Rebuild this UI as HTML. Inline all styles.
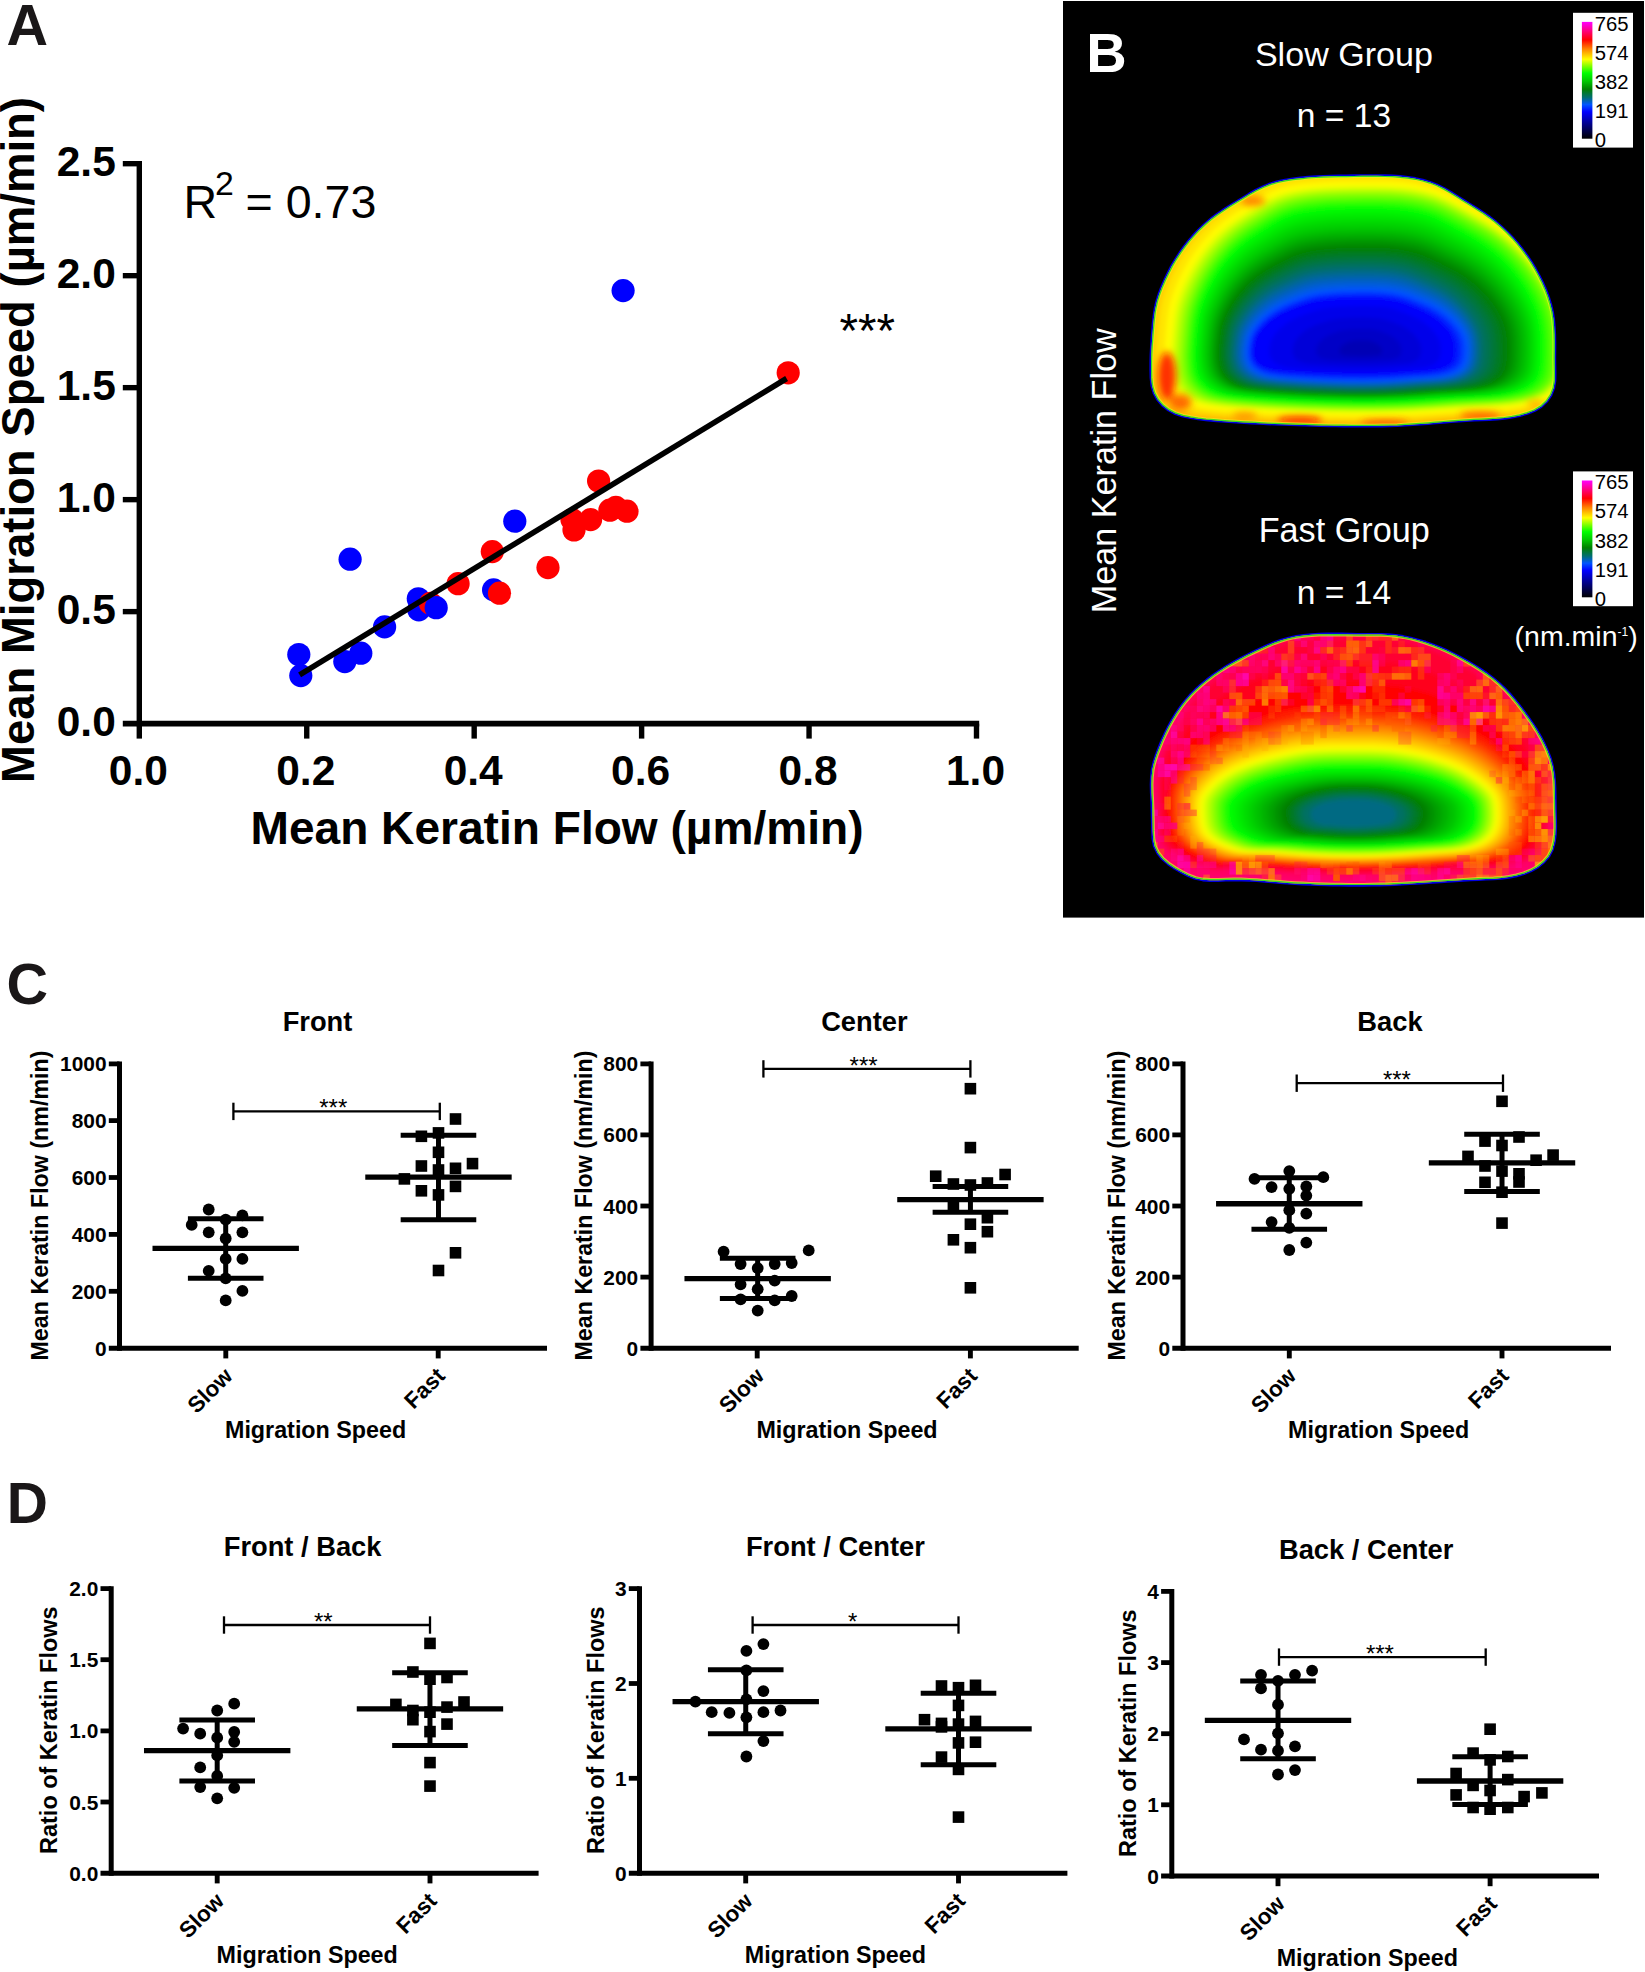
<!DOCTYPE html>
<html lang="en"><head><meta charset="utf-8"><title>Figure</title>
<style>html,body{margin:0;padding:0;background:#fff}svg{display:block}text{white-space:pre}</style>
</head><body>
<svg width="1645" height="1972" viewBox="0 0 1645 1972" font-family='"Liberation Sans", sans-serif'>
<rect width="1645" height="1972" fill="#fff"/>
<text x="6.60" y="45.20" font-size="57.5" font-weight="bold" text-anchor="start" fill="#1a1718">A</text>
<line x1="139.30" y1="161.00" x2="139.30" y2="726.30" stroke="#000" stroke-width="5.4" stroke-linecap="butt"/>
<line x1="122.80" y1="723.60" x2="979.20" y2="723.60" stroke="#000" stroke-width="5.6" stroke-linecap="butt"/>
<text x="115.80" y="736.00" font-size="42.5" font-weight="bold" text-anchor="end" fill="#000">0.0</text>
<line x1="122.80" y1="611.62" x2="139.30" y2="611.62" stroke="#000" stroke-width="5.4" stroke-linecap="butt"/>
<text x="115.80" y="624.02" font-size="42.5" font-weight="bold" text-anchor="end" fill="#000">0.5</text>
<line x1="122.80" y1="499.64" x2="139.30" y2="499.64" stroke="#000" stroke-width="5.4" stroke-linecap="butt"/>
<text x="115.80" y="512.04" font-size="42.5" font-weight="bold" text-anchor="end" fill="#000">1.0</text>
<line x1="122.80" y1="387.66" x2="139.30" y2="387.66" stroke="#000" stroke-width="5.4" stroke-linecap="butt"/>
<text x="115.80" y="400.06" font-size="42.5" font-weight="bold" text-anchor="end" fill="#000">1.5</text>
<line x1="122.80" y1="275.68" x2="139.30" y2="275.68" stroke="#000" stroke-width="5.4" stroke-linecap="butt"/>
<text x="115.80" y="288.08" font-size="42.5" font-weight="bold" text-anchor="end" fill="#000">2.0</text>
<line x1="122.80" y1="163.70" x2="139.30" y2="163.70" stroke="#000" stroke-width="5.4" stroke-linecap="butt"/>
<text x="115.80" y="176.10" font-size="42.5" font-weight="bold" text-anchor="end" fill="#000">2.5</text>
<line x1="139.30" y1="723.60" x2="139.30" y2="738.60" stroke="#000" stroke-width="5.4" stroke-linecap="butt"/>
<text x="138.30" y="785.00" font-size="42.5" font-weight="bold" text-anchor="middle" fill="#000">0.0</text>
<line x1="306.74" y1="723.60" x2="306.74" y2="738.60" stroke="#000" stroke-width="5.4" stroke-linecap="butt"/>
<text x="305.74" y="785.00" font-size="42.5" font-weight="bold" text-anchor="middle" fill="#000">0.2</text>
<line x1="474.18" y1="723.60" x2="474.18" y2="738.60" stroke="#000" stroke-width="5.4" stroke-linecap="butt"/>
<text x="473.18" y="785.00" font-size="42.5" font-weight="bold" text-anchor="middle" fill="#000">0.4</text>
<line x1="641.62" y1="723.60" x2="641.62" y2="738.60" stroke="#000" stroke-width="5.4" stroke-linecap="butt"/>
<text x="640.62" y="785.00" font-size="42.5" font-weight="bold" text-anchor="middle" fill="#000">0.6</text>
<line x1="809.06" y1="723.60" x2="809.06" y2="738.60" stroke="#000" stroke-width="5.4" stroke-linecap="butt"/>
<text x="808.06" y="785.00" font-size="42.5" font-weight="bold" text-anchor="middle" fill="#000">0.8</text>
<line x1="976.50" y1="723.60" x2="976.50" y2="738.60" stroke="#000" stroke-width="5.4" stroke-linecap="butt"/>
<text x="975.50" y="785.00" font-size="42.5" font-weight="bold" text-anchor="middle" fill="#000">1.0</text>
<text x="557.00" y="844.20" font-size="46.1" font-weight="bold" text-anchor="middle" fill="#000">Mean Keratin Flow (µm/min)</text>
<text x="33.60" y="440.00" font-size="45.5" font-weight="bold" text-anchor="middle" fill="#000" transform="rotate(-90 33.60 440.00)">Mean Migration Speed (µm/min)</text>
<text x="183.4" y="217.8" font-size="46.6" fill="#000">R<tspan dx="-2" dy="-23" font-size="33.8">2</tspan><tspan dx="-1.3" dy="23"> = 0.73</tspan></text>
<text x="839.60" y="346.60" font-size="47.5" text-anchor="start" fill="#000">***</text>
<circle cx="298.8" cy="654.5" r="11.6" fill="#0000ff"/>
<circle cx="300.8" cy="675.6" r="11.6" fill="#0000ff"/>
<circle cx="344.8" cy="661.6" r="11.6" fill="#0000ff"/>
<circle cx="360.8" cy="653.2" r="11.6" fill="#0000ff"/>
<circle cx="384.6" cy="626.9" r="11.6" fill="#0000ff"/>
<circle cx="350.1" cy="559.2" r="11.6" fill="#0000ff"/>
<circle cx="418.3" cy="598.8" r="11.6" fill="#0000ff"/>
<circle cx="418.8" cy="609.8" r="11.6" fill="#0000ff"/>
<circle cx="493.6" cy="589.9" r="11.6" fill="#0000ff"/>
<circle cx="514.8" cy="521.2" r="11.6" fill="#0000ff"/>
<circle cx="623.1" cy="290.6" r="11.6" fill="#0000ff"/>
<circle cx="430.5" cy="603.4" r="11.6" fill="#ff0000"/>
<circle cx="458.1" cy="583.7" r="11.6" fill="#ff0000"/>
<circle cx="499.5" cy="593.2" r="11.6" fill="#ff0000"/>
<circle cx="492.3" cy="551.6" r="11.6" fill="#ff0000"/>
<circle cx="548" cy="567.6" r="11.6" fill="#ff0000"/>
<circle cx="574" cy="530" r="11.6" fill="#ff0000"/>
<circle cx="572" cy="519.5" r="11.6" fill="#ff0000"/>
<circle cx="590.6" cy="519.6" r="11.6" fill="#ff0000"/>
<circle cx="609.9" cy="510.2" r="11.6" fill="#ff0000"/>
<circle cx="615.9" cy="507.4" r="11.6" fill="#ff0000"/>
<circle cx="627" cy="511.2" r="11.6" fill="#ff0000"/>
<circle cx="598.6" cy="481" r="11.6" fill="#ff0000"/>
<circle cx="788.2" cy="372.8" r="11.6" fill="#ff0000"/>
<circle cx="436.2" cy="607.7" r="11.6" fill="#0000ff"/>
<line x1="299.60" y1="674.90" x2="786.60" y2="378.50" stroke="#000" stroke-width="5.6" stroke-linecap="butt"/>
<defs><linearGradient id="cbar" x1="0" y1="0" x2="0" y2="1">
<stop offset="0.000" stop-color="#ff00ff"/>
<stop offset="0.092" stop-color="#ff0064"/>
<stop offset="0.153" stop-color="#ff0000"/>
<stop offset="0.230" stop-color="#ff8000"/>
<stop offset="0.320" stop-color="#ffff00"/>
<stop offset="0.438" stop-color="#00ff00"/>
<stop offset="0.507" stop-color="#00c800"/>
<stop offset="0.576" stop-color="#008000"/>
<stop offset="0.646" stop-color="#006e6e"/>
<stop offset="0.708" stop-color="#0055ff"/>
<stop offset="0.770" stop-color="#0000ff"/>
<stop offset="0.854" stop-color="#0000a0"/>
<stop offset="1.000" stop-color="#000000"/>
</linearGradient></defs>
<rect x="1063" y="1" width="581" height="916.6" fill="#000"/>
<text x="1086.20" y="71.80" font-size="56" font-weight="bold" text-anchor="start" fill="#fff">B</text>
<text x="1343.90" y="66.10" font-size="34.1" text-anchor="middle" fill="#fff">Slow Group</text>
<text x="1344.00" y="127.40" font-size="33.6" text-anchor="middle" fill="#fff">n = 13</text>
<text x="1344.20" y="542.20" font-size="34.2" text-anchor="middle" fill="#fff">Fast Group</text>
<text x="1344.00" y="603.70" font-size="33.6" text-anchor="middle" fill="#fff">n = 14</text>
<text x="1116.00" y="470.80" font-size="34.2" text-anchor="middle" fill="#fff" transform="rotate(-90 1116.00 470.80)">Mean Keratin Flow</text>
<text x="1514.6" y="645.8" font-size="28.5" fill="#fff">(nm.min<tspan dy="-10.2" font-size="12">-1</tspan><tspan dy="10.2">)</tspan></text>
<rect x="1573" y="12.8" width="60" height="134.8" fill="#fff"/>
<rect x="1581.9" y="21.9" width="10.5" height="116.8" fill="url(#cbar)"/>
<text x="1594.80" y="30.80" font-size="20.3" text-anchor="start" fill="#000">765</text>
<text x="1594.80" y="59.80" font-size="20.3" text-anchor="start" fill="#000">574</text>
<text x="1594.80" y="88.90" font-size="20.3" text-anchor="start" fill="#000">382</text>
<text x="1594.80" y="118.10" font-size="20.3" text-anchor="start" fill="#000">191</text>
<text x="1594.80" y="146.90" font-size="20.3" text-anchor="start" fill="#000">0</text>
<rect x="1573" y="471.4" width="60" height="134.8" fill="#fff"/>
<rect x="1581.9" y="480.5" width="10.5" height="116.8" fill="url(#cbar)"/>
<text x="1594.80" y="489.40" font-size="20.3" text-anchor="start" fill="#000">765</text>
<text x="1594.80" y="518.40" font-size="20.3" text-anchor="start" fill="#000">574</text>
<text x="1594.80" y="547.50" font-size="20.3" text-anchor="start" fill="#000">382</text>
<text x="1594.80" y="576.70" font-size="20.3" text-anchor="start" fill="#000">191</text>
<text x="1594.80" y="605.50" font-size="20.3" text-anchor="start" fill="#000">0</text>
<clipPath id="clipS"><path d="M1153.3,324.1 1154.1,316.5 1155.2,308.9 1156.9,301.4 1159.2,294.1 1161.9,286.9 1165.0,279.8 1168.3,272.9 1171.8,266.1 1175.7,259.5 1179.9,253.0 1184.4,246.8 1189.1,240.7 1194.2,234.9 1199.5,229.3 1205.1,224.1 1210.9,219.1 1217.0,214.5 1223.3,210.2 1229.8,206.1 1236.4,202.0 1243.0,198.0 1249.5,194.0 1256.2,190.2 1263.1,186.9 1270.2,184.1 1277.6,181.9 1285.2,180.3 1292.8,179.1 1300.5,178.2 1308.1,177.4 1315.7,176.9 1323.3,176.5 1330.9,176.3 1338.5,176.1 1346.1,176.0 1353.8,175.9 1361.5,175.8 1369.3,175.8 1377.1,175.8 1384.9,175.9 1392.6,176.1 1400.3,176.7 1407.9,177.5 1415.4,178.7 1422.8,180.4 1430.1,182.5 1437.1,185.2 1444.0,188.6 1450.7,192.4 1457.2,196.5 1463.8,200.7 1470.4,204.8 1477.0,208.9 1483.4,213.0 1489.7,217.4 1495.7,222.1 1501.5,227.1 1507.1,232.3 1512.4,237.8 1517.4,243.5 1522.2,249.5 1526.8,255.7 1531.1,262.1 1535.1,268.7 1538.8,275.4 1542.3,282.4 1545.4,289.4 1548.1,296.6 1550.4,303.9 1552.2,311.3 1553.4,318.8 1554.1,326.4 1554.5,334.0 1554.7,341.7 1554.7,349.4 1554.6,357.2 1554.7,365.0 1554.9,372.8 1554.8,380.6 1553.6,388.0 1550.9,395.0 1546.7,401.2 1541.2,406.4 1534.7,410.3 1527.3,413.2 1519.7,415.4 1512.1,416.9 1504.4,418.1 1496.8,418.8 1489.2,419.3 1481.6,419.7 1474.0,420.0 1466.3,420.4 1458.7,420.9 1451.0,421.4 1443.4,422.1 1435.7,422.7 1428.0,423.4 1420.4,424.0 1412.7,424.5 1405.0,425.0 1397.3,425.4 1389.7,425.6 1382.0,425.8 1374.4,425.9 1366.7,426.0 1359.0,426.0 1351.4,425.9 1343.7,425.8 1336.0,425.7 1328.4,425.6 1320.7,425.4 1313.0,425.2 1305.3,425.0 1297.6,424.7 1290.0,424.5 1282.3,424.2 1274.6,423.9 1266.9,423.6 1259.3,423.2 1251.6,422.8 1244.0,422.4 1236.3,421.9 1228.7,421.4 1221.1,420.9 1213.5,420.3 1205.9,419.6 1198.2,418.7 1190.5,417.5 1182.8,415.9 1175.4,413.5 1168.6,409.9 1162.6,405.2 1157.7,399.5 1154.1,392.9 1152.0,385.6 1151.2,377.9 1151.0,370.1 1151.0,362.3 1151.2,354.6 1151.6,347.0 1152.1,339.4 1152.7,331.7Z"/></clipPath>
<path d="M1153.3,324.1 1154.1,316.5 1155.2,308.9 1156.9,301.4 1159.2,294.1 1161.9,286.9 1165.0,279.8 1168.3,272.9 1171.8,266.1 1175.7,259.5 1179.9,253.0 1184.4,246.8 1189.1,240.7 1194.2,234.9 1199.5,229.3 1205.1,224.1 1210.9,219.1 1217.0,214.5 1223.3,210.2 1229.8,206.1 1236.4,202.0 1243.0,198.0 1249.5,194.0 1256.2,190.2 1263.1,186.9 1270.2,184.1 1277.6,181.9 1285.2,180.3 1292.8,179.1 1300.5,178.2 1308.1,177.4 1315.7,176.9 1323.3,176.5 1330.9,176.3 1338.5,176.1 1346.1,176.0 1353.8,175.9 1361.5,175.8 1369.3,175.8 1377.1,175.8 1384.9,175.9 1392.6,176.1 1400.3,176.7 1407.9,177.5 1415.4,178.7 1422.8,180.4 1430.1,182.5 1437.1,185.2 1444.0,188.6 1450.7,192.4 1457.2,196.5 1463.8,200.7 1470.4,204.8 1477.0,208.9 1483.4,213.0 1489.7,217.4 1495.7,222.1 1501.5,227.1 1507.1,232.3 1512.4,237.8 1517.4,243.5 1522.2,249.5 1526.8,255.7 1531.1,262.1 1535.1,268.7 1538.8,275.4 1542.3,282.4 1545.4,289.4 1548.1,296.6 1550.4,303.9 1552.2,311.3 1553.4,318.8 1554.1,326.4 1554.5,334.0 1554.7,341.7 1554.7,349.4 1554.6,357.2 1554.7,365.0 1554.9,372.8 1554.8,380.6 1553.6,388.0 1550.9,395.0 1546.7,401.2 1541.2,406.4 1534.7,410.3 1527.3,413.2 1519.7,415.4 1512.1,416.9 1504.4,418.1 1496.8,418.8 1489.2,419.3 1481.6,419.7 1474.0,420.0 1466.3,420.4 1458.7,420.9 1451.0,421.4 1443.4,422.1 1435.7,422.7 1428.0,423.4 1420.4,424.0 1412.7,424.5 1405.0,425.0 1397.3,425.4 1389.7,425.6 1382.0,425.8 1374.4,425.9 1366.7,426.0 1359.0,426.0 1351.4,425.9 1343.7,425.8 1336.0,425.7 1328.4,425.6 1320.7,425.4 1313.0,425.2 1305.3,425.0 1297.6,424.7 1290.0,424.5 1282.3,424.2 1274.6,423.9 1266.9,423.6 1259.3,423.2 1251.6,422.8 1244.0,422.4 1236.3,421.9 1228.7,421.4 1221.1,420.9 1213.5,420.3 1205.9,419.6 1198.2,418.7 1190.5,417.5 1182.8,415.9 1175.4,413.5 1168.6,409.9 1162.6,405.2 1157.7,399.5 1154.1,392.9 1152.0,385.6 1151.2,377.9 1151.0,370.1 1151.0,362.3 1151.2,354.6 1151.6,347.0 1152.1,339.4 1152.7,331.7Z" fill="none" stroke="#0000e0" stroke-width="3.2" stroke-linejoin="round"/>
<filter id="blurS" x="-5%" y="-5%" width="110%" height="110%"><feGaussianBlur stdDeviation="2.0"/></filter>
<g clip-path="url(#clipS)"><g filter="url(#blurS)">
<path d="M1153.3,324.1 1154.1,316.5 1155.2,308.9 1156.9,301.4 1159.2,294.1 1161.9,286.9 1165.0,279.8 1168.3,272.9 1171.8,266.1 1175.7,259.5 1179.9,253.0 1184.4,246.8 1189.1,240.7 1194.2,234.9 1199.5,229.3 1205.1,224.1 1210.9,219.1 1217.0,214.5 1223.3,210.2 1229.8,206.1 1236.4,202.0 1243.0,198.0 1249.5,194.0 1256.2,190.2 1263.1,186.9 1270.2,184.1 1277.6,181.9 1285.2,180.3 1292.8,179.1 1300.5,178.2 1308.1,177.4 1315.7,176.9 1323.3,176.5 1330.9,176.3 1338.5,176.1 1346.1,176.0 1353.8,175.9 1361.5,175.8 1369.3,175.8 1377.1,175.8 1384.9,175.9 1392.6,176.1 1400.3,176.7 1407.9,177.5 1415.4,178.7 1422.8,180.4 1430.1,182.5 1437.1,185.2 1444.0,188.6 1450.7,192.4 1457.2,196.5 1463.8,200.7 1470.4,204.8 1477.0,208.9 1483.4,213.0 1489.7,217.4 1495.7,222.1 1501.5,227.1 1507.1,232.3 1512.4,237.8 1517.4,243.5 1522.2,249.5 1526.8,255.7 1531.1,262.1 1535.1,268.7 1538.8,275.4 1542.3,282.4 1545.4,289.4 1548.1,296.6 1550.4,303.9 1552.2,311.3 1553.4,318.8 1554.1,326.4 1554.5,334.0 1554.7,341.7 1554.7,349.4 1554.6,357.2 1554.7,365.0 1554.9,372.8 1554.8,380.6 1553.6,388.0 1550.9,395.0 1546.7,401.2 1541.2,406.4 1534.7,410.3 1527.3,413.2 1519.7,415.4 1512.1,416.9 1504.4,418.1 1496.8,418.8 1489.2,419.3 1481.6,419.7 1474.0,420.0 1466.3,420.4 1458.7,420.9 1451.0,421.4 1443.4,422.1 1435.7,422.7 1428.0,423.4 1420.4,424.0 1412.7,424.5 1405.0,425.0 1397.3,425.4 1389.7,425.6 1382.0,425.8 1374.4,425.9 1366.7,426.0 1359.0,426.0 1351.4,425.9 1343.7,425.8 1336.0,425.7 1328.4,425.6 1320.7,425.4 1313.0,425.2 1305.3,425.0 1297.6,424.7 1290.0,424.5 1282.3,424.2 1274.6,423.9 1266.9,423.6 1259.3,423.2 1251.6,422.8 1244.0,422.4 1236.3,421.9 1228.7,421.4 1221.1,420.9 1213.5,420.3 1205.9,419.6 1198.2,418.7 1190.5,417.5 1182.8,415.9 1175.4,413.5 1168.6,409.9 1162.6,405.2 1157.7,399.5 1154.1,392.9 1152.0,385.6 1151.2,377.9 1151.0,370.1 1151.0,362.3 1151.2,354.6 1151.6,347.0 1152.1,339.4 1152.7,331.7Z" fill="#ff4e00" stroke="#ff4e00" stroke-width="8"/>
<path d="M1141.9,322.5 1143.2,310.3 1145.7,298.4 1149.5,286.8 1154.2,275.5 1159.5,264.6 1165.5,254.0 1172.3,243.8 1179.7,234.1 1187.7,224.9 1196.5,216.4 1205.8,208.7 1215.7,201.7 1226.0,195.2 1236.4,188.8 1246.9,182.5 1257.6,177.0 1269.0,172.8 1280.9,170.1 1293.1,168.2 1305.1,167.0 1317.2,166.2 1329.2,165.7 1341.2,165.5 1353.3,165.4 1365.7,165.3 1378.5,165.2 1391.3,165.4 1404.0,166.2 1416.6,167.7 1428.8,170.1 1440.7,173.7 1452.0,178.8 1463.0,185.0 1473.8,191.7 1484.7,198.2 1495.4,204.7 1505.7,211.8 1515.3,219.6 1524.4,228.0 1532.8,237.1 1540.6,246.6 1547.8,256.7 1554.3,267.3 1560.1,278.2 1565.1,289.5 1569.0,301.1 1571.7,312.9 1573.1,324.9 1573.6,337.0 1573.7,349.3 1573.7,361.5 1573.9,373.7 1573.4,385.7 1569.6,396.9 1562.1,406.2 1551.7,412.8 1539.5,417.0 1526.9,419.7 1514.3,421.3 1501.7,422.2 1489.2,422.8 1476.6,423.3 1464.0,424.1 1451.4,425.0 1438.7,426.1 1426.1,427.0 1413.4,427.9 1400.8,428.5 1388.2,428.9 1375.5,429.1 1362.9,429.1 1350.8,429.1 1338.6,428.9 1326.5,428.7 1314.4,428.4 1302.2,428.1 1290.1,427.7 1277.9,427.3 1265.8,426.8 1253.6,426.2 1241.5,425.6 1229.4,424.9 1217.4,424.1 1205.3,423.2 1193.3,422.0 1181.1,420.3 1169.1,417.5 1158.0,412.4 1148.9,404.6 1142.7,394.7 1139.9,383.1 1139.4,370.8 1139.5,358.7 1140.1,346.7 1140.9,334.6Z" fill="#ff5b00"/>
<path d="M1144.1,322.7 1145.3,310.7 1147.8,298.9 1151.5,287.4 1156.2,276.2 1161.5,265.4 1167.4,254.9 1174.1,244.8 1181.4,235.2 1189.4,226.1 1198.1,217.7 1207.3,210.0 1217.2,203.1 1227.4,196.7 1237.7,190.4 1248.0,184.1 1258.6,178.6 1269.9,174.5 1281.7,171.8 1293.7,170.0 1305.7,168.7 1317.6,167.9 1329.5,167.5 1341.4,167.3 1353.4,167.1 1365.7,167.0 1378.4,167.0 1391.1,167.2 1403.7,167.9 1416.2,169.4 1428.3,171.8 1440.1,175.4 1451.4,180.4 1462.3,186.6 1473.0,193.2 1483.8,199.6 1494.4,206.1 1504.6,213.1 1514.1,220.8 1523.1,229.2 1531.5,238.1 1539.2,247.6 1546.3,257.6 1552.8,268.1 1558.6,278.9 1563.5,290.1 1567.4,301.6 1570.1,313.3 1571.5,325.1 1572.0,337.1 1572.1,349.3 1572.1,361.4 1572.3,373.5 1571.8,385.4 1568.0,396.4 1560.6,405.6 1550.3,412.2 1538.1,416.4 1525.6,419.0 1513.1,420.6 1500.7,421.5 1488.2,422.0 1475.7,422.5 1463.2,423.3 1450.7,424.3 1438.2,425.3 1425.6,426.3 1413.1,427.1 1400.5,427.7 1388.0,428.1 1375.4,428.3 1362.9,428.3 1350.9,428.3 1338.9,428.1 1326.8,427.9 1314.8,427.6 1302.8,427.3 1290.8,426.9 1278.7,426.5 1266.7,426.0 1254.7,425.5 1242.7,424.8 1230.7,424.1 1218.8,423.3 1206.9,422.4 1194.9,421.3 1182.9,419.6 1170.9,416.8 1160.0,411.7 1151.0,404.1 1144.8,394.2 1142.1,382.7 1141.6,370.6 1141.7,358.7 1142.2,346.7 1143.0,334.8Z" fill="#ff7500"/>
<path d="M1146.2,323.0 1147.5,311.1 1149.9,299.4 1153.6,288.0 1158.2,277.0 1163.5,266.2 1169.4,255.8 1175.9,245.8 1183.2,236.3 1191.1,227.3 1199.7,219.0 1208.9,211.4 1218.6,204.5 1228.7,198.1 1238.9,191.9 1249.1,185.7 1259.7,180.3 1270.8,176.2 1282.5,173.5 1294.4,171.7 1306.2,170.5 1318.0,169.7 1329.8,169.2 1341.6,169.0 1353.5,168.9 1365.6,168.8 1378.3,168.7 1390.9,169.0 1403.4,169.7 1415.7,171.1 1427.8,173.5 1439.5,177.1 1450.7,182.0 1461.5,188.1 1472.1,194.7 1482.8,201.1 1493.4,207.5 1503.5,214.4 1513.0,222.1 1521.9,230.3 1530.2,239.2 1537.9,248.6 1544.9,258.5 1551.3,268.9 1557.1,279.6 1562.0,290.7 1565.9,302.0 1568.5,313.6 1569.9,325.4 1570.4,337.3 1570.5,349.3 1570.4,361.3 1570.7,373.3 1570.2,385.0 1566.4,395.9 1559.1,405.1 1548.8,411.6 1536.8,415.7 1524.4,418.3 1512.0,419.9 1499.6,420.7 1487.3,421.3 1474.9,421.8 1462.5,422.6 1450.0,423.5 1437.6,424.5 1425.1,425.5 1412.7,426.3 1400.2,426.9 1387.8,427.3 1375.3,427.5 1362.9,427.5 1351.0,427.5 1339.1,427.3 1327.2,427.1 1315.3,426.8 1303.4,426.5 1291.5,426.1 1279.5,425.7 1267.6,425.2 1255.7,424.7 1243.9,424.1 1232.0,423.4 1220.2,422.6 1208.4,421.7 1196.6,420.5 1184.6,418.9 1172.8,416.1 1162.0,411.1 1153.1,403.5 1146.9,393.8 1144.3,382.4 1143.7,370.4 1143.9,358.6 1144.4,346.8 1145.2,334.9Z" fill="#ff8d00"/>
<path d="M1148.3,323.3 1149.6,311.5 1152.0,299.9 1155.7,288.6 1160.2,277.7 1165.4,267.0 1171.3,256.7 1177.8,246.8 1185.0,237.4 1192.8,228.5 1201.3,220.2 1210.4,212.7 1220.0,205.9 1230.0,199.6 1240.1,193.4 1250.2,187.3 1260.7,181.9 1271.7,177.9 1283.3,175.2 1295.1,173.4 1306.8,172.2 1318.5,171.4 1330.1,171.0 1341.8,170.8 1353.6,170.6 1365.6,170.5 1378.1,170.5 1390.7,170.7 1403.1,171.4 1415.3,172.9 1427.3,175.2 1438.9,178.8 1450.0,183.7 1460.7,189.7 1471.3,196.2 1481.9,202.5 1492.4,208.9 1502.4,215.8 1511.8,223.3 1520.7,231.5 1528.9,240.3 1536.5,249.6 1543.5,259.4 1549.9,269.7 1555.6,280.3 1560.4,291.3 1564.3,302.5 1566.9,314.0 1568.3,325.6 1568.8,337.4 1568.9,349.3 1568.8,361.2 1569.1,373.0 1568.6,384.7 1564.9,395.5 1557.6,404.5 1547.4,410.9 1535.5,415.0 1523.1,417.6 1510.8,419.1 1498.6,420.0 1486.3,420.5 1474.0,421.1 1461.7,421.8 1449.4,422.8 1437.0,423.8 1424.6,424.7 1412.3,425.5 1399.9,426.1 1387.6,426.5 1375.2,426.7 1362.9,426.7 1351.1,426.7 1339.3,426.5 1327.5,426.3 1315.8,426.0 1304.0,425.7 1292.2,425.3 1280.4,424.9 1268.6,424.4 1256.8,423.9 1245.0,423.3 1233.3,422.6 1221.6,421.8 1209.9,421.0 1198.2,419.8 1186.4,418.2 1174.7,415.4 1164.0,410.5 1155.2,403.0 1149.1,393.3 1146.4,382.1 1145.9,370.2 1146.0,358.5 1146.5,346.8 1147.3,335.1Z" fill="#ffa300"/>
<path d="M1150.5,323.6 1151.7,311.9 1154.1,300.4 1157.7,289.2 1162.3,278.4 1167.4,267.9 1173.2,257.7 1179.6,247.9 1186.8,238.5 1194.5,229.7 1202.9,221.5 1211.9,214.1 1221.4,207.3 1231.3,201.1 1241.3,195.0 1251.4,188.9 1261.7,183.6 1272.6,179.6 1284.1,176.9 1295.8,175.2 1307.4,174.0 1318.9,173.2 1330.5,172.7 1342.0,172.5 1353.7,172.4 1365.6,172.3 1378.0,172.2 1390.5,172.5 1402.8,173.2 1414.9,174.6 1426.8,177.0 1438.3,180.4 1449.3,185.3 1460.0,191.3 1470.4,197.7 1481.0,204.0 1491.4,210.3 1501.3,217.1 1510.6,224.6 1519.4,232.7 1527.6,241.4 1535.2,250.6 1542.1,260.3 1548.4,270.5 1554.1,281.0 1558.9,291.8 1562.7,303.0 1565.3,314.3 1566.7,325.9 1567.2,337.6 1567.3,349.4 1567.2,361.0 1567.5,372.8 1567.0,384.2 1563.3,394.9 1556.1,403.8 1545.9,410.1 1534.1,414.2 1521.9,416.7 1509.7,418.2 1497.5,419.1 1485.3,419.6 1473.1,420.1 1460.9,420.9 1448.7,421.8 1436.4,422.8 1424.2,423.7 1411.9,424.5 1399.6,425.1 1387.4,425.5 1375.1,425.7 1362.9,425.7 1351.2,425.7 1339.6,425.5 1327.9,425.3 1316.2,425.0 1304.5,424.7 1292.9,424.3 1281.2,423.9 1269.5,423.5 1257.9,422.9 1246.2,422.3 1234.6,421.7 1223.0,420.9 1211.4,420.0 1199.9,418.9 1188.2,417.3 1176.6,414.6 1166.0,409.7 1157.2,402.3 1151.2,392.8 1148.6,381.7 1148.1,370.0 1148.2,358.4 1148.7,346.9 1149.5,335.2Z" fill="#ffb900"/>
<path d="M1152.6,323.8 1153.9,312.3 1156.2,300.9 1159.8,289.9 1164.3,279.1 1169.4,268.7 1175.1,258.6 1181.5,248.9 1188.5,239.6 1196.2,230.9 1204.5,222.8 1213.4,215.4 1222.9,208.7 1232.7,202.6 1242.5,196.5 1252.5,190.5 1262.7,185.2 1273.6,181.3 1284.9,178.6 1296.4,176.9 1307.9,175.7 1319.4,174.9 1330.8,174.5 1342.3,174.3 1353.8,174.2 1365.6,174.0 1377.9,174.0 1390.2,174.2 1402.5,174.9 1414.5,176.3 1426.3,178.7 1437.7,182.1 1448.6,186.9 1459.2,192.9 1469.6,199.2 1480.0,205.4 1490.3,211.7 1500.2,218.4 1509.5,225.8 1518.2,233.8 1526.3,242.5 1533.8,251.6 1540.7,261.2 1547.0,271.3 1552.6,281.7 1557.4,292.4 1561.1,303.5 1563.7,314.7 1565.1,326.1 1565.6,337.7 1565.6,349.4 1565.6,360.6 1565.9,371.8 1565.4,382.8 1561.7,393.0 1554.5,401.5 1544.5,407.6 1532.8,411.4 1520.6,413.9 1508.5,415.3 1496.4,416.2 1484.4,416.7 1472.3,417.2 1460.1,417.9 1448.0,418.8 1435.8,419.7 1423.7,420.6 1411.5,421.3 1399.3,421.9 1387.2,422.3 1375.0,422.4 1362.9,422.5 1351.3,422.5 1339.8,422.3 1328.2,422.1 1316.7,421.8 1305.1,421.5 1293.6,421.2 1282.0,420.8 1270.5,420.4 1258.9,419.8 1247.4,419.3 1235.9,418.6 1224.4,417.9 1213.0,417.1 1201.5,416.0 1189.9,414.4 1178.4,411.8 1167.9,407.2 1159.3,400.1 1153.3,391.0 1150.7,380.4 1150.2,369.2 1150.4,358.1 1150.9,346.9 1151.6,335.4Z" fill="#ffcf00"/>
<path d="M1158.6,324.1 1159.8,312.7 1162.1,301.4 1165.7,290.5 1170.0,279.9 1175.0,269.5 1180.5,259.6 1186.7,250.0 1193.6,240.8 1201.1,232.2 1209.1,224.2 1217.8,216.9 1226.9,210.3 1236.5,204.2 1246.1,198.2 1255.7,192.3 1265.7,187.0 1276.2,183.1 1287.2,180.5 1298.4,178.7 1309.5,177.5 1320.6,176.7 1331.7,176.3 1342.8,176.0 1354.0,175.9 1365.5,175.8 1377.8,175.8 1390.0,176.0 1402.1,176.7 1414.1,178.1 1425.7,180.5 1437.0,183.9 1447.9,188.6 1458.4,194.5 1468.7,200.7 1479.1,206.9 1489.3,213.1 1499.1,219.7 1508.3,227.1 1516.9,235.0 1525.0,243.6 1532.4,252.6 1539.2,262.1 1545.4,272.1 1551.0,282.4 1555.7,293.0 1559.5,304.0 1562.1,315.1 1563.5,326.4 1564.0,337.8 1564.0,349.4 1564.0,360.2 1564.1,370.9 1563.4,381.3 1559.6,391.0 1552.4,399.1 1542.4,404.8 1530.8,408.5 1518.8,410.8 1506.9,412.3 1495.0,413.1 1483.2,413.6 1471.2,414.1 1459.3,414.8 1447.3,415.7 1435.2,416.6 1423.2,417.4 1411.1,418.2 1399.0,418.7 1387.0,419.0 1374.9,419.2 1362.9,419.3 1351.6,419.2 1340.4,419.1 1329.2,418.9 1318.0,418.6 1306.8,418.3 1295.6,418.0 1284.4,417.6 1273.2,417.1 1262.0,416.6 1250.9,416.1 1239.8,415.4 1228.7,414.7 1217.7,413.9 1206.6,412.8 1195.5,411.3 1184.4,408.9 1174.2,404.4 1165.8,397.7 1159.8,389.1 1157.1,379.0 1156.4,368.4 1156.4,357.8 1156.9,347.0 1157.6,335.5Z" fill="#ffe500"/>
<path d="M1166.5,325.0 1167.7,313.9 1169.9,303.0 1173.3,292.4 1177.5,282.2 1182.3,272.2 1187.7,262.5 1193.7,253.3 1200.3,244.4 1207.5,236.1 1215.2,228.3 1223.5,221.3 1232.3,214.9 1241.4,209.0 1250.7,203.2 1259.9,197.5 1269.5,192.4 1279.6,188.6 1290.2,186.1 1300.9,184.3 1311.6,183.2 1322.2,182.4 1332.9,181.9 1343.6,181.6 1354.4,181.5 1365.5,181.4 1377.7,181.4 1389.8,181.6 1401.8,182.3 1413.6,183.7 1425.2,186.0 1436.4,189.3 1447.2,193.9 1457.6,199.5 1467.9,205.6 1478.2,211.5 1488.3,217.5 1498.0,224.0 1507.1,231.1 1515.6,238.8 1523.6,247.0 1531.0,255.8 1537.8,265.0 1543.9,274.6 1549.4,284.6 1554.1,294.9 1557.9,305.5 1560.4,316.2 1561.8,327.2 1562.4,338.3 1562.4,349.5 1562.3,359.8 1562.3,369.9 1561.4,379.9 1557.4,389.0 1550.2,396.7 1540.3,402.1 1528.8,405.6 1517.0,407.8 1505.3,409.2 1493.6,410.0 1481.9,410.5 1470.2,411.0 1458.4,411.7 1446.5,412.6 1434.6,413.4 1422.6,414.3 1410.7,415.0 1398.7,415.5 1386.8,415.8 1374.8,416.0 1362.9,416.1 1352.1,416.0 1341.3,415.9 1330.5,415.7 1319.7,415.4 1309.0,415.1 1298.2,414.8 1287.5,414.4 1276.8,413.9 1266.1,413.4 1255.4,412.9 1244.8,412.2 1234.3,411.5 1223.8,410.7 1213.2,409.7 1202.6,408.3 1192.0,405.9 1182.3,401.7 1174.1,395.4 1168.2,387.2 1165.4,377.7 1164.5,367.6 1164.4,357.5 1164.8,347.1 1165.5,336.1Z" fill="#fffb00"/>
<path d="M1173.0,325.7 1174.2,314.9 1176.3,304.3 1179.6,294.1 1183.7,284.1 1188.3,274.4 1193.5,265.0 1199.3,256.0 1205.7,247.4 1212.7,239.3 1220.2,231.8 1228.2,224.9 1236.7,218.7 1245.5,212.9 1254.4,207.3 1263.4,201.8 1272.7,196.9 1282.4,193.2 1292.6,190.7 1303.0,189.0 1313.3,187.8 1323.6,187.0 1333.9,186.5 1344.2,186.2 1354.6,186.1 1365.5,186.0 1377.5,186.0 1389.6,186.3 1401.5,187.0 1413.2,188.3 1424.7,190.5 1435.8,193.8 1446.5,198.2 1456.8,203.7 1467.0,209.5 1477.2,215.3 1487.2,221.1 1496.8,227.4 1505.9,234.4 1514.4,241.9 1522.3,249.9 1529.6,258.4 1536.3,267.4 1542.4,276.7 1547.9,286.4 1552.6,296.5 1556.2,306.7 1558.8,317.2 1560.2,327.8 1560.8,338.6 1560.8,349.5 1560.7,359.4 1560.6,369.0 1559.5,378.4 1555.4,387.1 1548.1,394.3 1538.3,399.4 1527.0,402.8 1515.4,404.9 1503.8,406.2 1492.3,407.0 1480.8,407.5 1469.2,408.0 1457.5,408.7 1445.8,409.5 1434.0,410.3 1422.1,411.1 1410.3,411.8 1398.4,412.3 1386.6,412.6 1374.7,412.8 1362.9,412.8 1352.4,412.8 1342.0,412.7 1331.6,412.5 1321.2,412.2 1310.8,411.9 1300.4,411.6 1290.0,411.2 1279.7,410.8 1269.4,410.3 1259.1,409.7 1248.9,409.1 1238.8,408.4 1228.7,407.6 1218.6,406.7 1208.3,405.3 1198.2,403.0 1188.7,399.1 1180.8,393.1 1175.0,385.4 1172.1,376.3 1171.2,366.7 1171.0,357.2 1171.3,347.2 1172.1,336.5Z" fill="#e3ff00"/>
<path d="M1176.7,326.1 1177.8,315.5 1180.0,305.1 1183.2,295.0 1187.2,285.2 1191.8,275.6 1196.9,266.4 1202.6,257.5 1208.8,249.1 1215.6,241.1 1223.0,233.7 1230.9,227.0 1239.2,220.9 1247.8,215.2 1256.6,209.7 1265.4,204.2 1274.4,199.4 1284.0,195.8 1294.0,193.3 1304.1,191.6 1314.2,190.5 1324.3,189.7 1334.4,189.2 1344.6,188.9 1354.8,188.8 1365.5,188.7 1377.4,188.7 1389.3,188.9 1401.2,189.7 1412.8,191.0 1424.2,193.2 1435.2,196.3 1445.8,200.7 1456.0,206.1 1466.2,211.8 1476.3,217.5 1486.2,223.3 1495.7,229.5 1504.7,236.3 1513.1,243.6 1521.0,251.5 1528.2,259.9 1534.9,268.7 1540.9,277.9 1546.4,287.5 1551.0,297.4 1554.7,307.5 1557.2,317.8 1558.6,328.2 1559.2,338.8 1559.2,349.6 1559.1,359.2 1558.9,368.6 1557.7,377.7 1553.6,386.1 1546.4,393.2 1536.6,398.2 1525.4,401.4 1513.9,403.5 1502.5,404.8 1491.1,405.5 1479.7,406.1 1468.3,406.6 1456.7,407.2 1445.1,408.0 1433.4,408.9 1421.7,409.6 1409.9,410.3 1398.2,410.8 1386.4,411.1 1374.6,411.3 1362.9,411.3 1352.6,411.3 1342.4,411.1 1332.2,410.9 1322.0,410.7 1311.8,410.4 1301.6,410.1 1291.5,409.7 1281.3,409.3 1271.3,408.8 1261.2,408.2 1251.3,407.6 1241.3,406.9 1231.4,406.2 1221.6,405.2 1211.6,403.9 1201.6,401.7 1192.4,397.8 1184.6,392.0 1178.9,384.5 1176.0,375.7 1174.9,366.4 1174.7,357.1 1175.0,347.3 1175.7,336.7Z" fill="#c1ff00"/>
<path d="M1180.3,326.5 1181.5,316.1 1183.6,305.9 1186.8,295.9 1190.7,286.3 1195.2,276.9 1200.2,267.8 1205.8,259.1 1211.9,250.8 1218.6,243.0 1225.8,235.7 1233.5,229.1 1241.7,223.1 1250.1,217.5 1258.7,212.0 1267.3,206.7 1276.2,202.0 1285.6,198.4 1295.4,196.0 1305.3,194.3 1315.2,193.1 1325.1,192.3 1335.0,191.9 1344.9,191.6 1354.9,191.4 1365.4,191.3 1377.3,191.3 1389.1,191.6 1400.8,192.3 1412.4,193.7 1423.6,195.8 1434.6,198.9 1445.1,203.2 1455.3,208.5 1465.3,214.1 1475.3,219.7 1485.2,225.4 1494.6,231.5 1503.5,238.2 1511.9,245.4 1519.6,253.2 1526.8,261.4 1533.5,270.1 1539.5,279.2 1544.8,288.6 1549.4,298.2 1553.1,308.2 1555.6,318.3 1557.0,328.6 1557.5,339.0 1557.6,349.6 1557.5,359.0 1557.2,368.2 1556.0,377.1 1551.9,385.3 1544.6,392.2 1535.0,397.1 1523.9,400.2 1512.5,402.2 1501.2,403.5 1490.0,404.3 1478.7,404.8 1467.4,405.3 1455.9,405.9 1444.4,406.7 1432.8,407.5 1421.2,408.3 1409.5,408.9 1397.9,409.4 1386.2,409.7 1374.5,409.9 1362.9,410.0 1352.8,409.9 1342.8,409.8 1332.8,409.6 1322.8,409.3 1312.8,409.0 1302.8,408.7 1292.9,408.3 1283.0,407.9 1273.1,407.4 1263.3,406.9 1253.6,406.3 1243.8,405.6 1234.2,404.9 1224.5,403.9 1214.8,402.6 1205.1,400.4 1196.0,396.7 1188.3,391.0 1182.7,383.7 1179.8,375.1 1178.7,366.0 1178.4,356.9 1178.8,347.4 1179.4,337.0Z" fill="#9fff00"/>
<path d="M1184.0,327.0 1185.2,316.7 1187.2,306.6 1190.4,296.9 1194.2,287.4 1198.6,278.1 1203.5,269.2 1209.0,260.7 1215.0,252.5 1221.5,244.8 1228.6,237.7 1236.2,231.1 1244.1,225.2 1252.4,219.8 1260.8,214.4 1269.3,209.2 1278.0,204.5 1287.2,201.0 1296.7,198.6 1306.5,197.0 1316.2,195.8 1325.9,195.0 1335.5,194.5 1345.3,194.3 1355.1,194.1 1365.4,194.0 1377.2,194.0 1388.9,194.3 1400.5,195.0 1412.0,196.3 1423.1,198.4 1434.0,201.5 1444.4,205.7 1454.5,210.9 1464.5,216.4 1474.4,221.9 1484.2,227.5 1493.5,233.5 1502.4,240.1 1510.6,247.2 1518.3,254.8 1525.5,262.9 1532.0,271.5 1538.0,280.4 1543.3,289.6 1547.9,299.1 1551.5,308.9 1554.0,318.9 1555.4,329.0 1555.9,339.2 1556.0,349.6 1555.8,358.8 1555.5,367.8 1554.3,376.5 1550.1,384.5 1542.9,391.2 1533.3,395.9 1522.3,399.0 1511.1,401.0 1499.9,402.2 1488.8,403.0 1477.6,403.5 1466.4,404.0 1455.1,404.6 1443.7,405.4 1432.2,406.2 1420.7,407.0 1409.1,407.6 1397.6,408.1 1386.0,408.4 1374.4,408.5 1362.9,408.6 1353.0,408.5 1343.2,408.4 1333.4,408.2 1323.6,408.0 1313.8,407.7 1304.0,407.4 1294.3,407.0 1284.6,406.6 1275.0,406.1 1265.4,405.6 1255.8,405.0 1246.4,404.3 1236.9,403.5 1227.5,402.6 1218.0,401.3 1208.5,399.2 1199.6,395.6 1192.0,390.0 1186.5,382.9 1183.6,374.6 1182.5,365.7 1182.1,356.8 1182.5,347.4 1183.1,337.2Z" fill="#7dff00"/>
<path d="M1187.3,327.4 1188.4,317.4 1190.5,307.5 1193.5,298.0 1197.3,288.6 1201.6,279.6 1206.4,270.9 1211.8,262.5 1217.7,254.5 1224.2,247.0 1231.1,240.0 1238.5,233.6 1246.3,227.8 1254.5,222.4 1262.7,217.2 1271.0,212.1 1279.6,207.5 1288.6,204.1 1298.0,201.7 1307.5,200.1 1317.0,198.9 1326.5,198.2 1336.0,197.7 1345.6,197.4 1355.2,197.2 1365.4,197.1 1377.0,197.2 1388.6,197.4 1400.1,198.1 1411.4,199.4 1422.5,201.5 1433.2,204.5 1443.5,208.6 1453.5,213.7 1463.4,219.1 1473.2,224.5 1482.9,230.0 1492.1,235.8 1500.9,242.3 1509.0,249.3 1516.7,256.8 1523.7,264.7 1530.2,273.1 1536.1,281.8 1541.4,290.8 1545.9,300.2 1549.5,309.8 1551.9,319.5 1553.3,329.4 1553.9,339.5 1554.0,349.7 1553.8,358.7 1553.4,367.4 1552.1,375.9 1548.0,383.7 1540.8,390.2 1531.3,394.8 1520.4,397.8 1509.3,399.7 1498.3,401.0 1487.4,401.7 1476.4,402.2 1465.3,402.7 1454.1,403.3 1442.8,404.1 1431.4,404.9 1420.0,405.6 1408.6,406.2 1397.2,406.7 1385.8,407.0 1374.3,407.2 1362.9,407.2 1353.2,407.2 1343.5,407.0 1333.9,406.9 1324.3,406.6 1314.7,406.3 1305.1,406.0 1295.6,405.6 1286.1,405.2 1276.6,404.7 1267.2,404.2 1257.9,403.6 1248.6,403.0 1239.4,402.2 1230.1,401.3 1220.8,400.1 1211.5,398.0 1202.8,394.5 1195.3,389.1 1189.9,382.1 1186.9,374.0 1185.8,365.3 1185.4,356.7 1185.7,347.5 1186.4,337.5Z" fill="#5bff00"/>
<path d="M1190.2,328.0 1191.4,318.2 1193.4,308.5 1196.4,299.2 1200.1,290.1 1204.3,281.2 1209.1,272.7 1214.4,264.5 1220.2,256.7 1226.5,249.3 1233.3,242.5 1240.6,236.3 1248.3,230.6 1256.3,225.4 1264.4,220.2 1272.6,215.2 1281.0,210.8 1289.8,207.4 1299.1,205.1 1308.4,203.5 1317.8,202.4 1327.1,201.6 1336.5,201.1 1345.9,200.9 1355.3,200.7 1365.3,200.6 1376.7,200.6 1388.0,200.9 1399.3,201.6 1410.3,202.9 1421.1,204.9 1431.6,207.8 1441.7,211.8 1451.5,216.8 1461.1,222.1 1470.8,227.4 1480.2,232.7 1489.3,238.4 1497.8,244.8 1505.8,251.6 1513.3,258.9 1520.2,266.7 1526.5,274.8 1532.3,283.4 1537.4,292.2 1541.8,301.3 1545.3,310.7 1547.8,320.2 1549.1,329.9 1549.7,339.8 1549.8,349.7 1549.6,358.5 1549.2,367.0 1547.8,375.2 1543.7,382.8 1536.6,389.2 1527.3,393.7 1516.7,396.6 1505.9,398.5 1495.2,399.7 1484.5,400.4 1473.8,400.9 1463.0,401.4 1452.0,402.0 1441.0,402.8 1429.9,403.6 1418.8,404.3 1407.6,404.9 1396.4,405.3 1385.2,405.6 1374.0,405.8 1362.8,405.9 1353.3,405.8 1343.9,405.7 1334.4,405.5 1324.9,405.3 1315.5,405.0 1306.1,404.7 1296.7,404.3 1287.4,403.9 1278.1,403.4 1268.9,402.9 1259.8,402.3 1250.6,401.7 1241.6,400.9 1232.5,400.0 1223.4,398.8 1214.3,396.8 1205.7,393.3 1198.4,388.1 1193.0,381.3 1190.0,373.4 1188.8,365.0 1188.4,356.6 1188.7,347.6 1189.4,337.8Z" fill="#39ff00"/>
<path d="M1193.2,328.5 1194.3,318.9 1196.3,309.5 1199.3,300.4 1202.9,291.5 1207.1,282.9 1211.8,274.5 1217.0,266.5 1222.7,258.9 1228.9,251.7 1235.6,245.0 1242.8,238.9 1250.3,233.4 1258.2,228.3 1266.2,223.3 1274.2,218.4 1282.4,214.1 1291.1,210.8 1300.2,208.5 1309.4,207.0 1318.6,205.8 1327.8,205.1 1336.9,204.6 1346.2,204.3 1355.5,204.2 1365.3,204.1 1376.4,204.1 1387.5,204.4 1398.4,205.1 1409.3,206.3 1419.8,208.3 1430.1,211.2 1439.9,215.1 1449.5,219.9 1458.9,225.1 1468.3,230.2 1477.6,235.4 1486.4,241.1 1494.8,247.2 1502.6,253.9 1509.9,261.0 1516.6,268.6 1522.8,276.6 1528.4,284.9 1533.5,293.6 1537.8,302.5 1541.2,311.6 1543.6,321.0 1544.9,330.4 1545.5,340.0 1545.6,349.7 1545.4,358.3 1544.9,366.6 1543.5,374.6 1539.4,382.0 1532.5,388.2 1523.4,392.6 1513.1,395.4 1502.5,397.2 1492.0,398.4 1481.6,399.1 1471.2,399.6 1460.6,400.1 1450.0,400.7 1439.2,401.5 1428.4,402.2 1417.5,403.0 1406.6,403.5 1395.7,404.0 1384.7,404.3 1373.8,404.4 1362.8,404.5 1353.5,404.4 1344.2,404.3 1334.9,404.1 1325.6,403.9 1316.3,403.6 1307.1,403.3 1297.9,402.9 1288.7,402.5 1279.6,402.1 1270.6,401.5 1261.6,401.0 1252.7,400.3 1243.8,399.6 1235.0,398.7 1226.0,397.5 1217.1,395.6 1208.7,392.2 1201.4,387.1 1196.0,380.6 1193.1,372.9 1191.8,364.6 1191.4,356.4 1191.7,347.7 1192.3,338.1Z" fill="#17ff00"/>
<path d="M1196.1,329.1 1197.3,319.7 1199.2,310.5 1202.2,301.6 1205.7,292.9 1209.8,284.5 1214.4,276.4 1219.5,268.5 1225.2,261.1 1231.3,254.1 1237.9,247.6 1244.9,241.6 1252.3,236.2 1260.0,231.2 1267.9,226.4 1275.8,221.6 1283.9,217.4 1292.4,214.2 1301.3,211.9 1310.3,210.4 1319.4,209.3 1328.4,208.5 1337.4,208.1 1346.5,207.8 1355.6,207.6 1365.2,207.5 1376.1,207.6 1386.9,207.8 1397.6,208.5 1408.2,209.7 1418.5,211.7 1428.5,214.5 1438.1,218.3 1447.5,223.0 1456.7,228.1 1465.9,233.1 1474.9,238.2 1483.6,243.7 1491.7,249.7 1499.3,256.2 1506.5,263.2 1513.1,270.6 1519.1,278.4 1524.6,286.5 1529.5,295.0 1533.7,303.7 1537.1,312.6 1539.4,321.7 1540.7,330.9 1541.3,340.3 1541.4,349.8 1541.2,358.1 1540.7,366.2 1539.2,374.0 1535.2,381.2 1528.4,387.2 1519.5,391.4 1509.4,394.2 1499.1,396.0 1488.9,397.1 1478.8,397.9 1468.6,398.4 1458.3,398.8 1447.9,399.5 1437.4,400.2 1426.9,400.9 1416.2,401.6 1405.6,402.2 1394.9,402.6 1384.2,402.9 1373.5,403.1 1362.8,403.1 1353.6,403.1 1344.5,403.0 1335.4,402.8 1326.2,402.5 1317.1,402.3 1308.1,401.9 1299.1,401.6 1290.1,401.2 1281.1,400.7 1272.3,400.2 1263.5,399.6 1254.7,399.0 1246.0,398.3 1237.4,397.5 1228.6,396.3 1219.8,394.4 1211.6,391.1 1204.5,386.2 1199.1,379.8 1196.1,372.3 1194.9,364.3 1194.4,356.3 1194.7,347.8 1195.3,338.4Z" fill="#00fb00"/>
<path d="M1198.9,329.7 1200.0,320.7 1201.9,311.8 1204.8,303.1 1208.3,294.7 1212.3,286.6 1216.9,278.7 1221.9,271.1 1227.4,263.9 1233.5,257.1 1239.9,250.8 1246.8,245.0 1254.2,239.8 1261.7,235.0 1269.4,230.2 1277.2,225.6 1285.2,221.6 1293.6,218.4 1302.3,216.3 1311.2,214.8 1320.1,213.7 1328.9,212.9 1337.8,212.5 1346.7,212.2 1355.7,212.1 1365.2,212.0 1375.8,212.0 1386.4,212.3 1397.0,212.9 1407.3,214.1 1417.5,216.0 1427.3,218.7 1436.8,222.4 1445.9,227.0 1455.0,231.9 1464.0,236.7 1472.9,241.7 1481.4,247.0 1489.3,252.8 1496.8,259.1 1503.8,265.9 1510.3,273.1 1516.3,280.6 1521.7,288.5 1526.5,296.7 1530.6,305.1 1533.9,313.8 1536.2,322.6 1537.5,331.6 1538.0,340.6 1538.1,349.8 1537.9,358.0 1537.4,365.8 1535.9,373.5 1531.9,380.5 1525.1,386.3 1516.4,390.5 1506.5,393.2 1496.5,394.9 1486.5,396.0 1476.6,396.7 1466.6,397.2 1456.5,397.7 1446.4,398.3 1436.1,399.0 1425.7,399.8 1415.2,400.4 1404.8,401.0 1394.3,401.4 1383.8,401.7 1373.3,401.9 1362.8,401.9 1353.8,401.9 1344.8,401.7 1335.8,401.6 1326.8,401.3 1317.9,401.1 1309.0,400.8 1300.1,400.4 1291.3,400.0 1282.5,399.5 1273.8,399.0 1265.2,398.5 1256.6,397.9 1248.1,397.2 1239.5,396.3 1230.9,395.2 1222.3,393.3 1214.2,390.1 1207.2,385.3 1201.9,379.1 1198.9,371.8 1197.6,364.0 1197.2,356.2 1197.4,347.9 1198.0,338.8Z" fill="#00ee00"/>
<path d="M1201.5,330.5 1202.6,321.7 1204.5,313.1 1207.4,304.7 1210.8,296.6 1214.8,288.7 1219.2,281.1 1224.2,273.8 1229.7,266.8 1235.6,260.3 1241.9,254.2 1248.7,248.6 1255.9,243.5 1263.4,238.9 1271.0,234.3 1278.6,229.8 1286.4,225.9 1294.7,222.9 1303.3,220.8 1312.0,219.3 1320.8,218.3 1329.5,217.5 1338.2,217.1 1347.0,216.8 1355.8,216.7 1365.1,216.6 1375.6,216.6 1386.0,216.9 1396.4,217.5 1406.6,218.7 1416.5,220.5 1426.1,223.1 1435.5,226.7 1444.5,231.1 1453.4,235.8 1462.3,240.5 1471.0,245.3 1479.3,250.4 1487.1,256.1 1494.5,262.2 1501.4,268.7 1507.7,275.7 1513.6,283.0 1518.9,290.6 1523.6,298.5 1527.7,306.7 1530.9,315.0 1533.2,323.6 1534.4,332.2 1535.0,341.0 1535.1,349.9 1534.9,357.8 1534.3,365.5 1532.8,372.9 1528.8,379.8 1522.1,385.4 1513.5,389.5 1503.9,392.1 1494.0,393.8 1484.2,394.9 1474.5,395.6 1464.7,396.1 1454.9,396.6 1444.9,397.2 1434.8,397.9 1424.6,398.6 1414.3,399.3 1404.0,399.8 1393.8,400.2 1383.5,400.5 1373.1,400.7 1362.8,400.7 1353.9,400.7 1345.1,400.6 1336.2,400.4 1327.4,400.2 1318.6,399.9 1309.9,399.6 1301.1,399.2 1292.5,398.8 1283.9,398.4 1275.3,397.9 1266.8,397.3 1258.4,396.7 1250.0,396.1 1241.7,395.2 1233.2,394.1 1224.8,392.3 1216.8,389.2 1209.9,384.5 1204.7,378.4 1201.7,371.3 1200.3,363.7 1199.8,356.1 1200.1,348.0 1200.7,339.2Z" fill="#00e200"/>
<path d="M1204.2,331.2 1205.2,322.7 1207.1,314.4 1209.9,306.3 1213.4,298.5 1217.3,290.9 1221.6,283.5 1226.5,276.5 1231.9,269.7 1237.7,263.4 1244.0,257.5 1250.7,252.1 1257.7,247.3 1265.1,242.7 1272.5,238.3 1280.0,234.0 1287.7,230.2 1295.8,227.3 1304.3,225.3 1312.9,223.9 1321.5,222.8 1330.0,222.1 1338.6,221.7 1347.2,221.4 1355.9,221.3 1365.1,221.2 1375.3,221.2 1385.6,221.5 1395.8,222.1 1405.8,223.2 1415.5,225.0 1425.0,227.5 1434.2,231.0 1443.0,235.2 1451.8,239.8 1460.5,244.3 1469.0,248.9 1477.2,253.9 1484.9,259.4 1492.2,265.3 1498.9,271.6 1505.2,278.3 1510.9,285.3 1516.1,292.7 1520.8,300.3 1524.7,308.2 1527.9,316.3 1530.1,324.5 1531.4,332.9 1531.9,341.4 1532.0,349.9 1531.8,357.7 1531.2,365.2 1529.7,372.4 1525.7,379.0 1519.1,384.6 1510.7,388.5 1501.2,391.1 1491.5,392.8 1482.0,393.9 1472.4,394.5 1462.8,395.0 1453.2,395.5 1443.4,396.1 1433.5,396.8 1423.5,397.5 1413.4,398.1 1403.3,398.7 1393.2,399.1 1383.1,399.3 1373.0,399.5 1362.8,399.5 1354.1,399.5 1345.4,399.4 1336.7,399.2 1328.0,399.0 1319.4,398.7 1310.7,398.4 1302.2,398.1 1293.7,397.7 1285.2,397.2 1276.8,396.7 1268.5,396.2 1260.2,395.6 1252.0,394.9 1243.8,394.1 1235.5,393.0 1227.3,391.2 1219.4,388.2 1212.6,383.6 1207.4,377.7 1204.4,370.8 1203.1,363.4 1202.5,356.0 1202.7,348.1 1203.3,339.7Z" fill="#00d500"/>
<path d="M1206.8,331.9 1207.9,323.7 1209.7,315.7 1212.5,307.9 1215.9,300.4 1219.7,293.0 1224.0,285.9 1228.8,279.1 1234.1,272.7 1239.8,266.5 1246.0,260.9 1252.6,255.7 1259.5,251.0 1266.7,246.6 1274.0,242.4 1281.4,238.2 1289.0,234.6 1297.0,231.8 1305.3,229.8 1313.7,228.4 1322.1,227.4 1330.6,226.7 1339.0,226.3 1347.5,226.0 1356.0,225.9 1365.0,225.8 1375.1,225.8 1385.2,226.1 1395.2,226.7 1405.0,227.8 1414.6,229.5 1423.9,232.0 1432.9,235.3 1441.6,239.3 1450.2,243.7 1458.7,248.1 1467.1,252.6 1475.1,257.4 1482.7,262.6 1489.8,268.3 1496.4,274.4 1502.6,280.9 1508.2,287.7 1513.3,294.8 1517.9,302.1 1521.8,309.7 1524.9,317.5 1527.1,325.5 1528.3,333.5 1528.9,341.7 1529.0,350.0 1528.8,357.5 1528.1,364.8 1526.6,371.9 1522.6,378.3 1516.1,383.7 1507.8,387.6 1498.5,390.1 1489.1,391.7 1479.7,392.8 1470.3,393.4 1461.0,393.9 1451.5,394.4 1441.9,395.0 1432.2,395.6 1422.4,396.3 1412.5,397.0 1402.6,397.5 1392.6,397.9 1382.7,398.2 1372.8,398.3 1362.8,398.4 1354.2,398.3 1345.7,398.2 1337.1,398.0 1328.6,397.8 1320.1,397.6 1311.6,397.3 1303.2,396.9 1294.8,396.5 1286.5,396.1 1278.3,395.6 1270.1,395.1 1262.0,394.5 1254.0,393.8 1245.9,393.0 1237.8,391.9 1229.7,390.2 1222.0,387.3 1215.3,382.8 1210.1,377.1 1207.2,370.3 1205.8,363.1 1205.2,355.9 1205.4,348.2 1206.0,340.1Z" fill="#00c900"/>
<path d="M1209.6,332.6 1210.6,324.7 1212.5,317.0 1215.2,309.5 1218.5,302.2 1222.3,295.1 1226.5,288.3 1231.2,281.7 1236.4,275.5 1242.0,269.6 1248.1,264.2 1254.5,259.1 1261.4,254.6 1268.5,250.4 1275.6,246.3 1282.9,242.3 1290.3,238.8 1298.2,236.1 1306.3,234.2 1314.6,232.9 1322.9,231.9 1331.1,231.2 1339.4,230.8 1347.8,230.5 1356.1,230.4 1365.0,230.3 1374.8,230.4 1384.7,230.6 1394.5,231.2 1404.0,232.3 1413.4,233.9 1422.5,236.3 1431.3,239.5 1439.8,243.4 1448.2,247.6 1456.6,251.8 1464.8,256.1 1472.7,260.8 1480.1,265.8 1487.0,271.3 1493.5,277.2 1499.5,283.4 1505.0,290.0 1510.0,296.8 1514.5,303.9 1518.3,311.3 1521.3,318.8 1523.5,326.4 1524.7,334.2 1525.2,342.1 1525.3,350.0 1525.1,357.4 1524.5,364.5 1522.8,371.4 1518.9,377.7 1512.6,383.0 1504.5,386.7 1495.4,389.2 1486.1,390.8 1477.0,391.8 1467.9,392.5 1458.7,392.9 1449.5,393.4 1440.1,394.0 1430.6,394.6 1421.0,395.3 1411.4,395.9 1401.7,396.5 1392.0,396.8 1382.3,397.1 1372.5,397.2 1362.8,397.3 1354.4,397.3 1346.0,397.1 1337.6,397.0 1329.2,396.8 1320.8,396.5 1312.5,396.2 1304.3,395.9 1296.1,395.5 1287.9,395.0 1279.8,394.6 1271.8,394.0 1263.9,393.5 1256.0,392.8 1248.2,392.0 1240.2,391.0 1232.3,389.3 1224.7,386.4 1218.1,382.1 1213.0,376.5 1210.0,369.9 1208.6,362.8 1208.0,355.8 1208.2,348.4 1208.8,340.5Z" fill="#00b900"/>
<path d="M1212.5,333.3 1213.6,325.7 1215.4,318.3 1218.0,311.0 1221.3,304.0 1225.0,297.2 1229.1,290.6 1233.8,284.3 1238.9,278.3 1244.4,272.6 1250.3,267.3 1256.6,262.5 1263.3,258.1 1270.3,254.1 1277.3,250.1 1284.4,246.3 1291.7,242.9 1299.4,240.3 1307.4,238.5 1315.5,237.2 1323.6,236.2 1331.7,235.6 1339.9,235.2 1348.0,234.9 1356.3,234.8 1364.9,234.7 1374.5,234.7 1384.1,235.0 1393.6,235.6 1402.9,236.6 1412.0,238.2 1420.8,240.5 1429.4,243.5 1437.7,247.3 1445.8,251.4 1454.0,255.4 1462.0,259.6 1469.6,264.0 1476.8,268.9 1483.5,274.2 1489.8,279.9 1495.7,285.9 1501.0,292.2 1505.9,298.8 1510.2,305.6 1513.9,312.7 1516.9,319.9 1519.0,327.3 1520.2,334.8 1520.7,342.4 1520.8,350.1 1520.6,357.3 1519.9,364.3 1518.3,371.0 1514.4,377.2 1508.2,382.3 1500.3,386.0 1491.5,388.4 1482.6,389.9 1473.7,390.9 1464.9,391.6 1456.0,392.1 1447.0,392.5 1437.9,393.1 1428.7,393.8 1419.4,394.4 1410.0,395.0 1400.6,395.6 1391.2,395.9 1381.7,396.2 1372.3,396.3 1362.8,396.4 1354.5,396.3 1346.3,396.2 1338.0,396.1 1329.8,395.8 1321.7,395.6 1313.5,395.3 1305.4,395.0 1297.4,394.6 1289.4,394.2 1281.5,393.7 1273.6,393.2 1265.9,392.6 1258.2,392.0 1250.5,391.2 1242.7,390.1 1234.9,388.5 1227.5,385.7 1221.0,381.4 1216.0,376.0 1213.0,369.5 1211.6,362.6 1211.0,355.7 1211.2,348.5 1211.7,340.9Z" fill="#00a900"/>
<path d="M1215.5,334.0 1216.5,326.7 1218.3,319.5 1220.9,312.5 1224.1,305.8 1227.7,299.2 1231.8,292.9 1236.3,286.8 1241.3,281.0 1246.7,275.6 1252.5,270.5 1258.8,265.9 1265.3,261.7 1272.1,257.8 1279.0,254.0 1286.0,250.3 1293.2,247.0 1300.7,244.5 1308.5,242.7 1316.5,241.5 1324.4,240.6 1332.3,239.9 1340.3,239.5 1348.3,239.3 1356.4,239.1 1364.8,239.1 1374.2,239.1 1383.5,239.3 1392.7,239.9 1401.7,240.9 1410.6,242.4 1419.2,244.6 1427.5,247.6 1435.5,251.2 1443.5,255.1 1451.4,259.0 1459.1,263.0 1466.5,267.3 1473.5,272.0 1480.1,277.1 1486.2,282.6 1491.8,288.3 1497.0,294.4 1501.8,300.8 1506.0,307.4 1509.6,314.2 1512.5,321.1 1514.5,328.2 1515.7,335.4 1516.2,342.7 1516.3,350.1 1516.0,357.1 1515.4,364.0 1513.7,370.6 1509.9,376.6 1503.9,381.6 1496.2,385.2 1487.7,387.6 1479.0,389.1 1470.4,390.1 1461.9,390.8 1453.3,391.2 1444.6,391.7 1435.8,392.2 1426.8,392.9 1417.8,393.5 1408.6,394.2 1399.5,394.7 1390.3,395.0 1381.2,395.3 1372.0,395.4 1362.8,395.5 1354.7,395.4 1346.6,395.3 1338.5,395.2 1330.5,394.9 1322.5,394.7 1314.5,394.4 1306.6,394.1 1298.7,393.7 1290.9,393.3 1283.1,392.8 1275.5,392.3 1267.9,391.7 1260.3,391.1 1252.8,390.3 1245.2,389.3 1237.6,387.7 1230.3,384.9 1223.9,380.8 1219.0,375.4 1216.0,369.1 1214.6,362.4 1213.9,355.6 1214.1,348.6 1214.7,341.3Z" fill="#009800"/>
<path d="M1218.4,334.7 1219.4,327.6 1221.2,320.8 1223.7,314.1 1226.9,307.6 1230.4,301.3 1234.4,295.2 1238.9,289.3 1243.8,283.8 1249.1,278.5 1254.8,273.7 1260.9,269.2 1267.3,265.2 1273.9,261.4 1280.7,257.8 1287.5,254.3 1294.6,251.1 1301.9,248.7 1309.6,247.0 1317.4,245.8 1325.2,244.9 1333.0,244.3 1340.8,243.9 1348.6,243.6 1356.5,243.5 1364.8,243.4 1373.8,243.5 1382.8,243.7 1391.8,244.3 1400.6,245.2 1409.2,246.7 1417.5,248.8 1425.5,251.6 1433.4,255.1 1441.1,258.9 1448.7,262.6 1456.3,266.5 1463.5,270.6 1470.2,275.1 1476.6,280.0 1482.5,285.3 1488.0,290.8 1493.1,296.6 1497.7,302.8 1501.8,309.1 1505.3,315.6 1508.0,322.3 1510.0,329.1 1511.1,336.1 1511.6,343.1 1511.7,350.2 1511.5,357.0 1510.8,363.7 1509.2,370.2 1505.5,376.1 1499.6,381.0 1492.1,384.5 1483.9,386.8 1475.4,388.3 1467.1,389.3 1458.9,389.9 1450.5,390.4 1442.1,390.8 1433.6,391.4 1424.9,392.0 1416.1,392.7 1407.3,393.3 1398.4,393.8 1389.5,394.1 1380.6,394.4 1371.7,394.5 1362.8,394.6 1354.8,394.5 1346.9,394.4 1339.0,394.2 1331.1,394.0 1323.3,393.8 1315.4,393.5 1307.7,393.2 1300.0,392.8 1292.3,392.4 1284.8,391.9 1277.3,391.4 1269.8,390.8 1262.5,390.2 1255.1,389.5 1247.7,388.5 1240.3,386.9 1233.1,384.2 1226.9,380.1 1222.0,374.9 1219.0,368.8 1217.5,362.2 1216.9,355.5 1217.1,348.7 1217.6,341.7Z" fill="#008800"/>
<path d="M1221.3,335.3 1222.3,328.6 1224.0,322.0 1226.6,315.6 1229.6,309.4 1233.1,303.3 1237.0,297.5 1241.4,291.9 1246.2,286.5 1251.4,281.5 1257.0,276.8 1262.9,272.6 1269.2,268.7 1275.8,265.1 1282.4,261.6 1289.1,258.2 1296.0,255.2 1303.2,252.9 1310.7,251.3 1318.3,250.1 1325.9,249.2 1333.6,248.6 1341.2,248.3 1348.9,248.0 1356.6,247.9 1364.7,247.8 1373.5,247.9 1382.2,248.1 1390.9,248.6 1399.4,249.5 1407.7,251.0 1415.8,253.0 1423.6,255.7 1431.2,259.0 1438.7,262.6 1446.1,266.2 1453.4,269.9 1460.4,273.9 1467.0,278.2 1473.1,282.9 1478.9,287.9 1484.2,293.3 1489.1,298.9 1493.6,304.7 1497.5,310.8 1500.9,317.1 1503.6,323.5 1505.5,330.0 1506.6,336.7 1507.1,343.4 1507.2,350.2 1507.0,356.9 1506.3,363.5 1504.7,369.8 1501.0,375.5 1495.3,380.3 1488.1,383.7 1480.0,386.0 1471.9,387.5 1463.9,388.4 1455.9,389.1 1447.8,389.5 1439.7,390.0 1431.4,390.5 1423.0,391.2 1414.5,391.8 1405.9,392.4 1397.3,392.9 1388.7,393.2 1380.1,393.5 1371.4,393.6 1362.8,393.6 1355.0,393.6 1347.2,393.5 1339.5,393.3 1331.8,393.1 1324.1,392.9 1316.4,392.6 1308.8,392.3 1301.3,391.9 1293.8,391.5 1286.4,391.0 1279.1,390.5 1271.8,390.0 1264.6,389.4 1257.4,388.6 1250.2,387.6 1242.9,386.1 1235.9,383.5 1229.8,379.5 1225.0,374.4 1222.0,368.4 1220.5,361.9 1219.9,355.4 1220.0,348.8 1220.6,342.1Z" fill="#007e0c"/>
<path d="M1224.3,336.0 1225.3,329.6 1226.9,323.3 1229.4,317.2 1232.4,311.2 1235.8,305.4 1239.7,299.9 1244.0,294.5 1248.7,289.4 1253.8,284.6 1259.2,280.2 1265.1,276.1 1271.2,272.4 1277.6,268.9 1284.1,265.6 1290.6,262.4 1297.4,259.5 1304.4,257.3 1311.8,255.7 1319.2,254.6 1326.7,253.8 1334.2,253.2 1341.6,252.8 1349.2,252.6 1356.8,252.5 1364.6,252.4 1373.0,252.4 1381.4,252.7 1389.7,253.2 1397.9,254.1 1405.8,255.4 1413.6,257.3 1421.1,259.9 1428.3,263.1 1435.5,266.6 1442.6,270.0 1449.6,273.5 1456.3,277.3 1462.6,281.5 1468.5,286.0 1474.0,290.8 1479.1,295.8 1483.8,301.2 1488.1,306.8 1491.9,312.6 1495.1,318.6 1497.7,324.7 1499.5,331.0 1500.6,337.3 1501.1,343.8 1501.2,350.3 1500.9,356.7 1500.2,363.1 1498.6,369.2 1495.1,374.8 1489.6,379.4 1482.6,382.7 1475.0,384.9 1467.2,386.3 1459.5,387.3 1451.9,387.9 1444.2,388.3 1436.4,388.8 1428.5,389.3 1420.4,389.9 1412.3,390.6 1404.1,391.1 1395.9,391.6 1387.6,392.0 1379.3,392.2 1371.0,392.3 1362.8,392.4 1355.1,392.3 1347.5,392.2 1340.0,392.1 1332.4,391.9 1324.9,391.6 1317.4,391.3 1310.0,391.0 1302.6,390.7 1295.3,390.3 1288.0,389.8 1280.9,389.3 1273.8,388.8 1266.8,388.2 1259.8,387.5 1252.7,386.5 1245.6,385.0 1238.8,382.4 1232.7,378.6 1228.0,373.7 1225.0,367.9 1223.5,361.6 1222.9,355.3 1223.0,348.9 1223.5,342.5Z" fill="#007a25"/>
<path d="M1227.2,336.8 1228.2,330.6 1229.8,324.6 1232.3,318.8 1235.2,313.1 1238.6,307.6 1242.3,302.3 1246.5,297.2 1251.1,292.3 1256.1,287.7 1261.4,283.5 1267.2,279.6 1273.2,276.1 1279.4,272.8 1285.8,269.6 1292.2,266.5 1298.8,263.8 1305.7,261.7 1312.9,260.2 1320.2,259.1 1327.5,258.3 1334.8,257.7 1342.1,257.4 1349.5,257.2 1356.9,257.0 1364.5,257.0 1372.5,257.0 1380.6,257.2 1388.5,257.7 1396.3,258.6 1403.9,259.9 1411.3,261.7 1418.5,264.2 1425.4,267.2 1432.3,270.5 1439.1,273.8 1445.8,277.1 1452.2,280.7 1458.2,284.7 1463.9,289.0 1469.1,293.6 1474.0,298.4 1478.5,303.5 1482.6,308.9 1486.2,314.4 1489.3,320.1 1491.8,326.0 1493.6,331.9 1494.6,338.0 1495.0,344.1 1495.1,350.4 1494.9,356.6 1494.2,362.7 1492.6,368.6 1489.2,374.0 1483.9,378.5 1477.2,381.7 1469.9,383.8 1462.5,385.2 1455.2,386.1 1447.9,386.7 1440.6,387.2 1433.2,387.6 1425.6,388.1 1417.9,388.7 1410.1,389.3 1402.3,389.9 1394.4,390.3 1386.5,390.7 1378.6,390.9 1370.7,391.0 1362.7,391.1 1355.3,391.0 1347.9,390.9 1340.4,390.8 1333.0,390.6 1325.7,390.4 1318.4,390.1 1311.1,389.8 1303.9,389.4 1296.7,389.0 1289.7,388.6 1282.7,388.1 1275.8,387.6 1268.9,387.0 1262.1,386.3 1255.2,385.3 1248.2,383.9 1241.6,381.4 1235.6,377.7 1230.9,373.0 1228.0,367.3 1226.5,361.3 1225.8,355.2 1226.0,349.0 1226.5,342.9Z" fill="#00763e"/>
<path d="M1230.1,337.5 1231.1,331.6 1232.7,325.9 1235.1,320.3 1238.0,314.9 1241.3,309.7 1245.0,304.7 1249.1,299.8 1253.6,295.2 1258.4,290.8 1263.7,286.8 1269.2,283.1 1275.1,279.7 1281.3,276.6 1287.5,273.6 1293.7,270.7 1300.2,268.1 1306.9,266.0 1314.0,264.6 1321.1,263.6 1328.2,262.8 1335.4,262.3 1342.5,261.9 1349.7,261.7 1357.0,261.6 1364.4,261.5 1372.1,261.6 1379.7,261.8 1387.3,262.3 1394.8,263.1 1402.0,264.3 1409.1,266.1 1415.9,268.4 1422.6,271.3 1429.1,274.4 1435.6,277.5 1442.0,280.7 1448.1,284.2 1453.8,287.9 1459.2,292.0 1464.3,296.4 1468.9,301.0 1473.2,305.8 1477.1,310.9 1480.5,316.2 1483.5,321.6 1485.9,327.2 1487.6,332.9 1488.5,338.6 1489.0,344.5 1489.1,350.4 1488.8,356.4 1488.1,362.4 1486.6,368.1 1483.3,373.3 1478.2,377.6 1471.9,380.7 1464.9,382.7 1457.8,384.1 1450.9,385.0 1443.9,385.5 1437.0,386.0 1429.9,386.4 1422.7,386.9 1415.4,387.5 1407.9,388.1 1400.5,388.6 1392.9,389.1 1385.4,389.4 1377.9,389.6 1370.3,389.8 1362.7,389.8 1355.4,389.8 1348.2,389.7 1340.9,389.5 1333.7,389.3 1326.5,389.1 1319.3,388.8 1312.2,388.5 1305.2,388.2 1298.2,387.8 1291.3,387.3 1284.5,386.9 1277.7,386.4 1271.0,385.8 1264.4,385.1 1257.6,384.2 1250.9,382.8 1244.4,380.4 1238.5,376.8 1233.9,372.2 1231.0,366.8 1229.5,361.0 1228.8,355.1 1228.9,349.2 1229.4,343.3Z" fill="#007257"/>
<path d="M1233.1,338.2 1234.0,332.6 1235.6,327.2 1237.9,321.9 1240.8,316.8 1244.0,311.8 1247.6,307.0 1251.6,302.4 1256.0,298.1 1260.8,293.9 1265.9,290.1 1271.3,286.6 1277.1,283.4 1283.1,280.4 1289.2,277.6 1295.3,274.8 1301.6,272.3 1308.2,270.4 1315.1,269.0 1322.0,268.1 1329.0,267.3 1336.0,266.8 1343.0,266.5 1350.0,266.3 1357.1,266.2 1364.3,266.1 1371.6,266.2 1378.9,266.4 1386.1,266.8 1393.2,267.6 1400.1,268.8 1406.9,270.4 1413.4,272.7 1419.7,275.4 1425.9,278.3 1432.1,281.3 1438.2,284.3 1444.0,287.6 1449.5,291.2 1454.6,295.0 1459.4,299.2 1463.8,303.6 1467.9,308.2 1471.6,313.0 1474.9,318.0 1477.7,323.2 1480.0,328.4 1481.6,333.8 1482.5,339.3 1482.9,344.8 1483.0,350.5 1482.8,356.2 1482.1,362.0 1480.6,367.5 1477.4,372.5 1472.5,376.7 1466.5,379.7 1459.9,381.6 1453.2,382.9 1446.5,383.8 1440.0,384.4 1433.3,384.8 1426.6,385.2 1419.8,385.7 1412.8,386.3 1405.8,386.9 1398.6,387.4 1391.5,387.8 1384.3,388.1 1377.1,388.4 1369.9,388.5 1362.7,388.5 1355.6,388.5 1348.5,388.4 1341.4,388.2 1334.3,388.1 1327.3,387.8 1320.3,387.6 1313.4,387.3 1306.5,386.9 1299.7,386.5 1292.9,386.1 1286.3,385.7 1279.7,385.2 1273.2,384.6 1266.7,383.9 1260.1,383.0 1253.5,381.7 1247.1,379.4 1241.4,376.0 1236.9,371.5 1234.0,366.3 1232.5,360.6 1231.8,354.9 1231.9,349.3 1232.4,343.7Z" fill="#006d71"/>
<path d="M1236.3,339.0 1237.2,333.8 1238.8,328.7 1241.1,323.7 1243.8,318.9 1247.0,314.2 1250.5,309.7 1254.4,305.4 1258.7,301.3 1263.3,297.4 1268.3,293.8 1273.7,290.5 1279.3,287.5 1285.1,284.7 1291.0,282.0 1297.0,279.4 1303.1,277.1 1309.6,275.3 1316.3,274.0 1323.1,273.1 1329.8,272.4 1336.6,271.9 1343.5,271.6 1350.3,271.4 1357.3,271.3 1364.3,271.2 1371.3,271.3 1378.3,271.5 1385.2,271.9 1392.1,272.6 1398.7,273.7 1405.2,275.3 1411.5,277.4 1417.6,279.9 1423.6,282.7 1429.5,285.5 1435.4,288.4 1441.0,291.4 1446.2,294.8 1451.2,298.4 1455.8,302.3 1460.0,306.4 1464.0,310.8 1467.5,315.3 1470.7,320.0 1473.4,324.9 1475.6,329.8 1477.1,334.9 1478.0,340.0 1478.5,345.2 1478.6,350.5 1478.3,356.0 1477.6,361.6 1476.1,366.8 1473.0,371.6 1468.3,375.6 1462.5,378.5 1456.1,380.4 1449.7,381.6 1443.3,382.4 1437.0,383.0 1430.7,383.4 1424.2,383.8 1417.6,384.3 1410.9,384.9 1404.1,385.4 1397.3,385.9 1390.4,386.3 1383.5,386.6 1376.6,386.8 1369.7,387.0 1362.7,387.0 1355.8,387.0 1348.8,386.9 1341.9,386.7 1335.0,386.6 1328.2,386.3 1321.4,386.1 1314.6,385.8 1307.9,385.5 1301.3,385.1 1294.7,384.7 1288.2,384.2 1281.8,383.7 1275.5,383.2 1269.2,382.6 1262.8,381.7 1256.4,380.4 1250.2,378.2 1244.6,374.9 1240.1,370.7 1237.3,365.7 1235.7,360.3 1235.0,354.8 1235.2,349.4 1235.6,344.2Z" fill="#006795"/>
<path d="M1239.8,339.8 1240.7,335.0 1242.2,330.2 1244.4,325.6 1247.1,321.1 1250.1,316.8 1253.6,312.6 1257.4,308.5 1261.6,304.7 1266.1,301.1 1270.9,297.7 1276.1,294.7 1281.6,291.9 1287.2,289.3 1293.0,286.8 1298.8,284.4 1304.8,282.2 1311.0,280.5 1317.5,279.3 1324.1,278.5 1330.7,277.8 1337.4,277.4 1344.0,277.1 1350.7,276.9 1357.4,276.8 1364.2,276.7 1371.0,276.8 1377.8,276.9 1384.6,277.3 1391.2,278.0 1397.7,279.1 1404.0,280.5 1410.0,282.5 1416.0,284.8 1421.8,287.4 1427.6,290.0 1433.3,292.7 1438.7,295.5 1443.8,298.7 1448.6,302.1 1453.1,305.7 1457.2,309.5 1461.0,313.6 1464.5,317.8 1467.6,322.2 1470.2,326.7 1472.3,331.3 1473.8,336.0 1474.7,340.8 1475.1,345.7 1475.2,350.6 1475.0,355.8 1474.2,361.1 1472.7,366.1 1469.7,370.7 1465.1,374.5 1459.5,377.2 1453.3,379.0 1447.1,380.2 1440.9,381.0 1434.8,381.5 1428.6,381.9 1422.4,382.3 1416.0,382.8 1409.5,383.3 1402.9,383.8 1396.3,384.3 1389.6,384.7 1382.9,385.0 1376.2,385.2 1369.4,385.3 1362.7,385.3 1356.0,385.3 1349.2,385.2 1342.5,385.1 1335.8,384.9 1329.1,384.7 1322.5,384.4 1315.9,384.2 1309.4,383.8 1303.0,383.5 1296.6,383.1 1290.3,382.7 1284.1,382.2 1278.0,381.7 1271.9,381.1 1265.7,380.3 1259.4,379.0 1253.4,376.9 1248.0,373.8 1243.6,369.8 1240.8,365.0 1239.2,359.9 1238.5,354.6 1238.6,349.5 1239.1,344.7Z" fill="#0061ba"/>
<path d="M1243.2,340.7 1244.1,336.2 1245.6,331.8 1247.7,327.5 1250.3,323.4 1253.3,319.3 1256.6,315.4 1260.4,311.7 1264.4,308.2 1268.8,304.8 1273.5,301.7 1278.6,298.9 1283.9,296.3 1289.4,293.9 1295.0,291.6 1300.6,289.3 1306.4,287.3 1312.5,285.8 1318.8,284.6 1325.2,283.8 1331.6,283.2 1338.1,282.8 1344.5,282.5 1351.0,282.3 1357.5,282.2 1364.1,282.2 1370.8,282.2 1377.4,282.4 1383.9,282.8 1390.3,283.4 1396.6,284.4 1402.7,285.7 1408.6,287.5 1414.4,289.7 1420.0,292.1 1425.7,294.5 1431.1,297.0 1436.4,299.7 1441.3,302.6 1446.0,305.7 1450.3,309.0 1454.4,312.6 1458.1,316.3 1461.4,320.3 1464.4,324.3 1467.0,328.5 1469.0,332.8 1470.5,337.2 1471.3,341.6 1471.7,346.1 1471.8,350.7 1471.6,355.6 1470.9,360.6 1469.4,365.4 1466.4,369.7 1461.9,373.3 1456.5,375.9 1450.5,377.6 1444.4,378.7 1438.5,379.5 1432.6,380.0 1426.6,380.4 1420.6,380.7 1414.4,381.2 1408.1,381.7 1401.7,382.2 1395.3,382.6 1388.8,383.0 1382.3,383.3 1375.8,383.5 1369.2,383.6 1362.7,383.7 1356.1,383.6 1349.6,383.5 1343.1,383.4 1336.5,383.2 1330.1,383.0 1323.6,382.8 1317.3,382.5 1310.9,382.2 1304.7,381.9 1298.5,381.5 1292.4,381.1 1286.4,380.6 1280.4,380.2 1274.5,379.6 1268.5,378.8 1262.5,377.6 1256.6,375.6 1251.3,372.7 1247.0,368.9 1244.3,364.3 1242.7,359.4 1242.0,354.5 1242.1,349.7 1242.6,345.2Z" fill="#005bde"/>
<path d="M1246.7,341.5 1247.5,337.4 1249.0,333.4 1251.1,329.4 1253.6,325.6 1256.5,321.9 1259.7,318.3 1263.3,314.9 1267.3,311.6 1271.5,308.5 1276.1,305.7 1281.0,303.0 1286.2,300.7 1291.5,298.5 1296.9,296.3 1302.4,294.2 1308.1,292.4 1314.0,291.0 1320.1,290.0 1326.3,289.2 1332.5,288.7 1338.8,288.3 1345.0,288.0 1351.3,287.8 1357.7,287.7 1364.1,287.7 1370.5,287.7 1376.9,287.9 1383.3,288.2 1389.5,288.8 1395.6,289.7 1401.5,291.0 1407.2,292.6 1412.8,294.6 1418.3,296.8 1423.7,299.0 1429.0,301.3 1434.1,303.8 1438.9,306.4 1443.4,309.3 1447.6,312.4 1451.5,315.7 1455.1,319.1 1458.4,322.7 1461.3,326.5 1463.7,330.3 1465.7,334.3 1467.1,338.3 1468.0,342.4 1468.4,346.5 1468.5,350.7 1468.2,355.4 1467.5,360.1 1466.0,364.6 1463.1,368.7 1458.8,372.1 1453.5,374.6 1447.7,376.2 1441.8,377.3 1436.1,378.0 1430.4,378.5 1424.6,378.8 1418.8,379.2 1412.8,379.6 1406.7,380.1 1400.5,380.6 1394.2,381.0 1388.0,381.4 1381.7,381.7 1375.4,381.8 1369.0,381.9 1362.7,382.0 1356.3,381.9 1350.0,381.9 1343.6,381.7 1337.3,381.6 1331.0,381.4 1324.8,381.2 1318.6,380.9 1312.5,380.6 1306.4,380.3 1300.4,379.9 1294.5,379.5 1288.7,379.1 1282.9,378.6 1277.2,378.1 1271.3,377.3 1265.5,376.2 1259.8,374.3 1254.7,371.5 1250.5,367.9 1247.8,363.7 1246.2,359.0 1245.5,354.3 1245.6,349.8 1246.0,345.7Z" fill="#0053ff"/>
<path d="M1249.1,342.1 1250.0,338.2 1251.4,334.4 1253.4,330.7 1255.9,327.0 1258.7,323.5 1261.9,320.2 1265.4,316.9 1269.3,313.9 1273.5,311.0 1278.0,308.3 1282.7,305.8 1287.8,303.5 1293.0,301.5 1298.3,299.4 1303.7,297.5 1309.2,295.8 1315.0,294.4 1321.0,293.4 1327.1,292.7 1333.2,292.2 1339.3,291.8 1345.4,291.6 1351.6,291.4 1357.8,291.3 1364.0,291.3 1370.3,291.3 1376.5,291.5 1382.6,291.8 1388.6,292.4 1394.5,293.2 1400.2,294.4 1405.8,295.9 1411.1,297.8 1416.5,299.9 1421.7,302.0 1426.9,304.1 1431.8,306.5 1436.5,309.0 1440.8,311.7 1444.9,314.6 1448.7,317.7 1452.1,321.0 1455.3,324.4 1458.1,327.9 1460.5,331.5 1462.4,335.2 1463.8,339.0 1464.6,342.9 1465.0,346.8 1465.1,350.8 1464.8,355.2 1464.1,359.6 1462.6,363.9 1459.8,367.7 1455.6,370.9 1450.4,373.2 1444.8,374.7 1439.2,375.7 1433.7,376.4 1428.1,376.8 1422.6,377.2 1416.9,377.5 1411.2,378.0 1405.3,378.4 1399.3,378.9 1393.2,379.3 1387.1,379.6 1381.1,379.9 1374.9,380.0 1368.8,380.1 1362.7,380.2 1356.5,380.1 1350.2,380.1 1344.0,379.9 1337.8,379.8 1331.7,379.6 1325.6,379.4 1319.5,379.1 1313.5,378.9 1307.6,378.6 1301.8,378.2 1296.0,377.8 1290.3,377.4 1284.6,377.0 1279.0,376.5 1273.4,375.8 1267.6,374.7 1262.1,373.0 1257.0,370.3 1252.9,366.9 1250.2,362.9 1248.7,358.6 1248.0,354.2 1248.0,349.9 1248.5,346.0Z" fill="#003dff"/>
<path d="M1250.8,342.4 1251.7,338.7 1253.1,335.0 1255.1,331.4 1257.5,328.0 1260.3,324.6 1263.4,321.3 1266.9,318.2 1270.7,315.3 1274.8,312.5 1279.3,309.9 1284.0,307.5 1288.9,305.3 1294.1,303.3 1299.3,301.4 1304.6,299.5 1310.0,297.9 1315.7,296.6 1321.6,295.6 1327.6,294.9 1333.6,294.4 1339.6,294.1 1345.7,293.8 1351.7,293.7 1357.9,293.6 1364.0,293.5 1370.0,293.6 1376.0,293.7 1381.9,294.0 1387.7,294.6 1393.4,295.4 1398.9,296.5 1404.3,298.0 1409.5,299.8 1414.6,301.8 1419.7,303.8 1424.7,305.9 1429.5,308.1 1434.0,310.6 1438.2,313.2 1442.1,316.0 1445.8,319.0 1449.1,322.1 1452.2,325.4 1454.9,328.8 1457.2,332.3 1459.0,335.8 1460.4,339.5 1461.2,343.2 1461.5,347.0 1461.6,350.8 1461.4,354.9 1460.7,359.1 1459.2,363.0 1456.5,366.6 1452.4,369.6 1447.4,371.7 1442.0,373.1 1436.6,374.1 1431.2,374.7 1425.9,375.2 1420.5,375.5 1415.1,375.8 1409.5,376.2 1403.8,376.6 1398.0,377.0 1392.2,377.4 1386.3,377.7 1380.4,378.0 1374.5,378.1 1368.6,378.2 1362.7,378.3 1356.6,378.2 1350.4,378.2 1344.3,378.1 1338.2,377.9 1332.1,377.7 1326.1,377.5 1320.2,377.3 1314.3,377.0 1308.4,376.8 1302.7,376.4 1297.0,376.1 1291.4,375.7 1285.9,375.3 1280.4,374.8 1274.8,374.1 1269.2,373.2 1263.7,371.5 1258.7,369.1 1254.6,365.9 1252.0,362.2 1250.4,358.1 1249.7,354.0 1249.8,350.0 1250.2,346.2Z" fill="#0028ff"/>
<path d="M1252.5,342.8 1253.4,339.2 1254.7,335.6 1256.7,332.2 1259.1,328.9 1261.9,325.6 1265.0,322.5 1268.4,319.5 1272.1,316.7 1276.2,314.0 1280.5,311.5 1285.2,309.2 1290.1,307.1 1295.1,305.2 1300.3,303.3 1305.5,301.5 1310.9,299.9 1316.4,298.7 1322.3,297.8 1328.2,297.1 1334.1,296.6 1340.0,296.3 1345.9,296.0 1351.9,295.9 1357.9,295.8 1363.9,295.8 1369.7,295.8 1375.5,296.0 1381.2,296.3 1386.9,296.8 1392.3,297.6 1397.7,298.6 1402.8,300.1 1407.9,301.8 1412.8,303.8 1417.8,305.7 1422.6,307.7 1427.2,309.8 1431.5,312.1 1435.6,314.7 1439.4,317.4 1442.9,320.2 1446.1,323.2 1449.0,326.4 1451.7,329.6 1453.9,333.0 1455.7,336.5 1457.0,340.0 1457.7,343.5 1458.1,347.1 1458.2,350.8 1458.0,354.7 1457.3,358.5 1455.9,362.2 1453.1,365.5 1449.2,368.3 1444.4,370.3 1439.2,371.6 1433.9,372.5 1428.8,373.0 1423.7,373.5 1418.5,373.8 1413.3,374.1 1407.9,374.4 1402.4,374.8 1396.8,375.2 1391.2,375.6 1385.5,375.9 1379.8,376.1 1374.1,376.2 1368.4,376.3 1362.7,376.4 1356.6,376.3 1350.6,376.3 1344.6,376.2 1338.6,376.0 1332.6,375.9 1326.7,375.7 1320.8,375.5 1315.0,375.2 1309.3,374.9 1303.6,374.6 1298.1,374.3 1292.5,374.0 1287.1,373.6 1281.7,373.1 1276.2,372.5 1270.7,371.6 1265.3,370.1 1260.4,367.8 1256.4,364.9 1253.7,361.4 1252.2,357.6 1251.4,353.8 1251.5,350.0 1251.9,346.4Z" fill="#0012ff"/>
<path d="M1254.2,343.1 1255.1,339.7 1256.4,336.3 1258.4,333.0 1260.8,329.8 1263.5,326.7 1266.5,323.7 1269.9,320.8 1273.6,318.1 1277.6,315.5 1281.8,313.1 1286.4,310.9 1291.2,308.9 1296.2,307.1 1301.3,305.3 1306.4,303.6 1311.7,302.0 1317.2,300.8 1322.9,300.0 1328.7,299.3 1334.5,298.9 1340.3,298.5 1346.2,298.3 1352.1,298.1 1358.0,298.1 1363.9,298.0 1369.5,298.0 1375.1,298.2 1380.6,298.5 1386.0,299.0 1391.3,299.7 1396.4,300.8 1401.4,302.2 1406.2,303.8 1411.0,305.7 1415.8,307.5 1420.4,309.4 1424.8,311.5 1429.0,313.7 1432.9,316.2 1436.6,318.7 1440.0,321.5 1443.1,324.4 1445.9,327.4 1448.5,330.5 1450.6,333.8 1452.3,337.1 1453.6,340.4 1454.3,343.8 1454.7,347.3 1454.8,350.8 1454.5,354.4 1453.8,358.0 1452.5,361.4 1449.8,364.4 1446.0,367.0 1441.4,368.8 1436.4,370.0 1431.3,370.8 1426.4,371.4 1421.4,371.8 1416.5,372.1 1411.4,372.3 1406.2,372.7 1400.9,373.0 1395.6,373.4 1390.1,373.7 1384.7,374.0 1379.2,374.2 1373.7,374.4 1368.2,374.4 1362.7,374.5 1356.7,374.4 1350.8,374.4 1344.9,374.3 1338.9,374.2 1333.1,374.0 1327.3,373.8 1321.5,373.6 1315.8,373.4 1310.1,373.1 1304.6,372.9 1299.1,372.6 1293.7,372.2 1288.3,371.9 1283.0,371.4 1277.6,370.9 1272.2,370.0 1266.9,368.6 1262.0,366.5 1258.1,363.8 1255.4,360.6 1253.9,357.2 1253.2,353.6 1253.2,350.1 1253.6,346.6Z" fill="#0000fc"/>
<path d="M1270.2,344.4 1270.9,341.5 1272.1,338.6 1273.7,335.9 1275.8,333.1 1278.1,330.5 1280.7,328.0 1283.6,325.6 1286.7,323.3 1290.1,321.1 1293.8,319.1 1297.7,317.2 1301.8,315.5 1306.0,314.0 1310.3,312.5 1314.7,311.0 1319.2,309.7 1323.9,308.7 1328.8,308.0 1333.7,307.4 1338.6,307.0 1343.6,306.7 1348.6,306.5 1353.6,306.4 1358.7,306.3 1363.7,306.3 1368.4,306.3 1373.1,306.4 1377.8,306.7 1382.4,307.1 1386.8,307.8 1391.2,308.6 1395.4,309.8 1399.5,311.2 1403.6,312.8 1407.6,314.3 1411.5,316.0 1415.3,317.7 1418.8,319.6 1422.1,321.6 1425.2,323.8 1428.1,326.1 1430.7,328.6 1433.1,331.1 1435.2,333.8 1437.1,336.5 1438.5,339.3 1439.6,342.1 1440.2,345.0 1440.5,348.0 1440.6,350.9 1440.4,353.9 1439.8,356.9 1438.5,359.7 1436.2,362.3 1433.0,364.4 1429.0,365.9 1424.8,366.9 1420.6,367.6 1416.4,368.0 1412.3,368.3 1408.1,368.6 1403.8,368.8 1399.5,369.1 1395.0,369.4 1390.5,369.7 1385.9,370.0 1381.3,370.2 1376.6,370.4 1372.0,370.5 1367.3,370.6 1362.6,370.6 1357.6,370.6 1352.5,370.6 1347.5,370.5 1342.4,370.4 1337.4,370.2 1332.5,370.1 1327.6,369.9 1322.7,369.7 1317.9,369.5 1313.2,369.3 1308.6,369.0 1304.0,368.7 1299.4,368.4 1294.9,368.1 1290.4,367.6 1285.8,366.9 1281.3,365.7 1277.1,364.0 1273.7,361.8 1271.3,359.1 1269.9,356.2 1269.3,353.3 1269.3,350.3 1269.7,347.4Z" fill="#0000ea"/>
<path d="M1293.3,346.2 1293.8,344.0 1294.7,341.9 1296.0,339.8 1297.5,337.7 1299.2,335.8 1301.2,333.9 1303.3,332.1 1305.7,330.3 1308.3,328.7 1311.0,327.2 1313.9,325.8 1317.0,324.5 1320.2,323.4 1323.4,322.2 1326.7,321.2 1330.1,320.2 1333.6,319.4 1337.2,318.9 1340.9,318.5 1344.6,318.2 1348.3,317.9 1352.1,317.8 1355.8,317.7 1359.6,317.6 1363.4,317.6 1366.9,317.6 1370.5,317.7 1374.0,317.9 1377.4,318.2 1380.7,318.7 1384.0,319.4 1387.2,320.2 1390.3,321.3 1393.3,322.5 1396.3,323.6 1399.3,324.8 1402.1,326.1 1404.7,327.6 1407.2,329.1 1409.5,330.7 1411.7,332.5 1413.6,334.3 1415.4,336.2 1417.0,338.2 1418.4,340.2 1419.5,342.3 1420.3,344.5 1420.8,346.6 1421.0,348.8 1421.1,351.1 1420.9,353.3 1420.4,355.5 1419.4,357.6 1417.6,359.5 1415.1,361.1 1412.2,362.2 1409.0,363.0 1405.9,363.5 1402.8,363.8 1399.7,364.1 1396.6,364.3 1393.5,364.5 1390.2,364.7 1386.9,364.9 1383.5,365.2 1380.0,365.4 1376.6,365.5 1373.1,365.7 1369.6,365.8 1366.1,365.8 1362.6,365.8 1358.8,365.8 1355.0,365.8 1351.2,365.7 1347.4,365.6 1343.7,365.5 1340.0,365.4 1336.3,365.3 1332.7,365.1 1329.1,365.0 1325.6,364.8 1322.2,364.6 1318.7,364.4 1315.4,364.1 1312.1,363.9 1308.7,363.5 1305.3,363.0 1301.9,362.1 1298.7,360.8 1296.1,359.2 1294.3,357.2 1293.1,355.0 1292.6,352.8 1292.6,350.6 1292.9,348.4Z" fill="#0000d8"/>
<path d="M1316.3,348.0 1316.7,346.5 1317.3,345.1 1318.2,343.7 1319.2,342.3 1320.3,341.0 1321.6,339.7 1323.1,338.5 1324.7,337.4 1326.4,336.3 1328.2,335.3 1330.1,334.4 1332.2,333.5 1334.3,332.8 1336.5,332.0 1338.7,331.3 1340.9,330.6 1343.2,330.1 1345.7,329.8 1348.1,329.5 1350.6,329.3 1353.1,329.1 1355.5,329.0 1358.0,328.9 1360.6,328.9 1363.1,328.9 1365.5,328.9 1367.8,329.0 1370.1,329.1 1372.4,329.3 1374.7,329.6 1376.8,330.1 1378.9,330.7 1381.0,331.4 1383.0,332.1 1385.0,332.9 1387.0,333.7 1388.9,334.6 1390.6,335.5 1392.3,336.6 1393.8,337.7 1395.3,338.8 1396.6,340.0 1397.8,341.3 1398.8,342.6 1399.8,344.0 1400.5,345.4 1401.0,346.8 1401.3,348.2 1401.5,349.7 1401.5,351.2 1401.4,352.7 1401.0,354.2 1400.3,355.6 1399.1,356.8 1397.4,357.9 1395.5,358.6 1393.4,359.1 1391.3,359.4 1389.3,359.7 1387.2,359.9 1385.2,360.0 1383.1,360.1 1380.9,360.3 1378.7,360.4 1376.5,360.6 1374.2,360.7 1371.9,360.9 1369.6,360.9 1367.2,361.0 1364.9,361.0 1362.6,361.0 1360.0,361.0 1357.5,361.0 1355.0,361.0 1352.5,360.9 1350.0,360.8 1347.5,360.8 1345.1,360.7 1342.7,360.6 1340.3,360.5 1338.0,360.3 1335.7,360.2 1333.4,360.0 1331.2,359.9 1329.0,359.7 1326.8,359.5 1324.5,359.1 1322.3,358.5 1320.2,357.7 1318.4,356.6 1317.1,355.3 1316.3,353.8 1315.9,352.4 1315.9,350.9 1316.1,349.4Z" fill="#0000c7"/>
<path d="M1339.4,349.7 1339.6,349.0 1339.9,348.3 1340.3,347.6 1340.8,346.9 1341.4,346.2 1342.1,345.6 1342.8,345.0 1343.6,344.4 1344.5,343.9 1345.4,343.4 1346.3,342.9 1347.4,342.5 1348.4,342.1 1349.5,341.7 1350.6,341.4 1351.7,341.1 1352.9,340.8 1354.1,340.6 1355.3,340.5 1356.5,340.4 1357.8,340.3 1359.0,340.2 1360.3,340.2 1361.5,340.2 1362.8,340.2 1364.0,340.2 1365.2,340.2 1366.3,340.3 1367.5,340.4 1368.6,340.6 1369.7,340.8 1370.7,341.1 1371.7,341.4 1372.8,341.8 1373.8,342.2 1374.7,342.6 1375.7,343.0 1376.6,343.5 1377.4,344.0 1378.2,344.6 1378.9,345.1 1379.5,345.7 1380.1,346.4 1380.7,347.0 1381.1,347.7 1381.5,348.4 1381.8,349.1 1381.9,349.9 1382.0,350.6 1382.0,351.3 1382.0,352.1 1381.8,352.8 1381.4,353.5 1380.7,354.1 1379.9,354.7 1378.9,355.0 1377.9,355.3 1376.8,355.4 1375.8,355.6 1374.8,355.6 1373.8,355.7 1372.8,355.8 1371.7,355.9 1370.6,355.9 1369.5,356.0 1368.3,356.1 1367.2,356.2 1366.0,356.2 1364.9,356.2 1363.7,356.3 1362.5,356.3 1361.3,356.3 1360.0,356.2 1358.7,356.2 1357.5,356.2 1356.2,356.2 1355.0,356.1 1353.8,356.1 1352.6,356.0 1351.4,356.0 1350.3,355.9 1349.1,355.8 1348.0,355.7 1346.9,355.7 1345.8,355.6 1344.7,355.4 1343.6,355.3 1342.5,355.0 1341.4,354.6 1340.5,354.0 1339.8,353.4 1339.4,352.6 1339.2,351.9 1339.2,351.2 1339.3,350.4Z" fill="#0000b5"/>
</g>
<filter id="bbS" x="-20%" y="-20%" width="140%" height="140%"><feGaussianBlur stdDeviation="3.5"/></filter><g filter="url(#bbS)">
<ellipse cx="1166.9" cy="376.1" rx="9" ry="24" fill="#ff1100" opacity="0.85"/>
<ellipse cx="1180.6" cy="402.1" rx="11" ry="8" fill="#ff3200" opacity="0.7"/>
<ellipse cx="1244.9" cy="415.7" rx="12" ry="4" fill="#ff6800" opacity="0.6"/>
<ellipse cx="1299.6" cy="420.4" rx="22" ry="4" fill="#ff1100" opacity="0.85"/>
<ellipse cx="1253.1" cy="201.0" rx="12" ry="5" fill="#ff6800" opacity="0.8"/>
<ellipse cx="1480.1" cy="415.7" rx="20" ry="4" fill="#ff3d00" opacity="0.75"/>
<ellipse cx="1384.4" cy="423.1" rx="24" ry="3" fill="#ff3200" opacity="0.8"/>
<ellipse cx="1534.8" cy="403.4" rx="8" ry="4" fill="#ff7e00" opacity="0.5"/>
</g>
<path d="M1153.3,324.1 1154.1,316.5 1155.2,308.9 1156.9,301.4 1159.2,294.1 1161.9,286.9 1165.0,279.8 1168.3,272.9 1171.8,266.1 1175.7,259.5 1179.9,253.0 1184.4,246.8 1189.1,240.7 1194.2,234.9 1199.5,229.3 1205.1,224.1 1210.9,219.1 1217.0,214.5 1223.3,210.2 1229.8,206.1 1236.4,202.0 1243.0,198.0 1249.5,194.0 1256.2,190.2 1263.1,186.9 1270.2,184.1 1277.6,181.9 1285.2,180.3 1292.8,179.1 1300.5,178.2 1308.1,177.4 1315.7,176.9 1323.3,176.5 1330.9,176.3 1338.5,176.1 1346.1,176.0 1353.8,175.9 1361.5,175.8 1369.3,175.8 1377.1,175.8 1384.9,175.9 1392.6,176.1 1400.3,176.7 1407.9,177.5 1415.4,178.7 1422.8,180.4 1430.1,182.5 1437.1,185.2 1444.0,188.6 1450.7,192.4 1457.2,196.5 1463.8,200.7 1470.4,204.8 1477.0,208.9 1483.4,213.0 1489.7,217.4 1495.7,222.1 1501.5,227.1 1507.1,232.3 1512.4,237.8 1517.4,243.5 1522.2,249.5 1526.8,255.7 1531.1,262.1 1535.1,268.7 1538.8,275.4 1542.3,282.4 1545.4,289.4 1548.1,296.6 1550.4,303.9 1552.2,311.3 1553.4,318.8 1554.1,326.4 1554.5,334.0 1554.7,341.7 1554.7,349.4 1554.6,357.2 1554.7,365.0 1554.9,372.8 1554.8,380.6 1553.6,388.0 1550.9,395.0 1546.7,401.2 1541.2,406.4 1534.7,410.3 1527.3,413.2 1519.7,415.4 1512.1,416.9 1504.4,418.1 1496.8,418.8 1489.2,419.3 1481.6,419.7 1474.0,420.0 1466.3,420.4 1458.7,420.9 1451.0,421.4 1443.4,422.1 1435.7,422.7 1428.0,423.4 1420.4,424.0 1412.7,424.5 1405.0,425.0 1397.3,425.4 1389.7,425.6 1382.0,425.8 1374.4,425.9 1366.7,426.0 1359.0,426.0 1351.4,425.9 1343.7,425.8 1336.0,425.7 1328.4,425.6 1320.7,425.4 1313.0,425.2 1305.3,425.0 1297.6,424.7 1290.0,424.5 1282.3,424.2 1274.6,423.9 1266.9,423.6 1259.3,423.2 1251.6,422.8 1244.0,422.4 1236.3,421.9 1228.7,421.4 1221.1,420.9 1213.5,420.3 1205.9,419.6 1198.2,418.7 1190.5,417.5 1182.8,415.9 1175.4,413.5 1168.6,409.9 1162.6,405.2 1157.7,399.5 1154.1,392.9 1152.0,385.6 1151.2,377.9 1151.0,370.1 1151.0,362.3 1151.2,354.6 1151.6,347.0 1152.1,339.4 1152.7,331.7Z" fill="none" stroke="#f0f020" stroke-width="4.4" opacity="0.7"/>
<path d="M1153.3,324.1 1154.1,316.5 1155.2,308.9 1156.9,301.4 1159.2,294.1 1161.9,286.9 1165.0,279.8 1168.3,272.9 1171.8,266.1 1175.7,259.5 1179.9,253.0 1184.4,246.8 1189.1,240.7 1194.2,234.9 1199.5,229.3 1205.1,224.1 1210.9,219.1 1217.0,214.5 1223.3,210.2 1229.8,206.1 1236.4,202.0 1243.0,198.0 1249.5,194.0 1256.2,190.2 1263.1,186.9 1270.2,184.1 1277.6,181.9 1285.2,180.3 1292.8,179.1 1300.5,178.2 1308.1,177.4 1315.7,176.9 1323.3,176.5 1330.9,176.3 1338.5,176.1 1346.1,176.0 1353.8,175.9 1361.5,175.8 1369.3,175.8 1377.1,175.8 1384.9,175.9 1392.6,176.1 1400.3,176.7 1407.9,177.5 1415.4,178.7 1422.8,180.4 1430.1,182.5 1437.1,185.2 1444.0,188.6 1450.7,192.4 1457.2,196.5 1463.8,200.7 1470.4,204.8 1477.0,208.9 1483.4,213.0 1489.7,217.4 1495.7,222.1 1501.5,227.1 1507.1,232.3 1512.4,237.8 1517.4,243.5 1522.2,249.5 1526.8,255.7 1531.1,262.1 1535.1,268.7 1538.8,275.4 1542.3,282.4 1545.4,289.4 1548.1,296.6 1550.4,303.9 1552.2,311.3 1553.4,318.8 1554.1,326.4 1554.5,334.0 1554.7,341.7 1554.7,349.4 1554.6,357.2 1554.7,365.0 1554.9,372.8 1554.8,380.6 1553.6,388.0 1550.9,395.0 1546.7,401.2 1541.2,406.4 1534.7,410.3 1527.3,413.2 1519.7,415.4 1512.1,416.9 1504.4,418.1 1496.8,418.8 1489.2,419.3 1481.6,419.7 1474.0,420.0 1466.3,420.4 1458.7,420.9 1451.0,421.4 1443.4,422.1 1435.7,422.7 1428.0,423.4 1420.4,424.0 1412.7,424.5 1405.0,425.0 1397.3,425.4 1389.7,425.6 1382.0,425.8 1374.4,425.9 1366.7,426.0 1359.0,426.0 1351.4,425.9 1343.7,425.8 1336.0,425.7 1328.4,425.6 1320.7,425.4 1313.0,425.2 1305.3,425.0 1297.6,424.7 1290.0,424.5 1282.3,424.2 1274.6,423.9 1266.9,423.6 1259.3,423.2 1251.6,422.8 1244.0,422.4 1236.3,421.9 1228.7,421.4 1221.1,420.9 1213.5,420.3 1205.9,419.6 1198.2,418.7 1190.5,417.5 1182.8,415.9 1175.4,413.5 1168.6,409.9 1162.6,405.2 1157.7,399.5 1154.1,392.9 1152.0,385.6 1151.2,377.9 1151.0,370.1 1151.0,362.3 1151.2,354.6 1151.6,347.0 1152.1,339.4 1152.7,331.7Z" fill="none" stroke="#20e020" stroke-width="2.4" opacity="0.9"/>
</g>
<clipPath id="clipF"><path d="M1151.9,800.2 1151.5,792.6 1151.3,784.8 1151.6,777.2 1152.4,769.6 1154.1,762.3 1156.4,755.0 1159.1,747.9 1162.0,740.7 1165.2,733.7 1168.6,726.7 1172.4,719.9 1176.4,713.3 1180.8,707.0 1185.4,701.0 1190.4,695.2 1195.8,689.8 1201.4,684.7 1207.2,679.9 1213.3,675.3 1219.6,671.0 1226.1,666.8 1232.8,662.9 1239.5,659.2 1246.4,655.6 1253.3,652.2 1260.2,648.9 1267.2,645.8 1274.2,642.8 1281.4,640.3 1288.7,638.2 1296.2,636.6 1303.8,635.5 1311.4,634.8 1319.1,634.3 1326.8,634.2 1334.4,634.1 1342.1,634.2 1349.7,634.4 1357.4,634.5 1365.1,634.5 1372.7,634.5 1380.4,634.6 1388.0,634.9 1395.6,635.6 1403.2,636.7 1410.7,638.2 1418.2,640.2 1425.5,642.4 1432.7,645.0 1439.8,647.8 1446.8,650.8 1453.7,654.1 1460.5,657.7 1467.2,661.4 1473.8,665.3 1480.3,669.4 1486.7,673.7 1492.8,678.3 1498.7,683.2 1504.3,688.4 1509.5,693.9 1514.5,699.7 1519.3,705.7 1523.9,711.8 1528.4,718.0 1532.8,724.3 1536.9,730.7 1540.7,737.3 1544.2,744.1 1547.4,751.1 1550.2,758.3 1552.2,765.7 1553.6,773.2 1554.4,780.8 1554.8,788.4 1555.0,796.1 1555.1,803.7 1555.2,811.4 1555.4,819.1 1555.5,826.8 1555.2,834.4 1554.2,842.1 1552.2,849.5 1548.7,856.2 1543.7,862.0 1537.8,866.8 1531.2,870.6 1524.0,873.5 1516.5,875.6 1508.9,877.1 1501.2,878.1 1493.6,878.7 1486.0,879.0 1478.4,879.3 1470.8,879.7 1463.2,880.1 1455.5,880.6 1447.9,881.1 1440.3,881.6 1432.6,882.1 1425.0,882.6 1417.3,883.1 1409.7,883.5 1402.0,883.9 1394.4,884.3 1386.7,884.6 1379.0,884.8 1371.4,885.0 1363.7,885.1 1356.1,885.1 1348.4,885.1 1340.8,885.0 1333.1,884.9 1325.4,884.7 1317.8,884.4 1310.2,884.1 1302.5,883.8 1294.9,883.4 1287.3,882.9 1279.7,882.3 1272.0,881.7 1264.4,881.1 1256.8,880.5 1249.2,880.1 1241.5,879.8 1233.7,879.8 1225.9,880.0 1218.1,880.3 1210.3,880.3 1202.8,879.8 1195.4,878.3 1188.4,875.6 1181.6,872.1 1174.8,868.2 1168.4,863.9 1162.6,858.9 1157.8,852.9 1154.5,846.1 1153.1,838.7 1152.7,830.9 1152.6,823.1 1152.4,815.5 1152.2,807.9Z"/></clipPath>
<path d="M1151.9,800.2 1151.5,792.6 1151.3,784.8 1151.6,777.2 1152.4,769.6 1154.1,762.3 1156.4,755.0 1159.1,747.9 1162.0,740.7 1165.2,733.7 1168.6,726.7 1172.4,719.9 1176.4,713.3 1180.8,707.0 1185.4,701.0 1190.4,695.2 1195.8,689.8 1201.4,684.7 1207.2,679.9 1213.3,675.3 1219.6,671.0 1226.1,666.8 1232.8,662.9 1239.5,659.2 1246.4,655.6 1253.3,652.2 1260.2,648.9 1267.2,645.8 1274.2,642.8 1281.4,640.3 1288.7,638.2 1296.2,636.6 1303.8,635.5 1311.4,634.8 1319.1,634.3 1326.8,634.2 1334.4,634.1 1342.1,634.2 1349.7,634.4 1357.4,634.5 1365.1,634.5 1372.7,634.5 1380.4,634.6 1388.0,634.9 1395.6,635.6 1403.2,636.7 1410.7,638.2 1418.2,640.2 1425.5,642.4 1432.7,645.0 1439.8,647.8 1446.8,650.8 1453.7,654.1 1460.5,657.7 1467.2,661.4 1473.8,665.3 1480.3,669.4 1486.7,673.7 1492.8,678.3 1498.7,683.2 1504.3,688.4 1509.5,693.9 1514.5,699.7 1519.3,705.7 1523.9,711.8 1528.4,718.0 1532.8,724.3 1536.9,730.7 1540.7,737.3 1544.2,744.1 1547.4,751.1 1550.2,758.3 1552.2,765.7 1553.6,773.2 1554.4,780.8 1554.8,788.4 1555.0,796.1 1555.1,803.7 1555.2,811.4 1555.4,819.1 1555.5,826.8 1555.2,834.4 1554.2,842.1 1552.2,849.5 1548.7,856.2 1543.7,862.0 1537.8,866.8 1531.2,870.6 1524.0,873.5 1516.5,875.6 1508.9,877.1 1501.2,878.1 1493.6,878.7 1486.0,879.0 1478.4,879.3 1470.8,879.7 1463.2,880.1 1455.5,880.6 1447.9,881.1 1440.3,881.6 1432.6,882.1 1425.0,882.6 1417.3,883.1 1409.7,883.5 1402.0,883.9 1394.4,884.3 1386.7,884.6 1379.0,884.8 1371.4,885.0 1363.7,885.1 1356.1,885.1 1348.4,885.1 1340.8,885.0 1333.1,884.9 1325.4,884.7 1317.8,884.4 1310.2,884.1 1302.5,883.8 1294.9,883.4 1287.3,882.9 1279.7,882.3 1272.0,881.7 1264.4,881.1 1256.8,880.5 1249.2,880.1 1241.5,879.8 1233.7,879.8 1225.9,880.0 1218.1,880.3 1210.3,880.3 1202.8,879.8 1195.4,878.3 1188.4,875.6 1181.6,872.1 1174.8,868.2 1168.4,863.9 1162.6,858.9 1157.8,852.9 1154.5,846.1 1153.1,838.7 1152.7,830.9 1152.6,823.1 1152.4,815.5 1152.2,807.9Z" fill="none" stroke="#0000e0" stroke-width="3.2" stroke-linejoin="round"/>
<filter id="blurF" x="-5%" y="-5%" width="110%" height="110%"><feGaussianBlur stdDeviation="2.0"/></filter>
<g clip-path="url(#clipF)"><g filter="url(#blurF)">
<path d="M1151.9,800.2 1151.5,792.6 1151.3,784.8 1151.6,777.2 1152.4,769.6 1154.1,762.3 1156.4,755.0 1159.1,747.9 1162.0,740.7 1165.2,733.7 1168.6,726.7 1172.4,719.9 1176.4,713.3 1180.8,707.0 1185.4,701.0 1190.4,695.2 1195.8,689.8 1201.4,684.7 1207.2,679.9 1213.3,675.3 1219.6,671.0 1226.1,666.8 1232.8,662.9 1239.5,659.2 1246.4,655.6 1253.3,652.2 1260.2,648.9 1267.2,645.8 1274.2,642.8 1281.4,640.3 1288.7,638.2 1296.2,636.6 1303.8,635.5 1311.4,634.8 1319.1,634.3 1326.8,634.2 1334.4,634.1 1342.1,634.2 1349.7,634.4 1357.4,634.5 1365.1,634.5 1372.7,634.5 1380.4,634.6 1388.0,634.9 1395.6,635.6 1403.2,636.7 1410.7,638.2 1418.2,640.2 1425.5,642.4 1432.7,645.0 1439.8,647.8 1446.8,650.8 1453.7,654.1 1460.5,657.7 1467.2,661.4 1473.8,665.3 1480.3,669.4 1486.7,673.7 1492.8,678.3 1498.7,683.2 1504.3,688.4 1509.5,693.9 1514.5,699.7 1519.3,705.7 1523.9,711.8 1528.4,718.0 1532.8,724.3 1536.9,730.7 1540.7,737.3 1544.2,744.1 1547.4,751.1 1550.2,758.3 1552.2,765.7 1553.6,773.2 1554.4,780.8 1554.8,788.4 1555.0,796.1 1555.1,803.7 1555.2,811.4 1555.4,819.1 1555.5,826.8 1555.2,834.4 1554.2,842.1 1552.2,849.5 1548.7,856.2 1543.7,862.0 1537.8,866.8 1531.2,870.6 1524.0,873.5 1516.5,875.6 1508.9,877.1 1501.2,878.1 1493.6,878.7 1486.0,879.0 1478.4,879.3 1470.8,879.7 1463.2,880.1 1455.5,880.6 1447.9,881.1 1440.3,881.6 1432.6,882.1 1425.0,882.6 1417.3,883.1 1409.7,883.5 1402.0,883.9 1394.4,884.3 1386.7,884.6 1379.0,884.8 1371.4,885.0 1363.7,885.1 1356.1,885.1 1348.4,885.1 1340.8,885.0 1333.1,884.9 1325.4,884.7 1317.8,884.4 1310.2,884.1 1302.5,883.8 1294.9,883.4 1287.3,882.9 1279.7,882.3 1272.0,881.7 1264.4,881.1 1256.8,880.5 1249.2,880.1 1241.5,879.8 1233.7,879.8 1225.9,880.0 1218.1,880.3 1210.3,880.3 1202.8,879.8 1195.4,878.3 1188.4,875.6 1181.6,872.1 1174.8,868.2 1168.4,863.9 1162.6,858.9 1157.8,852.9 1154.5,846.1 1153.1,838.7 1152.7,830.9 1152.6,823.1 1152.4,815.5 1152.2,807.9Z" fill="#ff008e" stroke="#ff008e" stroke-width="8"/>
<path d="M1147.6,799.6 1147.1,787.5 1147.3,775.4 1149.0,763.7 1152.3,752.3 1156.5,741.0 1161.2,729.9 1166.6,719.1 1172.7,708.7 1179.5,698.8 1187.0,689.7 1195.3,681.4 1204.1,673.6 1213.6,666.6 1223.4,660.0 1233.6,653.9 1244.1,648.3 1254.7,643.0 1265.4,638.0 1276.2,633.5 1287.3,630.0 1298.8,627.7 1310.5,626.4 1322.3,625.9 1334.0,625.8 1345.7,625.9 1357.5,626.1 1369.2,626.2 1380.9,626.3 1392.6,626.9 1404.2,628.5 1415.8,631.0 1427.0,634.5 1438.0,638.6 1448.8,643.3 1459.3,648.5 1469.6,654.3 1479.7,660.5 1489.5,667.2 1498.7,674.5 1507.4,682.6 1515.4,691.4 1522.8,700.7 1529.8,710.3 1536.5,720.1 1542.7,730.3 1548.2,740.9 1553.0,751.9 1556.4,763.4 1558.2,775.3 1559.0,787.3 1559.3,799.3 1559.5,811.3 1559.7,823.0 1559.4,834.7 1557.6,846.3 1552.8,856.8 1544.8,865.2 1534.9,871.4 1523.8,875.5 1512.1,878.0 1500.4,879.3 1488.8,879.9 1477.1,880.4 1465.5,881.0 1453.8,881.7 1442.1,882.5 1430.4,883.3 1418.7,884.0 1406.9,884.7 1395.2,885.2 1383.5,885.7 1371.7,885.9 1360.0,886.1 1348.3,886.1 1336.6,885.9 1324.8,885.7 1313.1,885.3 1301.4,884.7 1289.8,884.1 1278.1,883.3 1266.4,882.4 1254.8,881.5 1243.0,880.8 1231.2,880.7 1219.2,881.1 1207.3,881.3 1195.8,880.1 1184.9,876.5 1174.5,871.0 1164.5,864.6 1155.9,856.6 1150.3,846.6 1148.5,835.1 1148.4,823.2 1148.1,811.5Z" fill="#ff0081"/>
<path d="M1151.3,799.8 1150.8,787.9 1150.9,776.1 1152.6,764.5 1155.8,753.3 1160.0,742.2 1164.6,731.2 1169.9,720.6 1175.9,710.3 1182.5,700.6 1189.9,691.7 1198.1,683.4 1206.8,675.8 1216.0,668.9 1225.7,662.4 1235.8,656.4 1246.0,650.9 1256.5,645.6 1266.9,640.7 1277.6,636.3 1288.5,632.9 1299.8,630.6 1311.3,629.4 1322.9,628.8 1334.4,628.7 1345.9,628.9 1357.4,629.1 1368.9,629.1 1380.4,629.2 1391.9,629.8 1403.4,631.4 1414.7,633.9 1425.7,637.3 1436.5,641.3 1447.1,645.9 1457.4,651.1 1467.5,656.8 1477.5,662.9 1487.1,669.5 1496.2,676.7 1504.7,684.6 1512.5,693.3 1519.8,702.5 1526.7,711.9 1533.3,721.6 1539.4,731.6 1544.8,742.0 1549.5,752.9 1552.8,764.2 1554.6,775.9 1555.4,787.7 1555.7,799.5 1555.9,811.3 1556.1,822.7 1555.8,833.8 1554.0,844.9 1549.3,855.0 1541.4,863.1 1531.7,868.9 1520.8,872.9 1509.4,875.3 1497.8,876.6 1486.4,877.1 1475.0,877.6 1463.5,878.2 1452.0,878.9 1440.5,879.6 1429.0,880.3 1417.5,881.1 1406.0,881.7 1394.5,882.2 1383.0,882.6 1371.4,882.9 1359.9,883.0 1348.4,883.0 1336.9,882.9 1325.4,882.6 1313.9,882.3 1302.4,881.7 1290.9,881.1 1279.4,880.3 1268.0,879.5 1256.5,878.6 1245.0,878.0 1233.4,877.8 1221.6,878.3 1209.9,878.4 1198.6,877.3 1187.9,873.8 1177.7,868.5 1167.8,862.4 1159.4,854.8 1153.9,845.2 1152.2,834.2 1152.0,822.8 1151.7,811.6Z" fill="#ff0066"/>
<path d="M1156.9,800.1 1156.6,788.4 1156.8,776.7 1158.5,765.3 1161.7,754.3 1165.7,743.4 1170.2,732.7 1175.4,722.2 1181.2,712.2 1187.7,702.7 1194.9,693.9 1202.7,685.8 1211.2,678.3 1220.2,671.4 1229.5,665.1 1239.3,659.2 1249.2,653.7 1259.3,648.5 1269.5,643.7 1279.8,639.4 1290.4,636.0 1301.4,633.8 1312.6,632.5 1323.8,631.9 1334.9,631.7 1346.1,631.8 1357.3,632.0 1368.5,632.1 1379.7,632.2 1390.8,632.9 1401.9,634.4 1412.9,636.9 1423.6,640.2 1434.1,644.2 1444.3,648.8 1454.3,653.8 1464.2,659.4 1473.8,665.4 1483.1,671.9 1491.9,679.0 1500.2,686.8 1507.8,695.3 1514.9,704.3 1521.6,713.6 1528.0,723.2 1533.8,733.0 1539.1,743.3 1543.6,753.9 1546.9,765.1 1548.7,776.5 1549.5,788.1 1549.9,799.7 1550.0,811.4 1550.2,821.6 1549.6,831.4 1547.4,841.1 1542.5,849.9 1534.6,856.9 1525.2,862.0 1514.7,865.4 1503.7,867.5 1492.7,868.7 1481.8,869.3 1470.9,869.7 1460.0,870.3 1448.9,870.9 1437.9,871.6 1426.8,872.3 1415.6,873.0 1404.5,873.5 1393.3,874.0 1382.1,874.4 1370.9,874.6 1359.7,874.7 1348.6,874.7 1337.4,874.6 1326.2,874.4 1315.0,874.0 1303.9,873.6 1292.7,873.0 1281.6,872.3 1270.5,871.5 1259.5,870.7 1248.4,870.1 1237.3,869.9 1226.1,870.2 1215.0,870.3 1204.2,869.2 1193.9,866.2 1183.9,861.6 1174.3,856.3 1165.9,849.7 1160.3,841.4 1158.2,831.8 1157.7,821.8 1157.3,811.6Z" fill="#ff004d"/>
<path d="M1160.1,800.6 1159.7,789.3 1160.0,778.0 1161.7,767.1 1164.8,756.5 1168.8,746.0 1173.3,735.6 1178.4,725.5 1184.1,715.9 1190.4,706.7 1197.5,698.2 1205.2,690.4 1213.6,683.2 1222.4,676.6 1231.6,670.4 1241.1,664.7 1250.9,659.4 1260.9,654.5 1270.9,649.8 1281.0,645.7 1291.5,642.4 1302.3,640.2 1313.2,639.0 1324.2,638.4 1335.3,638.2 1346.3,638.3 1357.2,638.4 1368.2,638.5 1379.1,638.7 1389.9,639.3 1400.8,640.8 1411.5,643.2 1422.0,646.4 1432.2,650.3 1442.2,654.7 1452.0,659.6 1461.5,664.9 1470.9,670.7 1480.0,677.0 1488.7,683.9 1496.7,691.4 1504.1,699.6 1511.0,708.3 1517.6,717.2 1523.8,726.4 1529.6,735.9 1534.7,745.8 1539.1,756.1 1542.3,766.8 1544.1,777.9 1544.9,789.0 1545.3,800.2 1545.4,811.5 1545.5,821.4 1544.8,830.9 1542.6,840.2 1537.6,848.6 1529.9,855.3 1520.6,860.2 1510.4,863.6 1499.8,865.6 1489.2,866.7 1478.6,867.3 1468.0,867.8 1457.3,868.4 1446.6,869.0 1435.8,869.7 1425.0,870.3 1414.2,871.0 1403.3,871.6 1392.4,872.0 1381.5,872.4 1370.5,872.6 1359.6,872.7 1348.6,872.7 1337.6,872.6 1326.6,872.4 1315.6,872.0 1304.7,871.6 1293.7,871.0 1282.8,870.3 1271.9,869.6 1261.1,868.8 1250.2,868.2 1239.3,868.0 1228.4,868.2 1217.6,868.2 1207.1,867.2 1196.9,864.3 1187.1,859.9 1177.6,854.8 1169.3,848.4 1163.6,840.4 1161.4,831.2 1160.8,821.6 1160.4,811.7Z" fill="#ff0033"/>
<path d="M1163.2,802.4 1162.9,792.7 1163.3,783.0 1164.9,773.5 1168.0,764.4 1171.9,755.3 1176.4,746.4 1181.4,737.7 1187.0,729.4 1193.3,721.5 1200.2,714.2 1207.8,707.4 1216.0,701.2 1224.6,695.5 1233.7,690.2 1243.1,685.3 1252.7,680.7 1262.5,676.4 1272.3,672.4 1282.3,668.8 1292.5,666.0 1303.1,664.1 1313.9,663.0 1324.7,662.4 1335.6,662.2 1346.4,662.3 1357.2,662.4 1367.8,662.5 1378.5,662.6 1389.1,663.2 1399.6,664.5 1410.1,666.6 1420.3,669.4 1430.3,672.7 1440.0,676.5 1449.6,680.7 1458.9,685.4 1468.1,690.4 1476.9,695.8 1485.3,701.7 1493.2,708.2 1500.4,715.3 1507.2,722.8 1513.6,730.5 1519.7,738.4 1525.2,746.6 1530.2,755.2 1534.5,764.1 1537.6,773.3 1539.4,782.8 1540.3,792.5 1540.7,802.1 1540.9,811.8 1540.9,821.1 1540.0,830.3 1537.6,839.2 1532.6,847.3 1524.9,853.8 1515.8,858.4 1505.9,861.6 1495.6,863.6 1485.4,864.7 1475.2,865.3 1464.9,865.8 1454.6,866.4 1444.2,867.0 1433.8,867.7 1423.3,868.4 1412.7,869.0 1402.1,869.6 1391.5,870.0 1380.8,870.4 1370.2,870.6 1359.5,870.7 1348.7,870.7 1337.9,870.6 1327.1,870.4 1316.3,870.1 1305.5,869.6 1294.7,869.0 1284.0,868.4 1273.4,867.6 1262.7,866.8 1252.1,866.2 1241.5,866.0 1230.9,866.2 1220.4,866.1 1210.2,865.1 1200.2,862.4 1190.6,858.2 1181.2,853.3 1172.9,847.1 1167.2,839.5 1164.7,830.6 1163.9,821.3 1163.5,812.0Z" fill="#ff001a"/>
<path d="M1166.3,804.2 1166.1,795.9 1166.5,787.6 1168.1,779.6 1171.2,771.8 1175.0,764.1 1179.4,756.5 1184.4,749.0 1189.9,741.9 1196.1,735.2 1202.9,729.0 1210.4,723.3 1218.4,718.0 1226.9,713.1 1235.8,708.5 1245.0,704.3 1254.4,700.4 1264.0,696.8 1273.7,693.4 1283.5,690.3 1293.6,687.9 1304.0,686.3 1314.6,685.3 1325.2,684.8 1335.9,684.6 1346.5,684.7 1357.1,684.8 1367.5,684.8 1377.9,685.0 1388.2,685.5 1398.5,686.6 1408.7,688.4 1418.6,690.8 1428.4,693.6 1437.9,696.8 1447.2,700.4 1456.3,704.4 1465.2,708.7 1473.8,713.3 1482.0,718.4 1489.7,723.9 1496.8,729.9 1503.4,736.3 1509.6,742.8 1515.5,749.6 1520.9,756.6 1525.8,763.9 1530.0,771.5 1533.0,779.4 1534.8,787.5 1535.7,795.7 1536.1,803.9 1536.3,812.2 1536.3,820.9 1535.3,829.7 1532.7,838.3 1527.6,846.0 1520.0,852.2 1511.2,856.7 1501.5,859.8 1491.6,861.7 1481.7,862.8 1471.8,863.4 1462.0,863.9 1452.0,864.4 1441.9,865.1 1431.7,865.7 1421.5,866.4 1411.2,867.0 1400.9,867.6 1390.5,868.0 1380.2,868.4 1369.8,868.6 1359.4,868.7 1348.8,868.7 1338.2,868.6 1327.5,868.4 1316.9,868.1 1306.3,867.6 1295.7,867.1 1285.2,866.4 1274.8,865.7 1264.3,864.9 1254.0,864.3 1243.6,864.0 1233.3,864.2 1223.1,864.1 1213.2,863.1 1203.4,860.5 1193.9,856.4 1184.6,851.8 1176.4,845.9 1170.6,838.5 1168.0,830.0 1167.0,821.0 1166.6,812.4Z" fill="#ff0000"/>
<path d="M1169.4,805.8 1169.2,798.9 1169.6,792.0 1171.3,785.3 1174.3,778.9 1178.1,772.4 1182.4,766.1 1187.3,760.0 1192.8,754.0 1198.8,748.5 1205.6,743.3 1212.9,738.5 1220.7,734.1 1229.1,730.0 1237.8,726.2 1246.8,722.7 1256.1,719.5 1265.6,716.4 1275.1,713.6 1284.7,711.1 1294.6,709.0 1304.9,707.7 1315.3,706.8 1325.7,706.4 1336.2,706.2 1346.6,706.3 1357.0,706.3 1367.2,706.4 1377.3,706.5 1387.4,707.0 1397.5,707.9 1407.4,709.4 1417.1,711.4 1426.6,713.7 1435.9,716.4 1445.0,719.4 1453.9,722.7 1462.6,726.3 1471.0,730.2 1479.0,734.4 1486.5,739.0 1493.4,744.0 1499.8,749.3 1506.0,754.8 1511.7,760.4 1517.0,766.2 1521.8,772.3 1525.8,778.6 1528.8,785.2 1530.6,791.9 1531.4,798.8 1531.9,805.6 1532.1,812.5 1532.0,820.7 1530.9,829.2 1528.3,837.6 1523.1,845.1 1515.7,851.0 1507.0,855.3 1497.6,858.3 1487.9,860.2 1478.3,861.2 1468.8,861.8 1459.2,862.3 1449.6,862.9 1439.8,863.6 1429.9,864.2 1419.9,864.9 1409.9,865.5 1399.8,866.1 1389.7,866.5 1379.6,866.8 1369.4,867.1 1359.2,867.2 1348.9,867.2 1338.4,867.1 1328.0,866.9 1317.5,866.5 1307.1,866.1 1296.7,865.5 1286.4,864.9 1276.1,864.2 1265.9,863.4 1255.8,862.8 1245.7,862.5 1235.6,862.6 1225.7,862.5 1216.0,861.5 1206.5,859.0 1197.1,855.1 1187.9,850.6 1179.8,844.9 1173.9,837.8 1171.2,829.5 1170.1,820.9 1169.7,812.7Z" fill="#ff1a00"/>
<path d="M1172.4,806.4 1172.3,799.9 1172.7,793.5 1174.4,787.3 1177.3,781.2 1181.1,775.2 1185.3,769.3 1190.1,763.6 1195.5,758.0 1201.5,752.8 1208.1,748.0 1215.3,743.5 1223.0,739.4 1231.2,735.6 1239.8,732.1 1248.6,728.8 1257.8,725.7 1267.0,722.9 1276.4,720.2 1285.9,717.9 1295.6,716.0 1305.7,714.7 1315.9,713.9 1326.2,713.5 1336.5,713.4 1346.8,713.4 1357.0,713.5 1366.9,713.5 1376.8,713.7 1386.7,714.1 1396.5,715.0 1406.2,716.4 1415.8,718.2 1425.1,720.4 1434.1,722.9 1443.0,725.7 1451.7,728.8 1460.2,732.1 1468.5,735.7 1476.3,739.7 1483.6,744.0 1490.4,748.6 1496.7,753.6 1502.6,758.7 1508.3,764.0 1513.5,769.4 1518.1,775.1 1522.1,781.0 1525.0,787.1 1526.7,793.4 1527.6,799.8 1528.0,806.2 1528.2,812.6 1528.2,820.6 1527.1,828.9 1524.3,837.1 1519.3,844.4 1511.9,850.2 1503.4,854.4 1494.3,857.3 1484.8,859.2 1475.5,860.2 1466.2,860.8 1456.9,861.3 1447.4,861.9 1437.9,862.5 1428.2,863.2 1418.5,863.8 1408.7,864.5 1398.8,865.0 1388.9,865.4 1379.0,865.8 1369.1,866.0 1359.1,866.1 1349.0,866.1 1338.7,866.0 1328.4,865.8 1318.1,865.5 1307.9,865.0 1297.7,864.5 1287.5,863.9 1277.4,863.1 1267.4,862.4 1257.4,861.8 1247.6,861.5 1237.8,861.6 1228.1,861.5 1218.5,860.5 1209.2,858.0 1199.9,854.2 1190.9,849.8 1182.9,844.2 1177.1,837.3 1174.2,829.2 1173.1,820.7 1172.7,812.8Z" fill="#ff3400"/>
<path d="M1175.5,806.7 1175.3,800.5 1175.8,794.4 1177.4,788.4 1180.4,782.6 1184.0,776.9 1188.2,771.2 1192.9,765.7 1198.2,760.4 1204.1,755.4 1210.6,750.8 1217.6,746.5 1225.2,742.6 1233.3,738.9 1241.7,735.5 1250.4,732.4 1259.4,729.5 1268.5,726.8 1277.7,724.2 1287.1,722.0 1296.6,720.2 1306.5,718.9 1316.6,718.2 1326.7,717.8 1336.8,717.6 1346.9,717.6 1356.9,717.7 1366.6,717.7 1376.3,717.9 1386.0,718.3 1395.6,719.1 1405.1,720.5 1414.4,722.3 1423.5,724.3 1432.4,726.8 1441.0,729.4 1449.5,732.4 1457.9,735.6 1465.9,739.0 1473.6,742.8 1480.7,746.9 1487.3,751.4 1493.5,756.1 1499.3,761.0 1504.9,766.1 1509.9,771.3 1514.4,776.7 1518.3,782.4 1521.2,788.2 1522.9,794.3 1523.8,800.4 1524.2,806.5 1524.4,812.7 1524.3,820.4 1523.2,828.6 1520.5,836.6 1515.4,843.7 1508.2,849.4 1499.9,853.5 1491.0,856.4 1481.8,858.2 1472.7,859.2 1463.6,859.8 1454.5,860.3 1445.3,860.9 1436.0,861.5 1426.5,862.2 1417.0,862.8 1407.5,863.4 1397.8,863.9 1388.2,864.4 1378.5,864.7 1368.8,864.9 1359.0,865.0 1349.1,865.0 1339.0,864.9 1328.8,864.7 1318.7,864.4 1308.7,864.0 1298.6,863.4 1288.7,862.8 1278.8,862.1 1268.9,861.4 1259.1,860.8 1249.4,860.5 1239.8,860.5 1230.3,860.4 1221.0,859.5 1211.8,857.0 1202.7,853.3 1193.8,849.0 1185.9,843.6 1180.1,836.8 1177.3,828.9 1176.2,820.6 1175.7,812.8Z" fill="#ff4e00"/>
<path d="M1178.5,807.0 1178.4,801.1 1178.9,795.3 1180.5,789.5 1183.4,784.0 1187.0,778.5 1191.1,773.1 1195.7,767.8 1200.9,762.8 1206.7,758.0 1213.1,753.6 1220.0,749.5 1227.5,745.7 1235.4,742.2 1243.7,739.0 1252.2,736.0 1261.0,733.2 1270.0,730.6 1279.1,728.2 1288.2,726.0 1297.6,724.3 1307.3,723.1 1317.2,722.4 1327.1,722.0 1337.1,721.8 1347.0,721.8 1356.9,721.9 1366.4,722.0 1375.8,722.1 1385.3,722.5 1394.6,723.3 1403.9,724.6 1413.0,726.3 1421.9,728.3 1430.6,730.6 1439.1,733.2 1447.4,736.0 1455.5,739.0 1463.4,742.3 1470.9,745.9 1477.9,749.9 1484.3,754.1 1490.3,758.7 1496.0,763.4 1501.4,768.2 1506.4,773.2 1510.8,778.4 1514.6,783.8 1517.4,789.4 1519.1,795.2 1519.9,801.0 1520.3,806.9 1520.5,812.8 1520.5,820.3 1519.3,828.3 1516.6,836.1 1511.6,843.1 1504.6,848.6 1496.4,852.6 1487.7,855.4 1478.7,857.2 1469.8,858.2 1461.0,858.8 1452.2,859.3 1443.2,859.9 1434.1,860.5 1424.9,861.1 1415.6,861.8 1406.2,862.3 1396.8,862.9 1387.4,863.3 1377.9,863.6 1368.4,863.8 1358.9,863.9 1349.2,863.9 1339.2,863.8 1329.3,863.6 1319.3,863.3 1309.5,862.9 1299.6,862.4 1289.8,861.8 1280.1,861.1 1270.4,860.3 1260.8,859.7 1251.3,859.5 1241.9,859.5 1232.6,859.4 1223.5,858.4 1214.4,856.0 1205.5,852.4 1196.7,848.2 1189.0,842.9 1183.2,836.3 1180.4,828.6 1179.2,820.4 1178.8,812.9Z" fill="#ff6800"/>
<path d="M1181.6,807.4 1181.5,801.7 1181.9,796.1 1183.5,790.7 1186.4,785.4 1189.9,780.1 1193.9,775.0 1198.5,770.0 1203.6,765.2 1209.3,760.6 1215.6,756.4 1222.4,752.5 1229.7,748.9 1237.5,745.6 1245.6,742.5 1254.0,739.6 1262.7,736.9 1271.5,734.5 1280.4,732.1 1289.4,730.1 1298.6,728.4 1308.2,727.3 1317.9,726.6 1327.6,726.2 1337.4,726.1 1347.2,726.1 1356.8,726.1 1366.1,726.2 1375.3,726.3 1384.5,726.7 1393.7,727.5 1402.8,728.7 1411.7,730.3 1420.3,732.2 1428.8,734.4 1437.1,736.9 1445.2,739.6 1453.2,742.5 1460.8,745.6 1468.1,749.1 1475.0,752.8 1481.3,756.9 1487.2,761.2 1492.8,765.7 1498.0,770.3 1502.8,775.1 1507.2,780.0 1510.9,785.2 1513.6,790.5 1515.2,796.0 1516.1,801.6 1516.5,807.2 1516.7,812.8 1516.6,820.2 1515.4,828.0 1512.7,835.6 1507.8,842.4 1500.9,847.8 1493.0,851.7 1484.4,854.5 1475.7,856.2 1467.0,857.2 1458.5,857.8 1449.8,858.3 1441.1,858.8 1432.2,859.5 1423.2,860.1 1414.2,860.7 1405.0,861.3 1395.8,861.8 1386.6,862.2 1377.4,862.5 1368.1,862.8 1358.8,862.9 1349.3,862.9 1339.5,862.8 1329.7,862.5 1319.9,862.2 1310.2,861.8 1300.6,861.3 1290.9,860.7 1281.4,860.0 1271.9,859.3 1262.5,858.7 1253.2,858.4 1244.0,858.5 1234.9,858.3 1225.9,857.4 1217.0,855.1 1208.2,851.6 1199.7,847.5 1192.0,842.3 1186.3,835.8 1183.4,828.3 1182.2,820.3 1181.8,813.0Z" fill="#ff8200"/>
<path d="M1184.7,807.7 1184.6,802.3 1185.1,796.9 1186.6,791.7 1189.4,786.6 1192.9,781.6 1196.9,776.7 1201.3,771.9 1206.4,767.3 1211.9,762.9 1218.1,758.9 1224.8,755.2 1232.0,751.7 1239.6,748.5 1247.6,745.6 1255.8,742.8 1264.3,740.3 1273.0,737.9 1281.7,735.7 1290.6,733.7 1299.6,732.2 1309.0,731.1 1318.5,730.4 1328.1,730.0 1337.7,729.9 1347.3,729.9 1356.7,729.9 1365.8,730.0 1374.9,730.1 1383.9,730.5 1392.9,731.3 1401.7,732.4 1410.4,734.0 1418.9,735.8 1427.2,737.9 1435.3,740.2 1443.3,742.8 1451.1,745.6 1458.6,748.6 1465.7,751.9 1472.4,755.5 1478.6,759.4 1484.3,763.5 1489.8,767.8 1494.9,772.2 1499.7,776.8 1503.9,781.5 1507.5,786.4 1510.2,791.6 1511.8,796.8 1512.7,802.1 1513.1,807.5 1513.3,812.9 1513.2,820.0 1512.0,827.7 1509.3,835.1 1504.5,841.7 1497.6,847.0 1489.9,850.8 1481.5,853.5 1473.0,855.2 1464.5,856.2 1456.2,856.7 1447.8,857.2 1439.2,857.8 1430.5,858.4 1421.8,859.0 1412.9,859.6 1404.0,860.2 1395.0,860.7 1385.9,861.1 1376.9,861.4 1367.8,861.6 1358.7,861.7 1349.4,861.7 1339.7,861.6 1330.1,861.4 1320.6,861.1 1311.0,860.7 1301.5,860.2 1292.1,859.6 1282.7,859.0 1273.4,858.3 1264.2,857.7 1255.0,857.4 1246.0,857.4 1237.2,857.3 1228.4,856.4 1219.7,854.1 1211.0,850.6 1202.6,846.7 1195.0,841.6 1189.4,835.3 1186.5,827.9 1185.3,820.2 1184.9,813.0Z" fill="#ff9800"/>
<path d="M1187.8,807.9 1187.7,802.8 1188.2,797.6 1189.7,792.6 1192.5,787.8 1195.9,783.0 1199.8,778.3 1204.2,773.7 1209.1,769.3 1214.6,765.1 1220.7,761.2 1227.2,757.6 1234.3,754.3 1241.8,751.3 1249.6,748.5 1257.7,745.8 1266.0,743.4 1274.5,741.1 1283.1,739.0 1291.8,737.1 1300.7,735.6 1309.8,734.6 1319.2,733.9 1328.6,733.5 1338.0,733.4 1347.4,733.4 1356.7,733.4 1365.6,733.5 1374.5,733.6 1383.3,734.0 1392.1,734.7 1400.8,735.8 1409.3,737.3 1417.6,739.1 1425.8,741.1 1433.7,743.3 1441.5,745.8 1449.1,748.5 1456.5,751.4 1463.5,754.5 1470.0,757.9 1476.1,761.7 1481.7,765.6 1487.1,769.7 1492.1,774.0 1496.8,778.3 1500.9,782.9 1504.5,787.6 1507.1,792.5 1508.7,797.5 1509.5,802.7 1509.9,807.8 1510.1,812.9 1510.0,819.9 1508.8,827.3 1506.1,834.6 1501.4,841.0 1494.6,846.2 1487.0,849.9 1478.9,852.5 1470.5,854.1 1462.3,855.1 1454.1,855.7 1445.8,856.2 1437.5,856.7 1429.0,857.3 1420.4,857.9 1411.7,858.5 1403.0,859.1 1394.2,859.6 1385.3,860.0 1376.4,860.3 1367.5,860.5 1358.6,860.6 1349.5,860.6 1340.0,860.5 1330.6,860.3 1321.2,860.0 1311.8,859.6 1302.5,859.1 1293.3,858.5 1284.1,857.9 1274.9,857.2 1265.9,856.6 1256.9,856.3 1248.1,856.3 1239.4,856.2 1230.9,855.3 1222.3,853.1 1213.8,849.7 1205.5,845.8 1198.1,840.9 1192.5,834.8 1189.7,827.6 1188.5,820.0 1188.0,813.1Z" fill="#ffae00"/>
<path d="M1190.9,808.2 1190.9,803.3 1191.4,798.4 1192.9,793.6 1195.6,788.9 1198.9,784.3 1202.7,779.8 1207.1,775.4 1211.9,771.2 1217.3,767.2 1223.2,763.5 1229.7,760.1 1236.6,757.0 1243.9,754.0 1251.6,751.3 1259.5,748.8 1267.7,746.5 1276.0,744.3 1284.4,742.3 1292.9,740.5 1301.7,739.0 1310.7,738.0 1319.8,737.4 1329.1,737.1 1338.3,736.9 1347.5,736.9 1356.7,736.9 1365.4,737.0 1374.1,737.1 1382.7,737.5 1391.3,738.2 1399.8,739.3 1408.2,740.7 1416.4,742.3 1424.3,744.3 1432.1,746.4 1439.7,748.8 1447.2,751.3 1454.4,754.1 1461.3,757.1 1467.7,760.4 1473.6,764.0 1479.2,767.8 1484.4,771.7 1489.3,775.7 1493.9,779.9 1497.9,784.2 1501.4,788.7 1504.0,793.4 1505.5,798.3 1506.4,803.2 1506.8,808.1 1507.0,813.0 1506.9,819.8 1505.7,827.0 1503.0,834.1 1498.3,840.4 1491.7,845.3 1484.2,849.0 1476.2,851.5 1468.0,853.1 1460.0,854.1 1452.0,854.6 1443.9,855.1 1435.8,855.6 1427.5,856.2 1419.0,856.8 1410.5,857.4 1402.0,858.0 1393.3,858.5 1384.7,858.8 1376.0,859.1 1367.3,859.3 1358.5,859.4 1349.5,859.4 1340.3,859.3 1331.0,859.2 1321.8,858.9 1312.6,858.5 1303.5,858.0 1294.4,857.4 1285.4,856.8 1276.4,856.1 1267.6,855.5 1258.8,855.2 1250.2,855.2 1241.7,855.1 1233.3,854.2 1225.0,852.1 1216.6,848.8 1208.5,845.0 1201.2,840.2 1195.7,834.2 1192.8,827.3 1191.6,819.9 1191.1,813.1Z" fill="#ffc400"/>
<path d="M1194.1,808.5 1194.0,803.8 1194.5,799.1 1196.0,794.5 1198.6,790.1 1201.9,785.7 1205.7,781.4 1209.9,777.2 1214.7,773.2 1220.0,769.4 1225.8,765.8 1232.1,762.6 1238.9,759.6 1246.0,756.8 1253.6,754.2 1261.4,751.8 1269.4,749.5 1277.5,747.5 1285.8,745.5 1294.1,743.8 1302.7,742.4 1311.5,741.5 1320.5,740.9 1329.5,740.6 1338.6,740.4 1347.7,740.4 1356.6,740.4 1365.1,740.5 1373.7,740.6 1382.1,741.0 1390.6,741.6 1398.9,742.7 1407.1,744.0 1415.1,745.6 1422.9,747.4 1430.5,749.5 1438.0,751.7 1445.3,754.2 1452.3,756.8 1459.1,759.7 1465.3,762.8 1471.1,766.3 1476.6,769.9 1481.7,773.6 1486.5,777.5 1491.0,781.5 1495.0,785.6 1498.4,789.9 1500.9,794.4 1502.4,799.0 1503.2,803.7 1503.6,808.3 1503.8,813.1 1503.7,819.6 1502.5,826.7 1499.8,833.6 1495.2,839.7 1488.7,844.5 1481.4,848.1 1473.5,850.5 1465.6,852.1 1457.7,853.0 1449.9,853.6 1442.0,854.0 1434.0,854.6 1425.9,855.1 1417.7,855.7 1409.4,856.3 1401.0,856.9 1392.5,857.3 1384.1,857.7 1375.5,858.0 1367.0,858.2 1358.5,858.3 1349.6,858.3 1340.5,858.2 1331.5,858.0 1322.4,857.7 1313.4,857.3 1304.5,856.9 1295.6,856.3 1286.7,855.7 1278.0,855.0 1269.3,854.5 1260.7,854.2 1252.3,854.2 1244.0,854.0 1235.8,853.2 1227.6,851.1 1219.4,847.9 1211.4,844.2 1204.2,839.6 1198.8,833.7 1196.0,826.9 1194.7,819.7 1194.3,813.2Z" fill="#ffda00"/>
<path d="M1197.2,808.7 1197.2,804.3 1197.6,799.8 1199.1,795.4 1201.7,791.2 1204.9,787.1 1208.6,783.0 1212.8,779.0 1217.4,775.1 1222.6,771.5 1228.3,768.2 1234.5,765.0 1241.2,762.2 1248.2,759.5 1255.6,757.0 1263.2,754.8 1271.1,752.6 1279.1,750.7 1287.1,748.8 1295.3,747.2 1303.7,745.9 1312.4,745.0 1321.2,744.4 1330.0,744.1 1338.9,743.9 1347.8,743.9 1356.6,743.9 1364.9,744.0 1373.3,744.1 1381.5,744.4 1389.8,745.1 1398.0,746.1 1406.0,747.3 1413.8,748.9 1421.4,750.6 1428.9,752.6 1436.2,754.7 1443.3,757.0 1450.3,759.6 1456.8,762.3 1463.0,765.3 1468.7,768.5 1474.0,772.0 1479.0,775.5 1483.7,779.2 1488.1,783.0 1492.0,787.0 1495.3,791.1 1497.8,795.3 1499.3,799.7 1500.1,804.2 1500.5,808.6 1500.7,813.1 1500.6,819.5 1499.3,826.4 1496.7,833.0 1492.1,839.0 1485.7,843.7 1478.5,847.1 1470.9,849.5 1463.1,851.1 1455.4,852.0 1447.8,852.5 1440.1,853.0 1432.3,853.5 1424.4,854.1 1416.3,854.6 1408.2,855.2 1400.0,855.7 1391.7,856.2 1383.4,856.6 1375.1,856.9 1366.7,857.1 1358.4,857.2 1349.7,857.2 1340.8,857.1 1331.9,856.9 1323.1,856.6 1314.2,856.2 1305.5,855.8 1296.7,855.2 1288.1,854.6 1279.5,853.9 1271.0,853.4 1262.6,853.1 1254.4,853.1 1246.3,852.9 1238.2,852.1 1230.2,850.1 1222.2,847.0 1214.4,843.4 1207.3,838.9 1201.9,833.2 1199.1,826.6 1197.8,819.6 1197.4,813.2Z" fill="#fff000"/>
<path d="M1200.3,809.0 1200.3,804.8 1200.8,800.5 1202.2,796.4 1204.8,792.4 1207.9,788.4 1211.6,784.5 1215.6,780.7 1220.2,777.1 1225.3,773.7 1230.9,770.5 1236.9,767.5 1243.4,764.8 1250.3,762.3 1257.5,759.9 1265.0,757.7 1272.7,755.7 1280.6,753.8 1288.5,752.1 1296.5,750.5 1304.7,749.3 1313.2,748.4 1321.8,747.9 1330.5,747.6 1339.2,747.4 1347.9,747.4 1356.5,747.4 1364.7,747.5 1372.8,747.6 1381.0,747.9 1389.0,748.5 1397.0,749.5 1404.9,750.7 1412.5,752.1 1420.0,753.8 1427.3,755.6 1434.4,757.7 1441.4,759.9 1448.2,762.3 1454.6,764.9 1460.6,767.7 1466.2,770.8 1471.4,774.1 1476.3,777.5 1480.9,781.0 1485.2,784.6 1489.0,788.3 1492.3,792.2 1494.7,796.3 1496.2,800.4 1497.0,804.7 1497.3,808.9 1497.5,813.2 1497.4,819.3 1496.2,826.0 1493.6,832.5 1489.0,838.3 1482.8,842.9 1475.7,846.2 1468.3,848.5 1460.6,850.0 1453.1,850.9 1445.7,851.4 1438.2,851.9 1430.6,852.4 1422.9,853.0 1415.0,853.6 1407.0,854.1 1399.0,854.6 1390.9,855.1 1382.8,855.4 1374.6,855.7 1366.5,855.9 1358.3,856.0 1349.8,856.0 1341.1,855.9 1332.4,855.7 1323.7,855.5 1315.0,855.1 1306.4,854.7 1297.9,854.1 1289.4,853.5 1281.0,852.9 1272.7,852.3 1264.5,852.1 1256.5,852.0 1248.6,851.9 1240.7,851.1 1232.8,849.1 1225.0,846.1 1217.3,842.6 1210.3,838.2 1205.1,832.7 1202.2,826.3 1200.9,819.5 1200.5,813.3Z" fill="#f4ff00"/>
<path d="M1204.1,809.2 1204.1,805.1 1204.6,801.1 1206.0,797.1 1208.5,793.3 1211.5,789.5 1215.1,785.8 1219.1,782.1 1223.5,778.7 1228.5,775.4 1233.9,772.3 1239.8,769.5 1246.2,766.9 1252.9,764.4 1259.9,762.2 1267.2,760.1 1274.7,758.2 1282.4,756.4 1290.1,754.7 1297.9,753.2 1306.0,752.0 1314.2,751.2 1322.6,750.7 1331.1,750.4 1339.6,750.2 1348.1,750.2 1356.5,750.2 1364.5,750.3 1372.5,750.4 1380.4,750.7 1388.3,751.3 1396.1,752.2 1403.8,753.4 1411.3,754.7 1418.6,756.3 1425.7,758.1 1432.7,760.1 1439.6,762.2 1446.2,764.5 1452.5,767.0 1458.4,769.7 1463.9,772.6 1468.9,775.8 1473.8,779.0 1478.3,782.4 1482.5,785.8 1486.2,789.4 1489.4,793.1 1491.7,797.0 1493.2,801.0 1494.0,805.1 1494.4,809.1 1494.5,813.2 1494.4,819.2 1493.2,825.7 1490.6,832.0 1486.1,837.6 1480.0,842.0 1473.1,845.3 1465.8,847.5 1458.3,849.0 1451.0,849.8 1443.8,850.4 1436.4,850.8 1429.0,851.3 1421.4,851.9 1413.7,852.4 1405.9,853.0 1398.1,853.5 1390.2,853.9 1382.2,854.3 1374.2,854.5 1366.2,854.7 1358.2,854.8 1349.9,854.8 1341.4,854.7 1332.9,854.5 1324.4,854.3 1316.0,853.9 1307.6,853.5 1299.3,853.0 1291.0,852.4 1282.8,851.8 1274.7,851.2 1266.8,850.9 1258.9,850.9 1251.2,850.8 1243.6,850.0 1235.9,848.0 1228.3,845.1 1220.7,841.8 1213.9,837.5 1208.8,832.2 1206.0,825.9 1204.7,819.3 1204.3,813.3Z" fill="#d2ff00"/>
<path d="M1208.0,809.4 1208.0,805.5 1208.5,801.6 1209.9,797.8 1212.3,794.2 1215.3,790.5 1218.7,787.0 1222.6,783.5 1226.9,780.1 1231.8,777.0 1237.1,774.1 1242.8,771.4 1249.0,768.8 1255.5,766.5 1262.4,764.4 1269.5,762.4 1276.8,760.5 1284.3,758.8 1291.8,757.2 1299.4,755.8 1307.2,754.6 1315.3,753.8 1323.5,753.3 1331.7,753.0 1340.0,752.9 1348.2,752.9 1356.4,752.9 1364.3,753.0 1372.1,753.1 1379.8,753.4 1387.6,753.9 1395.2,754.8 1402.7,755.9 1410.1,757.2 1417.2,758.7 1424.2,760.5 1431.1,762.3 1437.8,764.4 1444.3,766.5 1450.4,768.9 1456.2,771.5 1461.5,774.4 1466.5,777.4 1471.2,780.5 1475.7,783.7 1479.7,787.0 1483.4,790.4 1486.5,794.0 1488.8,797.7 1490.3,801.6 1491.0,805.4 1491.4,809.3 1491.6,813.2 1491.5,819.0 1490.3,825.3 1487.6,831.5 1483.2,836.9 1477.2,841.2 1470.4,844.3 1463.3,846.5 1456.0,847.9 1448.9,848.8 1441.8,849.3 1434.7,849.7 1427.4,850.2 1420.0,850.7 1412.4,851.3 1404.8,851.8 1397.1,852.3 1389.4,852.7 1381.6,853.1 1373.8,853.3 1366.0,853.5 1358.1,853.6 1350.0,853.6 1341.7,853.5 1333.5,853.4 1325.2,853.1 1317.0,852.8 1308.8,852.3 1300.7,851.8 1292.7,851.2 1284.7,850.6 1276.8,850.1 1269.1,849.8 1261.5,849.8 1254.0,849.6 1246.6,848.9 1239.1,847.0 1231.6,844.2 1224.3,840.9 1217.7,836.8 1212.6,831.6 1209.8,825.6 1208.6,819.1 1208.1,813.3Z" fill="#b0ff00"/>
<path d="M1211.9,809.7 1211.9,805.9 1212.3,802.2 1213.7,798.6 1216.1,795.0 1219.0,791.6 1222.3,788.2 1226.1,784.8 1230.4,781.6 1235.0,778.6 1240.2,775.8 1245.8,773.2 1251.8,770.8 1258.2,768.6 1264.9,766.5 1271.8,764.6 1278.9,762.9 1286.1,761.2 1293.5,759.7 1300.9,758.3 1308.5,757.2 1316.3,756.5 1324.3,756.0 1332.3,755.7 1340.3,755.6 1348.4,755.5 1356.4,755.6 1364.0,755.6 1371.7,755.7 1379.3,756.0 1386.9,756.5 1394.4,757.4 1401.7,758.4 1408.9,759.7 1415.9,761.2 1422.7,762.8 1429.4,764.6 1436.0,766.5 1442.3,768.6 1448.4,770.9 1454.0,773.4 1459.2,776.1 1464.1,779.0 1468.7,782.0 1473.1,785.0 1477.0,788.2 1480.6,791.5 1483.6,794.9 1485.9,798.5 1487.3,802.1 1488.1,805.8 1488.5,809.5 1488.7,813.3 1488.5,818.9 1487.3,825.0 1484.7,830.9 1480.3,836.2 1474.4,840.3 1467.8,843.4 1460.8,845.5 1453.7,846.9 1446.8,847.7 1439.9,848.2 1432.9,848.6 1425.8,849.1 1418.5,849.6 1411.2,850.1 1403.7,850.7 1396.2,851.1 1388.6,851.6 1381.0,851.9 1373.4,852.2 1365.7,852.3 1358.0,852.4 1350.2,852.4 1342.1,852.3 1334.0,852.2 1326.0,851.9 1318.0,851.6 1310.0,851.2 1302.1,850.7 1294.3,850.1 1286.6,849.5 1278.9,849.0 1271.4,848.7 1264.0,848.7 1256.8,848.5 1249.6,847.8 1242.3,846.0 1235.0,843.2 1227.9,840.1 1221.4,836.1 1216.4,831.1 1213.7,825.2 1212.4,819.0 1212.0,813.4Z" fill="#8eff00"/>
<path d="M1215.8,809.9 1215.8,806.3 1216.2,802.7 1217.6,799.3 1219.9,795.9 1222.7,792.6 1226.0,789.3 1229.7,786.2 1233.8,783.1 1238.3,780.2 1243.4,777.6 1248.8,775.1 1254.6,772.8 1260.8,770.7 1267.3,768.7 1274.0,766.9 1281.0,765.2 1288.0,763.6 1295.1,762.2 1302.3,760.9 1309.7,759.8 1317.3,759.1 1325.1,758.6 1332.9,758.3 1340.7,758.2 1348.6,758.2 1356.3,758.2 1363.8,758.3 1371.3,758.4 1378.7,758.6 1386.1,759.2 1393.5,760.0 1400.7,761.0 1407.7,762.2 1414.5,763.6 1421.2,765.1 1427.8,766.8 1434.2,768.7 1440.4,770.7 1446.3,772.9 1451.8,775.3 1456.9,777.8 1461.7,780.6 1466.2,783.4 1470.4,786.3 1474.3,789.4 1477.8,792.5 1480.8,795.8 1483.0,799.2 1484.4,802.7 1485.1,806.2 1485.5,809.8 1485.7,813.3 1485.6,818.7 1484.3,824.7 1481.8,830.4 1477.5,835.5 1471.7,839.5 1465.2,842.4 1458.4,844.5 1451.5,845.8 1444.7,846.6 1437.9,847.1 1431.1,847.5 1424.2,848.0 1417.1,848.5 1409.9,849.0 1402.6,849.5 1395.3,850.0 1387.9,850.4 1380.4,850.7 1373.0,851.0 1365.5,851.1 1358.0,851.2 1350.3,851.2 1342.4,851.1 1334.6,851.0 1326.8,850.7 1319.0,850.4 1311.3,850.0 1303.6,849.5 1296.0,849.0 1288.4,848.4 1281.0,847.9 1273.7,847.6 1266.6,847.6 1259.5,847.4 1252.5,846.7 1245.5,844.9 1238.4,842.3 1231.5,839.2 1225.1,835.4 1220.3,830.5 1217.6,824.9 1216.3,818.8 1215.9,813.4Z" fill="#6cff00"/>
<path d="M1219.6,810.1 1219.7,806.7 1220.1,803.3 1221.4,800.0 1223.7,796.8 1226.4,793.6 1229.6,790.5 1233.2,787.5 1237.2,784.6 1241.6,781.9 1246.5,779.3 1251.8,777.0 1257.5,774.8 1263.5,772.8 1269.8,770.9 1276.3,769.2 1283.0,767.5 1289.9,766.0 1296.8,764.6 1303.8,763.4 1311.0,762.4 1318.4,761.7 1325.9,761.3 1333.5,761.0 1341.1,760.9 1348.7,760.9 1356.3,760.9 1363.6,760.9 1370.9,761.0 1378.2,761.3 1385.4,761.8 1392.6,762.5 1399.6,763.5 1406.5,764.7 1413.2,766.0 1419.7,767.5 1426.1,769.1 1432.4,770.9 1438.4,772.8 1444.2,774.9 1449.6,777.1 1454.6,779.6 1459.3,782.2 1463.7,784.9 1467.8,787.7 1471.6,790.6 1475.0,793.5 1477.9,796.7 1480.1,799.9 1481.5,803.2 1482.2,806.6 1482.6,810.0 1482.8,813.4 1482.6,818.6 1481.4,824.3 1478.9,829.9 1474.6,834.8 1468.9,838.7 1462.6,841.5 1455.9,843.5 1449.2,844.7 1442.5,845.5 1436.0,846.0 1429.3,846.4 1422.6,846.9 1415.7,847.4 1408.7,847.9 1401.5,848.4 1394.4,848.8 1387.1,849.2 1379.8,849.5 1372.5,849.8 1365.2,849.9 1357.9,850.0 1350.4,850.0 1342.7,849.9 1335.1,849.8 1327.5,849.5 1320.0,849.2 1312.5,848.8 1305.0,848.4 1297.6,847.8 1290.3,847.3 1283.1,846.8 1276.0,846.5 1269.1,846.5 1262.3,846.3 1255.5,845.6 1248.7,843.9 1241.8,841.4 1235.0,838.4 1228.9,834.7 1224.1,830.0 1221.4,824.5 1220.2,818.7 1219.8,813.4Z" fill="#4aff00"/>
<path d="M1223.5,810.3 1223.6,807.0 1224.0,803.8 1225.3,800.7 1227.4,797.7 1230.1,794.7 1233.2,791.7 1236.7,788.8 1240.6,786.1 1244.9,783.5 1249.6,781.1 1254.8,778.8 1260.3,776.8 1266.1,774.8 1272.2,773.1 1278.6,771.4 1285.1,769.9 1291.7,768.4 1298.5,767.1 1305.3,766.0 1312.2,765.0 1319.4,764.3 1326.8,763.9 1334.1,763.7 1341.5,763.5 1348.9,763.5 1356.2,763.6 1363.4,763.6 1370.5,763.7 1377.6,763.9 1384.7,764.4 1391.7,765.1 1398.6,766.0 1405.3,767.1 1411.8,768.4 1418.2,769.8 1424.5,771.4 1430.6,773.0 1436.5,774.8 1442.1,776.8 1447.4,779.0 1452.3,781.3 1456.8,783.8 1461.2,786.4 1465.2,789.0 1468.9,791.7 1472.2,794.6 1475.1,797.5 1477.2,800.6 1478.5,803.8 1479.3,807.0 1479.6,810.2 1479.8,813.4 1479.7,818.4 1478.5,824.0 1475.9,829.3 1471.8,834.1 1466.2,837.8 1460.0,840.5 1453.5,842.4 1446.9,843.7 1440.4,844.4 1434.0,844.9 1427.6,845.3 1421.0,845.8 1414.2,846.2 1407.4,846.7 1400.5,847.2 1393.4,847.6 1386.4,848.0 1379.3,848.3 1372.1,848.6 1365.0,848.7 1357.8,848.8 1350.5,848.8 1343.1,848.7 1335.7,848.6 1328.3,848.3 1321.0,848.0 1313.7,847.7 1306.4,847.2 1299.3,846.7 1292.2,846.2 1285.2,845.7 1278.3,845.4 1271.6,845.4 1265.0,845.2 1258.5,844.5 1251.8,842.9 1245.1,840.4 1238.6,837.6 1232.6,834.0 1227.9,829.5 1225.3,824.2 1224.1,818.5 1223.6,813.5Z" fill="#28ff00"/>
<path d="M1227.4,810.5 1227.4,807.4 1227.9,804.4 1229.1,801.4 1231.2,798.5 1233.9,795.7 1236.8,792.9 1240.2,790.2 1244.0,787.6 1248.2,785.1 1252.8,782.8 1257.8,780.7 1263.1,778.7 1268.8,776.9 1274.7,775.2 1280.8,773.7 1287.2,772.2 1293.6,770.9 1300.1,769.6 1306.7,768.5 1313.5,767.6 1320.5,767.0 1327.6,766.6 1334.7,766.3 1341.9,766.2 1349.0,766.2 1356.2,766.2 1363.2,766.3 1370.2,766.3 1377.1,766.6 1384.0,767.0 1390.8,767.7 1397.5,768.6 1404.1,769.6 1410.4,770.8 1416.7,772.1 1422.8,773.6 1428.8,775.2 1434.6,776.9 1440.1,778.8 1445.2,780.8 1450.0,783.0 1454.4,785.4 1458.6,787.8 1462.6,790.3 1466.2,792.9 1469.4,795.6 1472.2,798.4 1474.3,801.3 1475.6,804.3 1476.3,807.3 1476.7,810.4 1476.9,813.5 1476.7,818.3 1475.5,823.6 1473.0,828.8 1468.9,833.4 1463.5,837.0 1457.4,839.6 1451.1,841.4 1444.7,842.6 1438.4,843.4 1432.1,843.8 1425.8,844.2 1419.4,844.7 1412.8,845.1 1406.1,845.6 1399.4,846.1 1392.5,846.5 1385.6,846.8 1378.7,847.2 1371.7,847.4 1364.7,847.5 1357.7,847.6 1350.6,847.6 1343.4,847.5 1336.2,847.4 1329.1,847.2 1322.0,846.9 1314.9,846.5 1307.9,846.1 1300.9,845.6 1294.0,845.0 1287.2,844.6 1280.6,844.3 1274.1,844.3 1267.8,844.1 1261.4,843.4 1255.0,841.9 1248.5,839.5 1242.1,836.8 1236.3,833.3 1231.7,828.9 1229.2,823.8 1227.9,818.4 1227.5,813.5Z" fill="#06ff00"/>
<path d="M1231.9,810.7 1231.9,807.8 1232.4,804.9 1233.6,802.1 1235.6,799.4 1238.1,796.7 1241.0,794.0 1244.3,791.5 1247.9,789.0 1252.0,786.7 1256.4,784.5 1261.2,782.5 1266.3,780.6 1271.8,778.9 1277.5,777.3 1283.4,775.8 1289.6,774.4 1295.8,773.2 1302.1,772.0 1308.4,770.9 1315.0,770.1 1321.7,769.5 1328.5,769.1 1335.4,768.9 1342.3,768.8 1349.2,768.7 1356.1,768.8 1362.9,768.8 1369.7,768.9 1376.4,769.1 1383.1,769.5 1389.8,770.2 1396.3,771.0 1402.6,772.0 1408.8,773.1 1414.9,774.4 1420.9,775.8 1426.7,777.3 1432.3,778.9 1437.6,780.7 1442.6,782.6 1447.2,784.7 1451.6,786.9 1455.7,789.2 1459.5,791.6 1463.0,794.1 1466.2,796.6 1468.9,799.3 1470.9,802.0 1472.1,804.8 1472.9,807.7 1473.2,810.6 1473.4,813.5 1473.2,818.2 1472.0,823.3 1469.6,828.3 1465.6,832.7 1460.3,836.2 1454.4,838.7 1448.2,840.5 1442.0,841.6 1435.9,842.3 1429.8,842.7 1423.7,843.1 1417.5,843.6 1411.1,844.0 1404.6,844.5 1398.1,844.9 1391.4,845.3 1384.7,845.7 1378.0,846.0 1371.2,846.2 1364.4,846.4 1357.6,846.4 1350.7,846.4 1343.8,846.4 1336.9,846.2 1330.0,846.0 1323.1,845.7 1316.3,845.4 1309.5,844.9 1302.8,844.4 1296.2,843.9 1289.6,843.5 1283.3,843.2 1277.0,843.2 1270.9,843.0 1264.8,842.4 1258.6,840.8 1252.3,838.6 1246.2,835.9 1240.5,832.6 1236.1,828.4 1233.6,823.5 1232.4,818.2 1232.0,813.6Z" fill="#00f500"/>
<path d="M1237.6,810.9 1237.6,808.1 1238.1,805.4 1239.2,802.7 1241.1,800.1 1243.6,797.6 1246.3,795.1 1249.4,792.6 1252.9,790.3 1256.7,788.1 1261.0,786.0 1265.5,784.1 1270.5,782.4 1275.7,780.7 1281.1,779.2 1286.8,777.8 1292.6,776.5 1298.5,775.3 1304.5,774.1 1310.6,773.1 1316.8,772.3 1323.2,771.8 1329.7,771.4 1336.3,771.2 1342.9,771.1 1349.5,771.1 1356.1,771.1 1362.6,771.1 1369.1,771.2 1375.6,771.4 1382.0,771.8 1388.4,772.4 1394.7,773.2 1400.8,774.2 1406.7,775.2 1412.6,776.4 1418.3,777.7 1423.9,779.2 1429.3,780.7 1434.4,782.4 1439.2,784.2 1443.7,786.2 1447.8,788.3 1451.8,790.5 1455.5,792.8 1458.8,795.1 1461.9,797.5 1464.5,800.0 1466.4,802.6 1467.6,805.3 1468.3,808.0 1468.7,810.8 1468.8,813.5 1468.7,818.0 1467.5,823.0 1465.1,827.8 1461.2,832.0 1456.1,835.4 1450.4,837.8 1444.5,839.5 1438.5,840.6 1432.7,841.3 1426.9,841.7 1421.0,842.1 1415.1,842.5 1408.9,843.0 1402.7,843.4 1396.4,843.8 1390.0,844.2 1383.6,844.6 1377.1,844.9 1370.6,845.1 1364.0,845.2 1357.5,845.3 1350.9,845.3 1344.3,845.2 1337.7,845.1 1331.1,844.9 1324.6,844.6 1318.1,844.3 1311.6,843.9 1305.2,843.4 1298.9,842.9 1292.7,842.5 1286.6,842.2 1280.7,842.1 1274.9,842.0 1269.1,841.4 1263.1,839.9 1257.2,837.7 1251.3,835.2 1245.9,831.9 1241.7,827.9 1239.2,823.2 1238.1,818.1 1237.7,813.6Z" fill="#00e800"/>
<path d="M1243.3,811.0 1243.3,808.4 1243.7,805.8 1244.8,803.3 1246.7,800.9 1249.0,798.5 1251.6,796.1 1254.5,793.8 1257.9,791.6 1261.5,789.5 1265.5,787.5 1269.9,785.7 1274.6,784.1 1279.5,782.5 1284.7,781.1 1290.1,779.8 1295.6,778.5 1301.2,777.4 1306.9,776.3 1312.7,775.4 1318.6,774.6 1324.7,774.1 1330.9,773.7 1337.2,773.5 1343.4,773.4 1349.7,773.4 1356.0,773.4 1362.3,773.4 1368.5,773.5 1374.8,773.7 1380.9,774.1 1387.1,774.7 1393.1,775.4 1398.9,776.3 1404.7,777.3 1410.3,778.5 1415.7,779.7 1421.1,781.1 1426.3,782.5 1431.2,784.1 1435.8,785.8 1440.1,787.7 1444.1,789.7 1447.9,791.8 1451.4,793.9 1454.7,796.1 1457.6,798.4 1460.1,800.8 1461.9,803.3 1463.1,805.8 1463.8,808.4 1464.1,811.0 1464.3,813.6 1464.1,817.9 1463.0,822.7 1460.6,827.3 1456.9,831.4 1451.9,834.6 1446.5,836.9 1440.8,838.6 1435.1,839.6 1429.5,840.3 1424.0,840.7 1418.3,841.1 1412.6,841.5 1406.7,841.9 1400.8,842.4 1394.7,842.8 1388.6,843.2 1382.4,843.5 1376.2,843.8 1369.9,844.0 1363.6,844.1 1357.4,844.2 1351.1,844.2 1344.8,844.1 1338.5,844.0 1332.2,843.8 1326.0,843.5 1319.8,843.2 1313.7,842.8 1307.6,842.3 1301.6,841.8 1295.7,841.4 1289.9,841.2 1284.3,841.1 1278.8,840.9 1273.3,840.3 1267.7,838.9 1262.0,836.8 1256.4,834.4 1251.3,831.3 1247.2,827.4 1244.9,822.8 1243.7,818.0 1243.4,813.6Z" fill="#00dc00"/>
<path d="M1249.0,811.2 1249.0,808.8 1249.4,806.3 1250.5,804.0 1252.2,801.7 1254.4,799.4 1256.9,797.1 1259.7,795.0 1262.8,792.9 1266.3,790.9 1270.1,789.1 1274.2,787.4 1278.7,785.8 1283.3,784.3 1288.3,783.0 1293.4,781.7 1298.6,780.6 1304.0,779.5 1309.4,778.5 1314.8,777.6 1320.5,776.9 1326.2,776.4 1332.1,776.0 1338.0,775.8 1344.0,775.7 1349.9,775.7 1355.9,775.7 1361.9,775.8 1367.9,775.8 1373.9,776.0 1379.8,776.4 1385.7,776.9 1391.5,777.6 1397.1,778.5 1402.6,779.4 1407.9,780.5 1413.2,781.7 1418.3,782.9 1423.3,784.3 1428.0,785.8 1432.4,787.5 1436.5,789.2 1440.4,791.1 1444.0,793.1 1447.4,795.1 1450.5,797.1 1453.3,799.3 1455.7,801.6 1457.5,803.9 1458.6,806.3 1459.2,808.7 1459.6,811.1 1459.7,813.6 1459.6,817.7 1458.4,822.3 1456.2,826.8 1452.5,830.7 1447.8,833.8 1442.6,836.0 1437.1,837.6 1431.7,838.7 1426.3,839.3 1421.0,839.7 1415.7,840.1 1410.2,840.5 1404.6,840.9 1398.8,841.3 1393.0,841.7 1387.2,842.1 1381.2,842.4 1375.3,842.7 1369.3,842.9 1363.3,843.0 1357.2,843.1 1351.2,843.1 1345.3,843.0 1339.3,842.9 1333.4,842.7 1327.5,842.4 1321.6,842.1 1315.8,841.7 1310.0,841.3 1304.3,840.8 1298.7,840.4 1293.3,840.2 1288.0,840.1 1282.8,839.9 1277.5,839.3 1272.2,838.0 1266.8,836.0 1261.5,833.6 1256.6,830.6 1252.8,826.9 1250.5,822.5 1249.4,817.8 1249.0,813.7Z" fill="#00cf00"/>
<path d="M1254.6,811.4 1254.7,809.1 1255.1,806.8 1256.1,804.6 1257.7,802.4 1259.8,800.3 1262.1,798.2 1264.8,796.1 1267.8,794.2 1271.1,792.3 1274.7,790.6 1278.6,789.0 1282.8,787.5 1287.2,786.1 1291.8,784.9 1296.7,783.7 1301.6,782.6 1306.7,781.6 1311.8,780.6 1317.0,779.8 1322.3,779.1 1327.8,778.6 1333.3,778.3 1338.9,778.1 1344.5,778.0 1350.2,778.0 1355.9,778.0 1361.6,778.1 1367.4,778.2 1373.1,778.3 1378.7,778.7 1384.3,779.2 1389.8,779.8 1395.2,780.6 1400.5,781.5 1405.6,782.5 1410.6,783.6 1415.6,784.8 1420.3,786.1 1424.8,787.5 1429.1,789.1 1433.0,790.7 1436.6,792.5 1440.1,794.3 1443.4,796.2 1446.3,798.2 1449.0,800.2 1451.3,802.3 1453.0,804.5 1454.1,806.8 1454.7,809.0 1455.0,811.3 1455.2,813.6 1455.0,817.6 1453.9,822.0 1451.7,826.3 1448.2,830.0 1443.7,833.0 1438.7,835.2 1433.5,836.7 1428.2,837.7 1423.1,838.3 1418.1,838.7 1413.0,839.0 1407.7,839.4 1402.4,839.8 1396.9,840.2 1391.3,840.6 1385.7,841.0 1380.1,841.3 1374.4,841.6 1368.6,841.7 1362.9,841.9 1357.1,841.9 1351.4,841.9 1345.7,841.9 1340.1,841.8 1334.5,841.6 1328.9,841.3 1323.4,841.0 1317.9,840.6 1312.4,840.2 1307.0,839.8 1301.8,839.4 1296.6,839.1 1291.6,839.0 1286.7,838.9 1281.8,838.3 1276.8,837.0 1271.6,835.1 1266.6,832.8 1262.0,830.0 1258.3,826.4 1256.1,822.2 1255.0,817.7 1254.7,813.7Z" fill="#00c100"/>
<path d="M1261.3,811.6 1261.3,809.4 1261.7,807.3 1262.7,805.2 1264.2,803.1 1266.1,801.1 1268.3,799.2 1270.8,797.2 1273.6,795.4 1276.6,793.7 1280.0,792.0 1283.7,790.5 1287.6,789.2 1291.7,787.9 1296.0,786.7 1300.5,785.6 1305.1,784.5 1309.9,783.6 1314.6,782.7 1319.5,781.9 1324.4,781.3 1329.5,780.8 1334.7,780.5 1339.9,780.3 1345.2,780.3 1350.4,780.2 1355.7,780.2 1361.1,780.3 1366.5,780.4 1371.8,780.5 1377.1,780.9 1382.4,781.3 1387.5,782.0 1392.5,782.7 1397.4,783.5 1402.2,784.5 1406.9,785.5 1411.5,786.6 1416.0,787.9 1420.2,789.2 1424.1,790.6 1427.8,792.2 1431.2,793.8 1434.5,795.6 1437.5,797.3 1440.3,799.2 1442.8,801.1 1444.9,803.0 1446.5,805.1 1447.5,807.2 1448.1,809.4 1448.4,811.5 1448.5,813.7 1448.4,817.4 1447.3,821.6 1445.2,825.7 1441.9,829.3 1437.7,832.1 1433.0,834.1 1428.2,835.6 1423.3,836.5 1418.5,837.1 1413.8,837.5 1409.1,837.8 1404.2,838.2 1399.2,838.6 1394.1,839.0 1388.9,839.3 1383.7,839.7 1378.4,840.0 1373.0,840.2 1367.7,840.4 1362.3,840.6 1356.9,840.6 1351.6,840.6 1346.3,840.6 1341.1,840.4 1335.8,840.2 1330.6,840.0 1325.4,839.7 1320.3,839.4 1315.2,838.9 1310.2,838.5 1305.3,838.2 1300.5,837.9 1295.9,837.8 1291.3,837.7 1286.7,837.1 1282.0,835.9 1277.3,834.1 1272.6,831.9 1268.2,829.2 1264.8,825.8 1262.7,821.8 1261.7,817.5 1261.3,813.7Z" fill="#00b100"/>
<path d="M1268.0,811.7 1268.1,809.7 1268.4,807.7 1269.3,805.8 1270.7,803.9 1272.5,802.0 1274.6,800.1 1276.9,798.3 1279.5,796.6 1282.3,795.0 1285.4,793.5 1288.8,792.1 1292.4,790.8 1296.2,789.6 1300.3,788.5 1304.4,787.4 1308.7,786.5 1313.1,785.6 1317.5,784.7 1322.0,784.0 1326.6,783.4 1331.3,783.0 1336.1,782.7 1341.0,782.5 1345.8,782.5 1350.7,782.4 1355.6,782.4 1360.6,782.5 1365.6,782.6 1370.5,782.7 1375.5,783.0 1380.3,783.5 1385.1,784.0 1389.8,784.7 1394.3,785.5 1398.8,786.4 1403.1,787.4 1407.4,788.4 1411.5,789.6 1415.4,790.8 1419.1,792.1 1422.5,793.6 1425.6,795.2 1428.6,796.8 1431.5,798.4 1434.0,800.1 1436.3,801.9 1438.3,803.8 1439.8,805.7 1440.7,807.7 1441.3,809.7 1441.6,811.7 1441.7,813.7 1441.6,817.3 1440.6,821.3 1438.6,825.1 1435.5,828.5 1431.5,831.1 1427.2,833.1 1422.7,834.5 1418.2,835.4 1413.8,835.9 1409.5,836.3 1405.1,836.6 1400.5,837.0 1395.9,837.3 1391.2,837.7 1386.4,838.1 1381.5,838.4 1376.6,838.7 1371.7,838.9 1366.7,839.1 1361.7,839.2 1356.7,839.3 1351.8,839.3 1346.9,839.2 1342.0,839.1 1337.2,838.9 1332.3,838.7 1327.5,838.4 1322.8,838.1 1318.1,837.7 1313.4,837.3 1308.9,836.9 1304.4,836.7 1300.2,836.6 1295.9,836.4 1291.7,835.9 1287.4,834.8 1282.9,833.0 1278.6,831.0 1274.5,828.4 1271.3,825.2 1269.4,821.4 1268.4,817.3 1268.1,813.8Z" fill="#00a100"/>
<path d="M1274.8,811.9 1274.8,810.0 1275.2,808.2 1276.0,806.3 1277.3,804.6 1278.9,802.8 1280.8,801.1 1282.9,799.4 1285.3,797.8 1287.9,796.3 1290.8,794.9 1293.9,793.6 1297.3,792.4 1300.8,791.3 1304.5,790.3 1308.3,789.3 1312.3,788.4 1316.3,787.6 1320.4,786.8 1324.5,786.1 1328.8,785.6 1333.1,785.2 1337.6,784.9 1342.0,784.7 1346.5,784.7 1351.0,784.6 1355.5,784.6 1360.1,784.7 1364.7,784.7 1369.3,784.9 1373.8,785.2 1378.3,785.6 1382.7,786.1 1387.0,786.8 1391.2,787.5 1395.3,788.3 1399.3,789.2 1403.2,790.2 1407.0,791.3 1410.6,792.4 1414.0,793.7 1417.1,795.0 1420.1,796.5 1422.8,798.0 1425.4,799.5 1427.8,801.1 1429.9,802.8 1431.7,804.5 1433.1,806.3 1434.0,808.1 1434.5,810.0 1434.8,811.9 1434.9,813.7 1434.7,817.1 1433.8,820.9 1432.0,824.5 1429.1,827.7 1425.4,830.2 1421.4,832.1 1417.3,833.3 1413.1,834.2 1409.1,834.7 1405.1,835.1 1401.0,835.4 1396.9,835.7 1392.6,836.1 1388.3,836.4 1383.9,836.8 1379.4,837.1 1374.9,837.4 1370.3,837.6 1365.7,837.7 1361.1,837.9 1356.5,837.9 1352.0,837.9 1347.5,837.9 1343.0,837.7 1338.5,837.6 1334.0,837.4 1329.6,837.1 1325.2,836.8 1320.9,836.4 1316.6,836.0 1312.4,835.7 1308.4,835.5 1304.4,835.4 1300.6,835.2 1296.7,834.7 1292.7,833.6 1288.6,832.0 1284.6,830.1 1280.8,827.7 1277.8,824.6 1276.0,821.0 1275.1,817.2 1274.8,813.8Z" fill="#009000"/>
<path d="M1281.5,812.1 1281.6,810.3 1281.9,808.6 1282.6,806.9 1283.8,805.3 1285.3,803.7 1287.1,802.1 1289.0,800.5 1291.2,799.1 1293.6,797.7 1296.2,796.4 1299.1,795.2 1302.1,794.0 1305.3,793.0 1308.7,792.0 1312.2,791.1 1315.9,790.3 1319.5,789.5 1323.3,788.8 1327.1,788.2 1330.9,787.7 1334.9,787.3 1339.0,787.1 1343.1,786.9 1347.2,786.9 1351.3,786.8 1355.4,786.8 1359.6,786.9 1363.8,786.9 1368.0,787.1 1372.1,787.3 1376.2,787.7 1380.3,788.2 1384.2,788.8 1388.0,789.5 1391.8,790.3 1395.5,791.1 1399.1,792.0 1402.5,793.0 1405.8,794.0 1408.9,795.2 1411.8,796.5 1414.5,797.8 1417.0,799.2 1419.4,800.6 1421.6,802.1 1423.5,803.6 1425.2,805.2 1426.4,806.9 1427.2,808.6 1427.7,810.3 1427.9,812.0 1428.1,813.8 1427.9,816.9 1427.0,820.5 1425.3,823.9 1422.7,826.9 1419.3,829.3 1415.6,831.0 1411.9,832.2 1408.1,833.0 1404.4,833.5 1400.7,833.9 1397.1,834.2 1393.3,834.5 1389.4,834.8 1385.4,835.2 1381.4,835.5 1377.3,835.8 1373.1,836.0 1369.0,836.2 1364.8,836.4 1360.6,836.5 1356.3,836.6 1352.2,836.6 1348.0,836.5 1343.9,836.4 1339.8,836.3 1335.8,836.0 1331.7,835.8 1327.7,835.5 1323.7,835.1 1319.8,834.8 1316.0,834.4 1312.3,834.2 1308.7,834.1 1305.2,834.0 1301.6,833.5 1298.0,832.5 1294.2,830.9 1290.5,829.1 1287.1,826.9 1284.4,824.0 1282.7,820.6 1281.8,817.0 1281.5,813.8Z" fill="#008000"/>
<path d="M1287.4,812.3 1287.4,810.7 1287.7,809.1 1288.4,807.5 1289.5,806.0 1290.9,804.5 1292.5,803.1 1294.3,801.7 1296.3,800.3 1298.5,799.0 1300.9,797.8 1303.5,796.7 1306.3,795.7 1309.3,794.7 1312.4,793.9 1315.6,793.0 1319.0,792.3 1322.4,791.6 1325.8,790.9 1329.3,790.3 1332.8,789.9 1336.5,789.5 1340.2,789.3 1344.0,789.2 1347.7,789.1 1351.5,789.1 1355.3,789.1 1359.2,789.1 1363.0,789.2 1366.8,789.3 1370.6,789.5 1374.4,789.9 1378.1,790.4 1381.7,790.9 1385.2,791.5 1388.6,792.2 1392.0,793.0 1395.3,793.8 1398.5,794.7 1401.5,795.7 1404.3,796.8 1406.9,797.9 1409.4,799.1 1411.7,800.4 1413.9,801.7 1415.9,803.1 1417.7,804.5 1419.2,806.0 1420.3,807.5 1421.1,809.0 1421.5,810.6 1421.7,812.2 1421.9,813.8 1421.7,816.7 1420.9,820.1 1419.3,823.2 1416.9,826.0 1413.7,828.2 1410.4,829.8 1406.9,830.9 1403.5,831.7 1400.1,832.2 1396.8,832.5 1393.4,832.7 1390.0,833.0 1386.4,833.4 1382.8,833.7 1379.1,834.0 1375.3,834.3 1371.5,834.5 1367.7,834.7 1363.9,834.8 1360.0,834.9 1356.2,835.0 1352.3,835.0 1348.6,834.9 1344.8,834.8 1341.0,834.7 1337.3,834.5 1333.5,834.3 1329.9,834.0 1326.2,833.7 1322.6,833.3 1319.1,833.0 1315.7,832.8 1312.4,832.7 1309.2,832.6 1306.0,832.1 1302.6,831.2 1299.1,829.8 1295.8,828.1 1292.6,826.0 1290.0,823.3 1288.5,820.2 1287.6,816.8 1287.4,813.8Z" fill="#007c19"/>
<path d="M1292.4,812.4 1292.4,811.0 1292.7,809.5 1293.3,808.1 1294.4,806.8 1295.7,805.4 1297.1,804.1 1298.8,802.8 1300.6,801.6 1302.7,800.4 1304.9,799.3 1307.3,798.3 1309.9,797.4 1312.7,796.5 1315.5,795.7 1318.5,795.0 1321.6,794.3 1324.7,793.6 1327.9,793.0 1331.1,792.5 1334.4,792.1 1337.8,791.8 1341.3,791.6 1344.7,791.4 1348.2,791.4 1351.7,791.4 1355.2,791.4 1358.8,791.4 1362.3,791.4 1365.8,791.6 1369.3,791.8 1372.7,792.1 1376.1,792.5 1379.4,793.0 1382.6,793.6 1385.8,794.2 1388.9,794.9 1391.9,795.7 1394.8,796.5 1397.6,797.4 1400.2,798.4 1402.6,799.4 1404.8,800.5 1407.0,801.7 1408.9,802.9 1410.8,804.1 1412.4,805.4 1413.8,806.7 1414.9,808.1 1415.5,809.5 1415.9,810.9 1416.2,812.4 1416.3,813.8 1416.1,816.5 1415.4,819.5 1413.9,822.4 1411.6,825.0 1408.8,827.0 1405.7,828.4 1402.5,829.5 1399.3,830.2 1396.3,830.6 1393.2,830.9 1390.2,831.1 1387.0,831.4 1383.7,831.7 1380.4,832.0 1377.0,832.3 1373.6,832.5 1370.1,832.7 1366.6,832.9 1363.1,833.1 1359.6,833.2 1356.0,833.2 1352.5,833.2 1349.0,833.2 1345.5,833.1 1342.0,832.9 1338.5,832.8 1335.1,832.5 1331.7,832.3 1328.3,832.0 1325.0,831.7 1321.8,831.4 1318.6,831.2 1315.6,831.1 1312.6,831.0 1309.6,830.6 1306.5,829.7 1303.3,828.4 1300.2,826.9 1297.2,824.9 1294.9,822.5 1293.4,819.7 1292.6,816.6 1292.4,813.9Z" fill="#007832"/>
<path d="M1297.4,812.6 1297.4,811.3 1297.7,810.0 1298.3,808.7 1299.2,807.5 1300.4,806.3 1301.7,805.1 1303.3,803.9 1305.0,802.8 1306.9,801.8 1308.9,800.8 1311.1,799.9 1313.5,799.1 1316.0,798.3 1318.7,797.6 1321.4,796.9 1324.2,796.3 1327.1,795.7 1330.1,795.2 1333.0,794.7 1336.0,794.3 1339.1,794.0 1342.3,793.8 1345.5,793.7 1348.7,793.7 1351.9,793.6 1355.2,793.6 1358.4,793.7 1361.6,793.7 1364.8,793.8 1367.9,794.0 1371.1,794.3 1374.1,794.7 1377.1,795.1 1380.1,795.6 1382.9,796.2 1385.7,796.8 1388.5,797.5 1391.1,798.3 1393.6,799.1 1396.0,799.9 1398.2,800.9 1400.3,801.9 1402.2,802.9 1404.0,804.0 1405.7,805.1 1407.1,806.3 1408.4,807.5 1409.4,808.7 1410.0,810.0 1410.4,811.3 1410.6,812.6 1410.7,813.9 1410.5,816.3 1409.8,819.0 1408.5,821.7 1406.4,823.9 1403.8,825.8 1401.0,827.1 1398.1,828.0 1395.2,828.6 1392.4,829.0 1389.7,829.3 1386.9,829.5 1384.0,829.8 1381.1,830.0 1378.0,830.3 1375.0,830.6 1371.8,830.8 1368.7,831.0 1365.5,831.2 1362.3,831.3 1359.1,831.4 1355.9,831.4 1352.6,831.4 1349.4,831.4 1346.2,831.3 1343.0,831.2 1339.8,831.0 1336.6,830.8 1333.5,830.6 1330.4,830.3 1327.4,830.0 1324.4,829.7 1321.5,829.6 1318.7,829.5 1316.0,829.4 1313.3,829.0 1310.4,828.2 1307.5,827.0 1304.6,825.7 1301.9,823.9 1299.7,821.7 1298.3,819.1 1297.6,816.4 1297.4,813.9Z" fill="#00744b"/>
<path d="M1302.3,812.8 1302.4,811.6 1302.6,810.5 1303.2,809.3 1304.1,808.3 1305.1,807.2 1306.4,806.1 1307.8,805.1 1309.3,804.1 1311.0,803.2 1312.9,802.3 1314.9,801.5 1317.1,800.8 1319.4,800.1 1321.8,799.4 1324.3,798.8 1326.9,798.3 1329.5,797.7 1332.2,797.3 1334.9,796.8 1337.6,796.5 1340.5,796.3 1343.4,796.1 1346.3,796.0 1349.2,795.9 1352.1,795.9 1355.1,795.9 1358.0,795.9 1360.9,796.0 1363.7,796.1 1366.6,796.3 1369.4,796.5 1372.2,796.9 1374.9,797.3 1377.5,797.7 1380.1,798.2 1382.6,798.8 1385.1,799.4 1387.5,800.0 1389.7,800.7 1391.9,801.5 1393.8,802.4 1395.7,803.2 1397.4,804.2 1399.1,805.1 1400.5,806.1 1401.9,807.1 1403.0,808.2 1403.9,809.3 1404.5,810.4 1404.8,811.6 1405.0,812.8 1405.1,813.9 1405.0,816.1 1404.3,818.5 1403.0,820.9 1401.2,822.9 1398.8,824.5 1396.3,825.7 1393.7,826.5 1391.1,827.1 1388.6,827.5 1386.1,827.7 1383.6,827.9 1381.0,828.1 1378.4,828.4 1375.7,828.6 1372.9,828.8 1370.1,829.0 1367.2,829.2 1364.4,829.4 1361.5,829.5 1358.6,829.6 1355.7,829.6 1352.8,829.6 1349.8,829.6 1346.9,829.5 1344.0,829.4 1341.1,829.2 1338.2,829.1 1335.3,828.8 1332.5,828.6 1329.7,828.3 1327.0,828.1 1324.4,828.0 1321.9,827.9 1319.4,827.8 1316.9,827.4 1314.3,826.7 1311.6,825.7 1309.0,824.4 1306.5,822.9 1304.5,820.9 1303.2,818.6 1302.6,816.1 1302.4,813.9Z" fill="#007064"/>
<path d="M1310.6,813.0 1310.6,812.1 1310.8,811.1 1311.3,810.2 1312.0,809.3 1312.9,808.5 1314.0,807.6 1315.1,806.8 1316.5,805.9 1317.9,805.2 1319.5,804.5 1321.2,803.8 1323.0,803.2 1324.9,802.6 1327.0,802.1 1329.1,801.6 1331.2,801.2 1333.4,800.8 1335.7,800.4 1338.0,800.0 1340.3,799.7 1342.7,799.5 1345.1,799.4 1347.6,799.3 1350.0,799.3 1352.5,799.3 1354.9,799.3 1357.3,799.3 1359.7,799.3 1362.1,799.4 1364.5,799.5 1366.8,799.8 1369.1,800.0 1371.4,800.3 1373.5,800.7 1375.7,801.1 1377.8,801.6 1379.8,802.1 1381.8,802.6 1383.7,803.2 1385.5,803.8 1387.1,804.5 1388.6,805.3 1390.1,806.0 1391.4,806.8 1392.7,807.6 1393.8,808.4 1394.7,809.3 1395.4,810.2 1395.9,811.1 1396.2,812.1 1396.3,813.0 1396.4,814.0 1396.3,815.8 1395.8,817.8 1394.7,819.7 1393.1,821.4 1391.2,822.7 1389.1,823.7 1386.9,824.4 1384.8,824.8 1382.7,825.1 1380.7,825.3 1378.6,825.5 1376.5,825.7 1374.3,825.9 1372.0,826.1 1369.7,826.3 1367.4,826.4 1365.0,826.6 1362.7,826.7 1360.3,826.8 1357.9,826.9 1355.5,826.9 1353.0,826.9 1350.5,826.9 1348.1,826.8 1345.6,826.7 1343.2,826.6 1340.7,826.4 1338.3,826.3 1336.0,826.1 1333.6,825.9 1331.4,825.7 1329.2,825.5 1327.1,825.5 1325.0,825.4 1322.9,825.1 1320.7,824.5 1318.5,823.6 1316.2,822.6 1314.1,821.4 1312.4,819.7 1311.3,817.8 1310.8,815.8 1310.6,814.0Z" fill="#006a83"/>
</g>
<rect x="1294.3" y="634.1" width="6.5" height="6.5" fill="#ff08c0" opacity="0.55"/>
<rect x="1300.8" y="634.1" width="13.0" height="6.5" fill="#ff0080" opacity="0.34"/>
<rect x="1320.3" y="634.1" width="13.0" height="6.5" fill="#ff00a0" opacity="0.60"/>
<rect x="1326.8" y="634.1" width="6.5" height="13.0" fill="#ff00a0" opacity="0.51"/>
<rect x="1346.3" y="634.1" width="6.5" height="13.0" fill="#ff9000" opacity="0.44"/>
<rect x="1365.8" y="634.1" width="6.5" height="6.5" fill="#ff7000" opacity="0.49"/>
<rect x="1372.3" y="634.1" width="6.5" height="6.5" fill="#ffa800" opacity="0.27"/>
<rect x="1378.8" y="634.1" width="13.0" height="6.5" fill="#ff5800" opacity="0.45"/>
<rect x="1391.8" y="634.1" width="6.5" height="6.5" fill="#ffa800" opacity="0.57"/>
<rect x="1287.8" y="640.6" width="6.5" height="13.0" fill="#ff9000" opacity="0.40"/>
<rect x="1294.3" y="640.6" width="6.5" height="6.5" fill="#ff00a0" opacity="0.17"/>
<rect x="1300.8" y="640.6" width="6.5" height="6.5" fill="#ff08c0" opacity="0.43"/>
<rect x="1307.3" y="640.6" width="6.5" height="13.0" fill="#ff0080" opacity="0.21"/>
<rect x="1313.8" y="640.6" width="13.0" height="6.5" fill="#ff08c0" opacity="0.43"/>
<rect x="1320.3" y="640.6" width="6.5" height="13.0" fill="#ff0068" opacity="0.30"/>
<rect x="1326.8" y="640.6" width="6.5" height="13.0" fill="#ff9000" opacity="0.19"/>
<rect x="1346.3" y="640.6" width="13.0" height="6.5" fill="#ff7000" opacity="0.67"/>
<rect x="1352.8" y="640.6" width="6.5" height="6.5" fill="#ff7000" opacity="0.56"/>
<rect x="1359.3" y="640.6" width="6.5" height="13.0" fill="#ff5800" opacity="0.59"/>
<rect x="1365.8" y="640.6" width="6.5" height="6.5" fill="#ffa800" opacity="0.49"/>
<rect x="1385.3" y="640.6" width="6.5" height="13.0" fill="#ff5800" opacity="0.47"/>
<rect x="1398.3" y="640.6" width="6.5" height="6.5" fill="#ff5800" opacity="0.27"/>
<rect x="1417.8" y="640.6" width="6.5" height="13.0" fill="#ff0080" opacity="0.31"/>
<rect x="1255.3" y="647.1" width="6.5" height="6.5" fill="#ff5800" opacity="0.45"/>
<rect x="1261.8" y="647.1" width="6.5" height="6.5" fill="#ff5800" opacity="0.31"/>
<rect x="1268.3" y="647.1" width="6.5" height="13.0" fill="#ff00a0" opacity="0.53"/>
<rect x="1313.8" y="647.1" width="6.5" height="6.5" fill="#ff08c0" opacity="0.57"/>
<rect x="1320.3" y="647.1" width="6.5" height="6.5" fill="#ff5800" opacity="0.45"/>
<rect x="1326.8" y="647.1" width="6.5" height="6.5" fill="#ff9000" opacity="0.59"/>
<rect x="1333.3" y="647.1" width="6.5" height="6.5" fill="#ff5800" opacity="0.33"/>
<rect x="1339.8" y="647.1" width="6.5" height="13.0" fill="#ff5800" opacity="0.51"/>
<rect x="1346.3" y="647.1" width="6.5" height="6.5" fill="#ff9000" opacity="0.64"/>
<rect x="1352.8" y="647.1" width="6.5" height="6.5" fill="#ff9000" opacity="0.71"/>
<rect x="1378.8" y="647.1" width="6.5" height="13.0" fill="#ff0080" opacity="0.14"/>
<rect x="1391.8" y="647.1" width="13.0" height="6.5" fill="#ffa800" opacity="0.14"/>
<rect x="1398.3" y="647.1" width="13.0" height="6.5" fill="#ff9000" opacity="0.65"/>
<rect x="1411.3" y="647.1" width="13.0" height="6.5" fill="#ff5800" opacity="0.50"/>
<rect x="1242.3" y="653.6" width="6.5" height="6.5" fill="#ff0080" opacity="0.39"/>
<rect x="1248.8" y="653.6" width="6.5" height="13.0" fill="#ff08c0" opacity="0.29"/>
<rect x="1255.3" y="653.6" width="6.5" height="6.5" fill="#ff0080" opacity="0.33"/>
<rect x="1261.8" y="653.6" width="6.5" height="6.5" fill="#ff00a0" opacity="0.29"/>
<rect x="1268.3" y="653.6" width="6.5" height="6.5" fill="#ff0080" opacity="0.42"/>
<rect x="1274.8" y="653.6" width="6.5" height="6.5" fill="#ff00a0" opacity="0.36"/>
<rect x="1281.3" y="653.6" width="6.5" height="13.0" fill="#ff9000" opacity="0.36"/>
<rect x="1287.8" y="653.6" width="6.5" height="13.0" fill="#ff9000" opacity="0.28"/>
<rect x="1294.3" y="653.6" width="6.5" height="13.0" fill="#ff00a0" opacity="0.21"/>
<rect x="1300.8" y="653.6" width="6.5" height="6.5" fill="#ff08c0" opacity="0.45"/>
<rect x="1320.3" y="653.6" width="6.5" height="6.5" fill="#ff00a0" opacity="0.30"/>
<rect x="1333.3" y="653.6" width="6.5" height="6.5" fill="#ff7000" opacity="0.28"/>
<rect x="1339.8" y="653.6" width="13.0" height="13.0" fill="#ff7000" opacity="0.51"/>
<rect x="1346.3" y="653.6" width="6.5" height="6.5" fill="#ff7000" opacity="0.54"/>
<rect x="1352.8" y="653.6" width="6.5" height="6.5" fill="#ffa800" opacity="0.30"/>
<rect x="1359.3" y="653.6" width="13.0" height="13.0" fill="#ff7000" opacity="0.25"/>
<rect x="1372.3" y="653.6" width="6.5" height="6.5" fill="#ff08c0" opacity="0.40"/>
<rect x="1378.8" y="653.6" width="6.5" height="13.0" fill="#ff0080" opacity="0.36"/>
<rect x="1411.3" y="653.6" width="6.5" height="13.0" fill="#ff5800" opacity="0.45"/>
<rect x="1417.8" y="653.6" width="13.0" height="13.0" fill="#ff9000" opacity="0.49"/>
<rect x="1229.3" y="660.1" width="13.0" height="6.5" fill="#ffa800" opacity="0.51"/>
<rect x="1242.3" y="660.1" width="6.5" height="6.5" fill="#ff9000" opacity="0.38"/>
<rect x="1248.8" y="660.1" width="6.5" height="6.5" fill="#ff00a0" opacity="0.18"/>
<rect x="1255.3" y="660.1" width="6.5" height="13.0" fill="#ff0068" opacity="0.74"/>
<rect x="1261.8" y="660.1" width="6.5" height="6.5" fill="#ff08c0" opacity="0.51"/>
<rect x="1274.8" y="660.1" width="6.5" height="6.5" fill="#ff08c0" opacity="0.34"/>
<rect x="1281.3" y="660.1" width="6.5" height="13.0" fill="#ff08c0" opacity="0.53"/>
<rect x="1287.8" y="660.1" width="6.5" height="6.5" fill="#ff0068" opacity="0.53"/>
<rect x="1294.3" y="660.1" width="6.5" height="13.0" fill="#ff00a0" opacity="0.41"/>
<rect x="1300.8" y="660.1" width="13.0" height="6.5" fill="#ff00a0" opacity="0.46"/>
<rect x="1313.8" y="660.1" width="6.5" height="13.0" fill="#ff00a0" opacity="0.60"/>
<rect x="1320.3" y="660.1" width="6.5" height="6.5" fill="#ff0068" opacity="0.37"/>
<rect x="1326.8" y="660.1" width="6.5" height="6.5" fill="#ff0080" opacity="0.39"/>
<rect x="1333.3" y="660.1" width="6.5" height="13.0" fill="#ff0068" opacity="0.58"/>
<rect x="1339.8" y="660.1" width="6.5" height="13.0" fill="#ff00a0" opacity="0.49"/>
<rect x="1372.3" y="660.1" width="6.5" height="13.0" fill="#ff08c0" opacity="0.62"/>
<rect x="1398.3" y="660.1" width="6.5" height="6.5" fill="#ff00a0" opacity="0.51"/>
<rect x="1404.8" y="660.1" width="6.5" height="6.5" fill="#ff00a0" opacity="0.64"/>
<rect x="1411.3" y="660.1" width="6.5" height="6.5" fill="#ff9000" opacity="0.80"/>
<rect x="1417.8" y="660.1" width="6.5" height="6.5" fill="#ff5800" opacity="0.58"/>
<rect x="1424.3" y="660.1" width="6.5" height="13.0" fill="#ff00a0" opacity="0.30"/>
<rect x="1450.3" y="660.1" width="13.0" height="13.0" fill="#ff0080" opacity="0.28"/>
<rect x="1456.8" y="660.1" width="6.5" height="6.5" fill="#ff08c0" opacity="0.49"/>
<rect x="1463.3" y="660.1" width="6.5" height="6.5" fill="#ff7000" opacity="0.50"/>
<rect x="1222.8" y="666.6" width="13.0" height="6.5" fill="#ff00a0" opacity="0.60"/>
<rect x="1229.3" y="666.6" width="6.5" height="13.0" fill="#ff0068" opacity="0.54"/>
<rect x="1235.8" y="666.6" width="13.0" height="6.5" fill="#ff0080" opacity="0.31"/>
<rect x="1242.3" y="666.6" width="13.0" height="13.0" fill="#ff0080" opacity="0.27"/>
<rect x="1248.8" y="666.6" width="6.5" height="6.5" fill="#ff0080" opacity="0.36"/>
<rect x="1255.3" y="666.6" width="13.0" height="6.5" fill="#ff0068" opacity="0.30"/>
<rect x="1261.8" y="666.6" width="6.5" height="13.0" fill="#ff00a0" opacity="0.16"/>
<rect x="1281.3" y="666.6" width="6.5" height="6.5" fill="#ff08c0" opacity="0.53"/>
<rect x="1287.8" y="666.6" width="13.0" height="6.5" fill="#ff0080" opacity="0.51"/>
<rect x="1294.3" y="666.6" width="6.5" height="6.5" fill="#ff00a0" opacity="0.66"/>
<rect x="1300.8" y="666.6" width="6.5" height="6.5" fill="#ff00a0" opacity="0.57"/>
<rect x="1307.3" y="666.6" width="6.5" height="13.0" fill="#ff00a0" opacity="0.20"/>
<rect x="1313.8" y="666.6" width="6.5" height="6.5" fill="#ff00a0" opacity="0.47"/>
<rect x="1326.8" y="666.6" width="6.5" height="6.5" fill="#ff0080" opacity="0.45"/>
<rect x="1333.3" y="666.6" width="6.5" height="6.5" fill="#ff00a0" opacity="0.45"/>
<rect x="1339.8" y="666.6" width="6.5" height="6.5" fill="#ff00a0" opacity="0.59"/>
<rect x="1346.3" y="666.6" width="6.5" height="6.5" fill="#ff0080" opacity="0.38"/>
<rect x="1352.8" y="666.6" width="6.5" height="6.5" fill="#ff0080" opacity="0.35"/>
<rect x="1365.8" y="666.6" width="6.5" height="6.5" fill="#ff9000" opacity="0.22"/>
<rect x="1391.8" y="666.6" width="6.5" height="6.5" fill="#ffa800" opacity="0.15"/>
<rect x="1398.3" y="666.6" width="6.5" height="6.5" fill="#ff7000" opacity="0.34"/>
<rect x="1404.8" y="666.6" width="6.5" height="6.5" fill="#ff5800" opacity="0.45"/>
<rect x="1417.8" y="666.6" width="6.5" height="13.0" fill="#ff5800" opacity="0.47"/>
<rect x="1456.8" y="666.6" width="6.5" height="6.5" fill="#ff0080" opacity="0.46"/>
<rect x="1216.3" y="673.1" width="6.5" height="13.0" fill="#ff0080" opacity="0.65"/>
<rect x="1222.8" y="673.1" width="6.5" height="13.0" fill="#ff0068" opacity="0.58"/>
<rect x="1235.8" y="673.1" width="6.5" height="13.0" fill="#ff00a0" opacity="0.74"/>
<rect x="1242.3" y="673.1" width="6.5" height="13.0" fill="#ff08c0" opacity="0.80"/>
<rect x="1274.8" y="673.1" width="6.5" height="6.5" fill="#ffa800" opacity="0.41"/>
<rect x="1281.3" y="673.1" width="13.0" height="6.5" fill="#ff00a0" opacity="0.62"/>
<rect x="1294.3" y="673.1" width="6.5" height="13.0" fill="#ff0068" opacity="0.55"/>
<rect x="1300.8" y="673.1" width="6.5" height="6.5" fill="#ff0068" opacity="0.36"/>
<rect x="1307.3" y="673.1" width="6.5" height="6.5" fill="#ffa800" opacity="0.47"/>
<rect x="1313.8" y="673.1" width="6.5" height="6.5" fill="#ff7000" opacity="0.50"/>
<rect x="1320.3" y="673.1" width="6.5" height="6.5" fill="#ff7000" opacity="0.58"/>
<rect x="1326.8" y="673.1" width="13.0" height="13.0" fill="#ff0080" opacity="0.67"/>
<rect x="1333.3" y="673.1" width="6.5" height="6.5" fill="#ff0080" opacity="0.65"/>
<rect x="1339.8" y="673.1" width="6.5" height="13.0" fill="#ff0068" opacity="0.50"/>
<rect x="1352.8" y="673.1" width="13.0" height="6.5" fill="#ff0068" opacity="0.53"/>
<rect x="1359.3" y="673.1" width="13.0" height="13.0" fill="#ff00a0" opacity="0.46"/>
<rect x="1365.8" y="673.1" width="13.0" height="6.5" fill="#ff7000" opacity="0.43"/>
<rect x="1372.3" y="673.1" width="6.5" height="6.5" fill="#ff5800" opacity="0.18"/>
<rect x="1378.8" y="673.1" width="6.5" height="13.0" fill="#ff7000" opacity="0.43"/>
<rect x="1385.3" y="673.1" width="13.0" height="6.5" fill="#ff7000" opacity="0.39"/>
<rect x="1391.8" y="673.1" width="13.0" height="6.5" fill="#ffa800" opacity="0.52"/>
<rect x="1398.3" y="673.1" width="13.0" height="6.5" fill="#ff9000" opacity="0.36"/>
<rect x="1404.8" y="673.1" width="6.5" height="6.5" fill="#ffa800" opacity="0.36"/>
<rect x="1437.3" y="673.1" width="13.0" height="13.0" fill="#ff00a0" opacity="0.39"/>
<rect x="1443.8" y="673.1" width="6.5" height="13.0" fill="#ff0080" opacity="0.57"/>
<rect x="1450.3" y="673.1" width="6.5" height="6.5" fill="#ff0080" opacity="0.36"/>
<rect x="1476.3" y="673.1" width="6.5" height="13.0" fill="#ff0068" opacity="0.26"/>
<rect x="1482.8" y="673.1" width="6.5" height="13.0" fill="#ff9000" opacity="0.57"/>
<rect x="1222.8" y="679.6" width="13.0" height="13.0" fill="#ff0080" opacity="0.44"/>
<rect x="1229.3" y="679.6" width="6.5" height="6.5" fill="#ff7000" opacity="0.38"/>
<rect x="1235.8" y="679.6" width="6.5" height="6.5" fill="#ff00a0" opacity="0.24"/>
<rect x="1242.3" y="679.6" width="6.5" height="6.5" fill="#ff0068" opacity="0.34"/>
<rect x="1261.8" y="679.6" width="6.5" height="6.5" fill="#ff7000" opacity="0.23"/>
<rect x="1268.3" y="679.6" width="13.0" height="6.5" fill="#ff7000" opacity="0.63"/>
<rect x="1274.8" y="679.6" width="6.5" height="13.0" fill="#ff5800" opacity="0.36"/>
<rect x="1281.3" y="679.6" width="6.5" height="6.5" fill="#ff08c0" opacity="0.26"/>
<rect x="1287.8" y="679.6" width="6.5" height="13.0" fill="#ff08c0" opacity="0.60"/>
<rect x="1300.8" y="679.6" width="6.5" height="6.5" fill="#ff0068" opacity="0.20"/>
<rect x="1313.8" y="679.6" width="6.5" height="6.5" fill="#ff7000" opacity="0.26"/>
<rect x="1320.3" y="679.6" width="13.0" height="13.0" fill="#ff5800" opacity="0.44"/>
<rect x="1339.8" y="679.6" width="6.5" height="13.0" fill="#ff08c0" opacity="0.23"/>
<rect x="1359.3" y="679.6" width="6.5" height="6.5" fill="#ff00a0" opacity="0.35"/>
<rect x="1365.8" y="679.6" width="6.5" height="6.5" fill="#ff7000" opacity="0.36"/>
<rect x="1372.3" y="679.6" width="6.5" height="6.5" fill="#ffa800" opacity="0.24"/>
<rect x="1378.8" y="679.6" width="6.5" height="6.5" fill="#ffa800" opacity="0.29"/>
<rect x="1437.3" y="679.6" width="6.5" height="13.0" fill="#ff0080" opacity="0.39"/>
<rect x="1450.3" y="679.6" width="6.5" height="13.0" fill="#ff0068" opacity="0.34"/>
<rect x="1456.8" y="679.6" width="6.5" height="6.5" fill="#ff00a0" opacity="0.30"/>
<rect x="1476.3" y="679.6" width="6.5" height="13.0" fill="#ff9000" opacity="0.42"/>
<rect x="1482.8" y="679.6" width="6.5" height="6.5" fill="#ff9000" opacity="0.39"/>
<rect x="1489.3" y="679.6" width="13.0" height="6.5" fill="#ff5800" opacity="0.48"/>
<rect x="1196.8" y="686.1" width="13.0" height="13.0" fill="#ff0080" opacity="0.50"/>
<rect x="1203.3" y="686.1" width="6.5" height="13.0" fill="#ff08c0" opacity="0.39"/>
<rect x="1229.3" y="686.1" width="6.5" height="6.5" fill="#ff5800" opacity="0.42"/>
<rect x="1255.3" y="686.1" width="13.0" height="13.0" fill="#ff7000" opacity="0.46"/>
<rect x="1261.8" y="686.1" width="13.0" height="6.5" fill="#ffa800" opacity="0.45"/>
<rect x="1268.3" y="686.1" width="6.5" height="6.5" fill="#ff7000" opacity="0.44"/>
<rect x="1274.8" y="686.1" width="13.0" height="6.5" fill="#ffa800" opacity="0.57"/>
<rect x="1281.3" y="686.1" width="6.5" height="6.5" fill="#ff9000" opacity="0.62"/>
<rect x="1294.3" y="686.1" width="6.5" height="6.5" fill="#ff00a0" opacity="0.54"/>
<rect x="1300.8" y="686.1" width="6.5" height="6.5" fill="#ff0080" opacity="0.60"/>
<rect x="1307.3" y="686.1" width="6.5" height="6.5" fill="#ff0080" opacity="0.35"/>
<rect x="1320.3" y="686.1" width="6.5" height="6.5" fill="#ff5800" opacity="0.33"/>
<rect x="1326.8" y="686.1" width="6.5" height="6.5" fill="#ff9000" opacity="0.31"/>
<rect x="1346.3" y="686.1" width="6.5" height="13.0" fill="#ff08c0" opacity="0.48"/>
<rect x="1352.8" y="686.1" width="13.0" height="6.5" fill="#ff08c0" opacity="0.77"/>
<rect x="1359.3" y="686.1" width="6.5" height="6.5" fill="#ff08c0" opacity="0.50"/>
<rect x="1372.3" y="686.1" width="13.0" height="6.5" fill="#ff7000" opacity="0.34"/>
<rect x="1404.8" y="686.1" width="6.5" height="6.5" fill="#ff00a0" opacity="0.20"/>
<rect x="1437.3" y="686.1" width="6.5" height="13.0" fill="#ff08c0" opacity="0.59"/>
<rect x="1443.8" y="686.1" width="6.5" height="6.5" fill="#ff0068" opacity="0.66"/>
<rect x="1450.3" y="686.1" width="6.5" height="6.5" fill="#ff00a0" opacity="0.54"/>
<rect x="1456.8" y="686.1" width="6.5" height="6.5" fill="#ff0080" opacity="0.38"/>
<rect x="1463.3" y="686.1" width="6.5" height="13.0" fill="#ff5800" opacity="0.32"/>
<rect x="1469.8" y="686.1" width="6.5" height="6.5" fill="#ffa800" opacity="0.57"/>
<rect x="1476.3" y="686.1" width="6.5" height="6.5" fill="#ff9000" opacity="0.51"/>
<rect x="1489.3" y="686.1" width="13.0" height="6.5" fill="#ff7000" opacity="0.37"/>
<rect x="1495.8" y="686.1" width="6.5" height="6.5" fill="#ffa800" opacity="0.43"/>
<rect x="1196.8" y="692.6" width="6.5" height="6.5" fill="#ff0080" opacity="0.52"/>
<rect x="1203.3" y="692.6" width="6.5" height="6.5" fill="#ff0068" opacity="0.41"/>
<rect x="1229.3" y="692.6" width="13.0" height="6.5" fill="#ffa800" opacity="0.44"/>
<rect x="1235.8" y="692.6" width="6.5" height="6.5" fill="#ff5800" opacity="0.45"/>
<rect x="1255.3" y="692.6" width="6.5" height="6.5" fill="#ff9000" opacity="0.18"/>
<rect x="1261.8" y="692.6" width="6.5" height="13.0" fill="#ffa800" opacity="0.47"/>
<rect x="1268.3" y="692.6" width="13.0" height="6.5" fill="#ff9000" opacity="0.51"/>
<rect x="1274.8" y="692.6" width="13.0" height="6.5" fill="#ff5800" opacity="0.60"/>
<rect x="1281.3" y="692.6" width="6.5" height="6.5" fill="#ffa800" opacity="0.29"/>
<rect x="1300.8" y="692.6" width="6.5" height="6.5" fill="#ff08c0" opacity="0.23"/>
<rect x="1307.3" y="692.6" width="6.5" height="6.5" fill="#ff0068" opacity="0.53"/>
<rect x="1313.8" y="692.6" width="6.5" height="13.0" fill="#ff7000" opacity="0.18"/>
<rect x="1320.3" y="692.6" width="6.5" height="13.0" fill="#ff7000" opacity="0.48"/>
<rect x="1326.8" y="692.6" width="6.5" height="6.5" fill="#ffa800" opacity="0.36"/>
<rect x="1346.3" y="692.6" width="6.5" height="6.5" fill="#ff0068" opacity="0.57"/>
<rect x="1352.8" y="692.6" width="6.5" height="13.0" fill="#ff00a0" opacity="0.56"/>
<rect x="1359.3" y="692.6" width="6.5" height="13.0" fill="#ff0068" opacity="0.26"/>
<rect x="1372.3" y="692.6" width="6.5" height="6.5" fill="#ff5800" opacity="0.26"/>
<rect x="1378.8" y="692.6" width="6.5" height="6.5" fill="#ff9000" opacity="0.30"/>
<rect x="1398.3" y="692.6" width="6.5" height="13.0" fill="#ff0068" opacity="0.49"/>
<rect x="1437.3" y="692.6" width="13.0" height="13.0" fill="#ff00a0" opacity="0.55"/>
<rect x="1443.8" y="692.6" width="6.5" height="6.5" fill="#ff00a0" opacity="0.61"/>
<rect x="1450.3" y="692.6" width="13.0" height="6.5" fill="#ff00a0" opacity="0.56"/>
<rect x="1456.8" y="692.6" width="6.5" height="6.5" fill="#ff0068" opacity="0.55"/>
<rect x="1463.3" y="692.6" width="13.0" height="6.5" fill="#ff7000" opacity="0.38"/>
<rect x="1469.8" y="692.6" width="13.0" height="6.5" fill="#ff5800" opacity="0.56"/>
<rect x="1476.3" y="692.6" width="6.5" height="6.5" fill="#ff5800" opacity="0.48"/>
<rect x="1482.8" y="692.6" width="6.5" height="13.0" fill="#ff5800" opacity="0.20"/>
<rect x="1489.3" y="692.6" width="13.0" height="6.5" fill="#ffa800" opacity="0.60"/>
<rect x="1495.8" y="692.6" width="6.5" height="6.5" fill="#ff5800" opacity="0.69"/>
<rect x="1183.8" y="699.1" width="6.5" height="6.5" fill="#ff0068" opacity="0.33"/>
<rect x="1190.3" y="699.1" width="6.5" height="13.0" fill="#ff0068" opacity="0.25"/>
<rect x="1196.8" y="699.1" width="13.0" height="6.5" fill="#ff08c0" opacity="0.36"/>
<rect x="1203.3" y="699.1" width="6.5" height="13.0" fill="#ff00a0" opacity="0.42"/>
<rect x="1209.8" y="699.1" width="6.5" height="6.5" fill="#ff08c0" opacity="0.45"/>
<rect x="1222.8" y="699.1" width="6.5" height="6.5" fill="#ff0080" opacity="0.55"/>
<rect x="1229.3" y="699.1" width="6.5" height="6.5" fill="#ff0068" opacity="0.59"/>
<rect x="1235.8" y="699.1" width="6.5" height="6.5" fill="#ffa800" opacity="0.61"/>
<rect x="1242.3" y="699.1" width="13.0" height="6.5" fill="#ff9000" opacity="0.46"/>
<rect x="1261.8" y="699.1" width="6.5" height="6.5" fill="#ffa800" opacity="0.50"/>
<rect x="1274.8" y="699.1" width="13.0" height="6.5" fill="#ff9000" opacity="0.36"/>
<rect x="1281.3" y="699.1" width="6.5" height="6.5" fill="#ff00a0" opacity="0.43"/>
<rect x="1287.8" y="699.1" width="6.5" height="6.5" fill="#ff0080" opacity="0.29"/>
<rect x="1307.3" y="699.1" width="6.5" height="13.0" fill="#ff00a0" opacity="0.43"/>
<rect x="1313.8" y="699.1" width="13.0" height="6.5" fill="#ff5800" opacity="0.42"/>
<rect x="1320.3" y="699.1" width="6.5" height="6.5" fill="#ff5800" opacity="0.51"/>
<rect x="1326.8" y="699.1" width="6.5" height="13.0" fill="#ffa800" opacity="0.35"/>
<rect x="1352.8" y="699.1" width="6.5" height="13.0" fill="#ff5800" opacity="0.52"/>
<rect x="1359.3" y="699.1" width="13.0" height="6.5" fill="#ff9000" opacity="0.38"/>
<rect x="1365.8" y="699.1" width="6.5" height="13.0" fill="#ff9000" opacity="0.33"/>
<rect x="1378.8" y="699.1" width="13.0" height="6.5" fill="#ff7000" opacity="0.47"/>
<rect x="1391.8" y="699.1" width="6.5" height="6.5" fill="#ff08c0" opacity="0.43"/>
<rect x="1398.3" y="699.1" width="13.0" height="6.5" fill="#ff08c0" opacity="0.59"/>
<rect x="1404.8" y="699.1" width="6.5" height="6.5" fill="#ff08c0" opacity="0.54"/>
<rect x="1411.3" y="699.1" width="13.0" height="13.0" fill="#ff9000" opacity="0.37"/>
<rect x="1417.8" y="699.1" width="6.5" height="13.0" fill="#ff5800" opacity="0.51"/>
<rect x="1443.8" y="699.1" width="6.5" height="13.0" fill="#ff0080" opacity="0.47"/>
<rect x="1450.3" y="699.1" width="13.0" height="6.5" fill="#ff00a0" opacity="0.35"/>
<rect x="1456.8" y="699.1" width="6.5" height="13.0" fill="#ff08c0" opacity="0.38"/>
<rect x="1463.3" y="699.1" width="6.5" height="6.5" fill="#ff0080" opacity="0.38"/>
<rect x="1469.8" y="699.1" width="6.5" height="6.5" fill="#ff08c0" opacity="0.60"/>
<rect x="1476.3" y="699.1" width="6.5" height="6.5" fill="#ff0068" opacity="0.41"/>
<rect x="1482.8" y="699.1" width="6.5" height="13.0" fill="#ff08c0" opacity="0.47"/>
<rect x="1495.8" y="699.1" width="6.5" height="13.0" fill="#ff9000" opacity="0.75"/>
<rect x="1502.3" y="699.1" width="6.5" height="13.0" fill="#ff7000" opacity="0.61"/>
<rect x="1508.8" y="699.1" width="6.5" height="6.5" fill="#ff5800" opacity="0.53"/>
<rect x="1177.3" y="705.6" width="6.5" height="13.0" fill="#ff0068" opacity="0.39"/>
<rect x="1183.8" y="705.6" width="6.5" height="6.5" fill="#ff0080" opacity="0.41"/>
<rect x="1190.3" y="705.6" width="6.5" height="13.0" fill="#ff0080" opacity="0.37"/>
<rect x="1196.8" y="705.6" width="6.5" height="6.5" fill="#ff08c0" opacity="0.51"/>
<rect x="1203.3" y="705.6" width="13.0" height="6.5" fill="#ff0080" opacity="0.63"/>
<rect x="1216.3" y="705.6" width="6.5" height="6.5" fill="#ff08c0" opacity="0.80"/>
<rect x="1222.8" y="705.6" width="6.5" height="13.0" fill="#ff00a0" opacity="0.62"/>
<rect x="1229.3" y="705.6" width="13.0" height="13.0" fill="#ff7000" opacity="0.48"/>
<rect x="1235.8" y="705.6" width="13.0" height="6.5" fill="#ff5800" opacity="0.46"/>
<rect x="1242.3" y="705.6" width="6.5" height="13.0" fill="#ff9000" opacity="0.41"/>
<rect x="1268.3" y="705.6" width="6.5" height="13.0" fill="#ff5800" opacity="0.36"/>
<rect x="1274.8" y="705.6" width="6.5" height="6.5" fill="#ff7000" opacity="0.43"/>
<rect x="1300.8" y="705.6" width="6.5" height="6.5" fill="#ffa800" opacity="0.41"/>
<rect x="1307.3" y="705.6" width="13.0" height="6.5" fill="#ffb000" opacity="0.41"/>
<rect x="1313.8" y="705.6" width="6.5" height="6.5" fill="#ffb000" opacity="0.43"/>
<rect x="1326.8" y="705.6" width="6.5" height="6.5" fill="#ffa800" opacity="0.16"/>
<rect x="1339.8" y="705.6" width="6.5" height="13.0" fill="#ffb000" opacity="0.25"/>
<rect x="1352.8" y="705.6" width="6.5" height="6.5" fill="#ffb000" opacity="0.43"/>
<rect x="1359.3" y="705.6" width="13.0" height="13.0" fill="#ffb000" opacity="0.16"/>
<rect x="1372.3" y="705.6" width="13.0" height="6.5" fill="#ff5800" opacity="0.39"/>
<rect x="1398.3" y="705.6" width="6.5" height="6.5" fill="#ff2040" opacity="0.45"/>
<rect x="1404.8" y="705.6" width="13.0" height="6.5" fill="#ff0068" opacity="0.51"/>
<rect x="1411.3" y="705.6" width="13.0" height="6.5" fill="#ff9000" opacity="0.44"/>
<rect x="1417.8" y="705.6" width="13.0" height="6.5" fill="#ff5800" opacity="0.33"/>
<rect x="1437.3" y="705.6" width="6.5" height="6.5" fill="#ff08c0" opacity="0.19"/>
<rect x="1443.8" y="705.6" width="6.5" height="6.5" fill="#ff08c0" opacity="0.38"/>
<rect x="1456.8" y="705.6" width="6.5" height="6.5" fill="#ff00a0" opacity="0.49"/>
<rect x="1463.3" y="705.6" width="13.0" height="6.5" fill="#ff08c0" opacity="0.44"/>
<rect x="1469.8" y="705.6" width="6.5" height="13.0" fill="#ff0080" opacity="0.47"/>
<rect x="1476.3" y="705.6" width="6.5" height="6.5" fill="#ff0080" opacity="0.63"/>
<rect x="1482.8" y="705.6" width="13.0" height="6.5" fill="#ff08c0" opacity="0.61"/>
<rect x="1495.8" y="705.6" width="6.5" height="13.0" fill="#ff9000" opacity="0.78"/>
<rect x="1502.3" y="705.6" width="6.5" height="6.5" fill="#ff5800" opacity="0.70"/>
<rect x="1508.8" y="705.6" width="6.5" height="6.5" fill="#ff5800" opacity="0.48"/>
<rect x="1515.3" y="705.6" width="6.5" height="13.0" fill="#ff5800" opacity="0.75"/>
<rect x="1177.3" y="712.1" width="6.5" height="6.5" fill="#ff0080" opacity="0.63"/>
<rect x="1183.8" y="712.1" width="6.5" height="6.5" fill="#ff0068" opacity="0.45"/>
<rect x="1190.3" y="712.1" width="6.5" height="6.5" fill="#ff0068" opacity="0.48"/>
<rect x="1196.8" y="712.1" width="6.5" height="13.0" fill="#ff0068" opacity="0.68"/>
<rect x="1203.3" y="712.1" width="6.5" height="6.5" fill="#ff0068" opacity="0.80"/>
<rect x="1216.3" y="712.1" width="6.5" height="13.0" fill="#ff00a0" opacity="0.80"/>
<rect x="1222.8" y="712.1" width="6.5" height="6.5" fill="#ffa800" opacity="0.62"/>
<rect x="1229.3" y="712.1" width="13.0" height="13.0" fill="#ff7000" opacity="0.73"/>
<rect x="1235.8" y="712.1" width="6.5" height="13.0" fill="#ff7000" opacity="0.72"/>
<rect x="1248.8" y="712.1" width="13.0" height="13.0" fill="#ff0080" opacity="0.45"/>
<rect x="1294.3" y="712.1" width="6.5" height="6.5" fill="#ff5800" opacity="0.25"/>
<rect x="1313.8" y="712.1" width="6.5" height="6.5" fill="#ff5800" opacity="0.38"/>
<rect x="1320.3" y="712.1" width="13.0" height="13.0" fill="#ff2040" opacity="0.36"/>
<rect x="1333.3" y="712.1" width="6.5" height="6.5" fill="#ff2040" opacity="0.25"/>
<rect x="1352.8" y="712.1" width="6.5" height="6.5" fill="#ffb000" opacity="0.43"/>
<rect x="1385.3" y="712.1" width="6.5" height="13.0" fill="#ff5800" opacity="0.45"/>
<rect x="1391.8" y="712.1" width="13.0" height="6.5" fill="#ffb000" opacity="0.16"/>
<rect x="1398.3" y="712.1" width="6.5" height="6.5" fill="#ffb000" opacity="0.39"/>
<rect x="1404.8" y="712.1" width="6.5" height="13.0" fill="#ffa800" opacity="0.33"/>
<rect x="1424.3" y="712.1" width="6.5" height="6.5" fill="#ff2040" opacity="0.48"/>
<rect x="1437.3" y="712.1" width="13.0" height="13.0" fill="#ff08c0" opacity="0.49"/>
<rect x="1443.8" y="712.1" width="13.0" height="13.0" fill="#ff08c0" opacity="0.32"/>
<rect x="1450.3" y="712.1" width="6.5" height="6.5" fill="#ff0080" opacity="0.58"/>
<rect x="1456.8" y="712.1" width="6.5" height="6.5" fill="#ff0080" opacity="0.47"/>
<rect x="1463.3" y="712.1" width="6.5" height="13.0" fill="#ff08c0" opacity="0.47"/>
<rect x="1469.8" y="712.1" width="13.0" height="13.0" fill="#ffa800" opacity="0.76"/>
<rect x="1476.3" y="712.1" width="6.5" height="6.5" fill="#ffa800" opacity="0.68"/>
<rect x="1482.8" y="712.1" width="6.5" height="6.5" fill="#ffa800" opacity="0.52"/>
<rect x="1489.3" y="712.1" width="6.5" height="6.5" fill="#ff5800" opacity="0.53"/>
<rect x="1495.8" y="712.1" width="13.0" height="6.5" fill="#ffa800" opacity="0.64"/>
<rect x="1502.3" y="712.1" width="13.0" height="6.5" fill="#ff5800" opacity="0.75"/>
<rect x="1508.8" y="712.1" width="13.0" height="13.0" fill="#ff7000" opacity="0.74"/>
<rect x="1515.3" y="712.1" width="6.5" height="6.5" fill="#ff9000" opacity="0.43"/>
<rect x="1521.8" y="712.1" width="6.5" height="6.5" fill="#ff0080" opacity="0.40"/>
<rect x="1170.8" y="718.6" width="6.5" height="6.5" fill="#ff0080" opacity="0.38"/>
<rect x="1177.3" y="718.6" width="6.5" height="13.0" fill="#ff08c0" opacity="0.26"/>
<rect x="1183.8" y="718.6" width="13.0" height="6.5" fill="#ff0068" opacity="0.44"/>
<rect x="1190.3" y="718.6" width="13.0" height="6.5" fill="#ff0080" opacity="0.48"/>
<rect x="1196.8" y="718.6" width="6.5" height="6.5" fill="#ff00a0" opacity="0.65"/>
<rect x="1203.3" y="718.6" width="6.5" height="13.0" fill="#ff0068" opacity="0.78"/>
<rect x="1209.8" y="718.6" width="6.5" height="6.5" fill="#ff00a0" opacity="0.59"/>
<rect x="1216.3" y="718.6" width="13.0" height="6.5" fill="#ff0080" opacity="0.60"/>
<rect x="1222.8" y="718.6" width="6.5" height="13.0" fill="#ff08c0" opacity="0.58"/>
<rect x="1229.3" y="718.6" width="6.5" height="13.0" fill="#ff0080" opacity="0.53"/>
<rect x="1235.8" y="718.6" width="6.5" height="6.5" fill="#ff08c0" opacity="0.38"/>
<rect x="1242.3" y="718.6" width="6.5" height="6.5" fill="#ff00a0" opacity="0.69"/>
<rect x="1300.8" y="718.6" width="13.0" height="6.5" fill="#ffa800" opacity="0.35"/>
<rect x="1307.3" y="718.6" width="6.5" height="6.5" fill="#ffa800" opacity="0.24"/>
<rect x="1320.3" y="718.6" width="6.5" height="6.5" fill="#ff2040" opacity="0.38"/>
<rect x="1333.3" y="718.6" width="6.5" height="13.0" fill="#ff2040" opacity="0.38"/>
<rect x="1346.3" y="718.6" width="6.5" height="13.0" fill="#ffa800" opacity="0.33"/>
<rect x="1352.8" y="718.6" width="6.5" height="6.5" fill="#ffa800" opacity="0.42"/>
<rect x="1359.3" y="718.6" width="6.5" height="6.5" fill="#ffa800" opacity="0.15"/>
<rect x="1365.8" y="718.6" width="6.5" height="6.5" fill="#ffb000" opacity="0.43"/>
<rect x="1391.8" y="718.6" width="13.0" height="13.0" fill="#ff5800" opacity="0.32"/>
<rect x="1404.8" y="718.6" width="6.5" height="6.5" fill="#ff2040" opacity="0.24"/>
<rect x="1437.3" y="718.6" width="6.5" height="6.5" fill="#ff2040" opacity="0.24"/>
<rect x="1443.8" y="718.6" width="6.5" height="6.5" fill="#ff2040" opacity="0.49"/>
<rect x="1450.3" y="718.6" width="6.5" height="13.0" fill="#ff08c0" opacity="0.36"/>
<rect x="1456.8" y="718.6" width="6.5" height="6.5" fill="#ff0068" opacity="0.66"/>
<rect x="1463.3" y="718.6" width="6.5" height="6.5" fill="#ff08c0" opacity="0.45"/>
<rect x="1469.8" y="718.6" width="6.5" height="6.5" fill="#ff5800" opacity="0.64"/>
<rect x="1476.3" y="718.6" width="6.5" height="6.5" fill="#ff08c0" opacity="0.56"/>
<rect x="1489.3" y="718.6" width="6.5" height="6.5" fill="#ff5800" opacity="0.53"/>
<rect x="1495.8" y="718.6" width="6.5" height="13.0" fill="#ff7000" opacity="0.47"/>
<rect x="1502.3" y="718.6" width="13.0" height="13.0" fill="#ff5800" opacity="0.52"/>
<rect x="1508.8" y="718.6" width="6.5" height="6.5" fill="#ff7000" opacity="0.80"/>
<rect x="1515.3" y="718.6" width="6.5" height="6.5" fill="#ff9000" opacity="0.66"/>
<rect x="1521.8" y="718.6" width="6.5" height="13.0" fill="#ffa800" opacity="0.58"/>
<rect x="1170.8" y="725.1" width="6.5" height="13.0" fill="#ff00a0" opacity="0.54"/>
<rect x="1190.3" y="725.1" width="6.5" height="6.5" fill="#ff0068" opacity="0.62"/>
<rect x="1196.8" y="725.1" width="6.5" height="13.0" fill="#ff00a0" opacity="0.62"/>
<rect x="1203.3" y="725.1" width="13.0" height="6.5" fill="#ff0080" opacity="0.61"/>
<rect x="1209.8" y="725.1" width="6.5" height="6.5" fill="#ff0068" opacity="0.35"/>
<rect x="1222.8" y="725.1" width="6.5" height="6.5" fill="#ff0080" opacity="0.33"/>
<rect x="1229.3" y="725.1" width="13.0" height="6.5" fill="#ff00a0" opacity="0.44"/>
<rect x="1235.8" y="725.1" width="6.5" height="13.0" fill="#ff2040" opacity="0.26"/>
<rect x="1242.3" y="725.1" width="6.5" height="13.0" fill="#ffb000" opacity="0.15"/>
<rect x="1281.3" y="725.1" width="13.0" height="6.5" fill="#ffa800" opacity="0.27"/>
<rect x="1287.8" y="725.1" width="6.5" height="6.5" fill="#ffa800" opacity="0.30"/>
<rect x="1294.3" y="725.1" width="6.5" height="6.5" fill="#ff5800" opacity="0.33"/>
<rect x="1300.8" y="725.1" width="6.5" height="6.5" fill="#ffb000" opacity="0.28"/>
<rect x="1320.3" y="725.1" width="6.5" height="13.0" fill="#ff5800" opacity="0.32"/>
<rect x="1326.8" y="725.1" width="13.0" height="13.0" fill="#ffb000" opacity="0.32"/>
<rect x="1346.3" y="725.1" width="6.5" height="6.5" fill="#ff2040" opacity="0.43"/>
<rect x="1372.3" y="725.1" width="6.5" height="6.5" fill="#ff2040" opacity="0.42"/>
<rect x="1430.8" y="725.1" width="6.5" height="6.5" fill="#ff2040" opacity="0.45"/>
<rect x="1443.8" y="725.1" width="13.0" height="6.5" fill="#ffa800" opacity="0.29"/>
<rect x="1450.3" y="725.1" width="6.5" height="6.5" fill="#ff2040" opacity="0.43"/>
<rect x="1456.8" y="725.1" width="13.0" height="13.0" fill="#ff2040" opacity="0.45"/>
<rect x="1469.8" y="725.1" width="6.5" height="6.5" fill="#ff5800" opacity="0.70"/>
<rect x="1482.8" y="725.1" width="6.5" height="6.5" fill="#ff0080" opacity="0.51"/>
<rect x="1489.3" y="725.1" width="6.5" height="6.5" fill="#ff0080" opacity="0.50"/>
<rect x="1502.3" y="725.1" width="13.0" height="6.5" fill="#ffa800" opacity="0.59"/>
<rect x="1508.8" y="725.1" width="6.5" height="6.5" fill="#ff7000" opacity="0.56"/>
<rect x="1515.3" y="725.1" width="6.5" height="13.0" fill="#ffa800" opacity="0.64"/>
<rect x="1521.8" y="725.1" width="6.5" height="6.5" fill="#ffa800" opacity="0.67"/>
<rect x="1528.3" y="725.1" width="6.5" height="6.5" fill="#ff5800" opacity="0.80"/>
<rect x="1164.3" y="731.6" width="6.5" height="6.5" fill="#ff0068" opacity="0.55"/>
<rect x="1170.8" y="731.6" width="6.5" height="6.5" fill="#ff08c0" opacity="0.44"/>
<rect x="1177.3" y="731.6" width="6.5" height="6.5" fill="#ff0068" opacity="0.32"/>
<rect x="1190.3" y="731.6" width="6.5" height="6.5" fill="#ff0080" opacity="0.80"/>
<rect x="1203.3" y="731.6" width="6.5" height="13.0" fill="#ff08c0" opacity="0.43"/>
<rect x="1229.3" y="731.6" width="6.5" height="6.5" fill="#ff2040" opacity="0.37"/>
<rect x="1235.8" y="731.6" width="6.5" height="6.5" fill="#ff2040" opacity="0.31"/>
<rect x="1242.3" y="731.6" width="13.0" height="6.5" fill="#ffa800" opacity="0.25"/>
<rect x="1248.8" y="731.6" width="6.5" height="6.5" fill="#ff5800" opacity="0.29"/>
<rect x="1255.3" y="731.6" width="6.5" height="13.0" fill="#ffa800" opacity="0.24"/>
<rect x="1261.8" y="731.6" width="6.5" height="6.5" fill="#ff5800" opacity="0.35"/>
<rect x="1268.3" y="731.6" width="6.5" height="13.0" fill="#ff2040" opacity="0.30"/>
<rect x="1274.8" y="731.6" width="6.5" height="13.0" fill="#ff2040" opacity="0.22"/>
<rect x="1281.3" y="731.6" width="6.5" height="13.0" fill="#ffa800" opacity="0.24"/>
<rect x="1300.8" y="731.6" width="13.0" height="13.0" fill="#ff5800" opacity="0.22"/>
<rect x="1398.3" y="731.6" width="13.0" height="13.0" fill="#ff2040" opacity="0.27"/>
<rect x="1437.3" y="731.6" width="13.0" height="6.5" fill="#ff5800" opacity="0.41"/>
<rect x="1443.8" y="731.6" width="13.0" height="6.5" fill="#ffa800" opacity="0.38"/>
<rect x="1469.8" y="731.6" width="6.5" height="13.0" fill="#ffa800" opacity="0.45"/>
<rect x="1489.3" y="731.6" width="6.5" height="6.5" fill="#ff08c0" opacity="0.36"/>
<rect x="1502.3" y="731.6" width="6.5" height="6.5" fill="#ff7000" opacity="0.50"/>
<rect x="1508.8" y="731.6" width="6.5" height="6.5" fill="#ff5800" opacity="0.77"/>
<rect x="1515.3" y="731.6" width="6.5" height="13.0" fill="#ff7000" opacity="0.53"/>
<rect x="1521.8" y="731.6" width="6.5" height="6.5" fill="#ff7000" opacity="0.50"/>
<rect x="1528.3" y="731.6" width="6.5" height="6.5" fill="#ff5800" opacity="0.58"/>
<rect x="1164.3" y="738.1" width="6.5" height="6.5" fill="#ff0080" opacity="0.52"/>
<rect x="1170.8" y="738.1" width="6.5" height="6.5" fill="#ff00a0" opacity="0.58"/>
<rect x="1177.3" y="738.1" width="13.0" height="6.5" fill="#ff00a0" opacity="0.65"/>
<rect x="1183.8" y="738.1" width="6.5" height="6.5" fill="#ff0080" opacity="0.73"/>
<rect x="1196.8" y="738.1" width="13.0" height="6.5" fill="#ff0068" opacity="0.31"/>
<rect x="1222.8" y="738.1" width="6.5" height="6.5" fill="#ffa800" opacity="0.30"/>
<rect x="1229.3" y="738.1" width="6.5" height="6.5" fill="#ffa800" opacity="0.16"/>
<rect x="1235.8" y="738.1" width="13.0" height="6.5" fill="#ffa800" opacity="0.18"/>
<rect x="1242.3" y="738.1" width="6.5" height="6.5" fill="#ffb000" opacity="0.21"/>
<rect x="1261.8" y="738.1" width="6.5" height="13.0" fill="#ffb000" opacity="0.33"/>
<rect x="1268.3" y="738.1" width="13.0" height="6.5" fill="#ffa800" opacity="0.21"/>
<rect x="1437.3" y="738.1" width="13.0" height="6.5" fill="#ffb000" opacity="0.34"/>
<rect x="1489.3" y="738.1" width="6.5" height="6.5" fill="#ff0068" opacity="0.25"/>
<rect x="1495.8" y="738.1" width="6.5" height="6.5" fill="#ff00a0" opacity="0.63"/>
<rect x="1502.3" y="738.1" width="6.5" height="13.0" fill="#ff9000" opacity="0.30"/>
<rect x="1508.8" y="738.1" width="6.5" height="6.5" fill="#ff5800" opacity="0.66"/>
<rect x="1515.3" y="738.1" width="6.5" height="6.5" fill="#ff5800" opacity="0.37"/>
<rect x="1528.3" y="738.1" width="13.0" height="6.5" fill="#ff08c0" opacity="0.34"/>
<rect x="1157.8" y="744.6" width="13.0" height="6.5" fill="#ff0068" opacity="0.25"/>
<rect x="1170.8" y="744.6" width="6.5" height="13.0" fill="#ff00a0" opacity="0.40"/>
<rect x="1177.3" y="744.6" width="6.5" height="13.0" fill="#ff0068" opacity="0.68"/>
<rect x="1183.8" y="744.6" width="6.5" height="6.5" fill="#ff00a0" opacity="0.53"/>
<rect x="1190.3" y="744.6" width="6.5" height="6.5" fill="#ff5800" opacity="0.50"/>
<rect x="1196.8" y="744.6" width="13.0" height="6.5" fill="#ffb000" opacity="0.22"/>
<rect x="1216.3" y="744.6" width="6.5" height="6.5" fill="#ffa800" opacity="0.43"/>
<rect x="1222.8" y="744.6" width="6.5" height="6.5" fill="#ffb000" opacity="0.21"/>
<rect x="1235.8" y="744.6" width="6.5" height="6.5" fill="#ff5800" opacity="0.23"/>
<rect x="1242.3" y="744.6" width="6.5" height="13.0" fill="#ffb000" opacity="0.39"/>
<rect x="1495.8" y="744.6" width="6.5" height="6.5" fill="#ff08c0" opacity="0.21"/>
<rect x="1502.3" y="744.6" width="6.5" height="13.0" fill="#ff9000" opacity="0.23"/>
<rect x="1528.3" y="744.6" width="6.5" height="6.5" fill="#ff0080" opacity="0.18"/>
<rect x="1534.8" y="744.6" width="13.0" height="6.5" fill="#ff7000" opacity="0.60"/>
<rect x="1170.8" y="751.1" width="6.5" height="6.5" fill="#ff00a0" opacity="0.29"/>
<rect x="1177.3" y="751.1" width="6.5" height="13.0" fill="#ff00a0" opacity="0.71"/>
<rect x="1183.8" y="751.1" width="6.5" height="6.5" fill="#ff08c0" opacity="0.47"/>
<rect x="1190.3" y="751.1" width="6.5" height="6.5" fill="#ffb000" opacity="0.27"/>
<rect x="1196.8" y="751.1" width="13.0" height="6.5" fill="#ffb000" opacity="0.19"/>
<rect x="1209.8" y="751.1" width="6.5" height="13.0" fill="#ff2040" opacity="0.22"/>
<rect x="1508.8" y="751.1" width="13.0" height="6.5" fill="#ff9000" opacity="0.51"/>
<rect x="1515.3" y="751.1" width="6.5" height="6.5" fill="#ff0068" opacity="0.32"/>
<rect x="1521.8" y="751.1" width="13.0" height="6.5" fill="#ff0068" opacity="0.35"/>
<rect x="1528.3" y="751.1" width="6.5" height="6.5" fill="#ffa800" opacity="0.29"/>
<rect x="1534.8" y="751.1" width="13.0" height="13.0" fill="#ffa800" opacity="0.69"/>
<rect x="1541.3" y="751.1" width="6.5" height="6.5" fill="#ff9000" opacity="0.51"/>
<rect x="1151.3" y="757.6" width="13.0" height="6.5" fill="#ff00a0" opacity="0.45"/>
<rect x="1157.8" y="757.6" width="6.5" height="6.5" fill="#ff08c0" opacity="0.32"/>
<rect x="1170.8" y="757.6" width="6.5" height="13.0" fill="#ff0080" opacity="0.50"/>
<rect x="1196.8" y="757.6" width="6.5" height="6.5" fill="#ff5800" opacity="0.35"/>
<rect x="1216.3" y="757.6" width="6.5" height="6.5" fill="#ff2040" opacity="0.30"/>
<rect x="1508.8" y="757.6" width="6.5" height="6.5" fill="#ffa800" opacity="0.32"/>
<rect x="1528.3" y="757.6" width="13.0" height="6.5" fill="#ffa800" opacity="0.40"/>
<rect x="1541.3" y="757.6" width="6.5" height="6.5" fill="#ff7000" opacity="0.45"/>
<rect x="1151.3" y="764.1" width="13.0" height="13.0" fill="#ff0068" opacity="0.67"/>
<rect x="1157.8" y="764.1" width="6.5" height="6.5" fill="#ff00a0" opacity="0.58"/>
<rect x="1164.3" y="764.1" width="13.0" height="6.5" fill="#ff08c0" opacity="0.80"/>
<rect x="1177.3" y="764.1" width="13.0" height="6.5" fill="#ff08c0" opacity="0.59"/>
<rect x="1190.3" y="764.1" width="6.5" height="6.5" fill="#ff2040" opacity="0.47"/>
<rect x="1196.8" y="764.1" width="6.5" height="6.5" fill="#ff2040" opacity="0.41"/>
<rect x="1203.3" y="764.1" width="6.5" height="6.5" fill="#ff5800" opacity="0.38"/>
<rect x="1502.3" y="764.1" width="6.5" height="6.5" fill="#ffa800" opacity="0.40"/>
<rect x="1508.8" y="764.1" width="6.5" height="13.0" fill="#ffa800" opacity="0.39"/>
<rect x="1515.3" y="764.1" width="6.5" height="6.5" fill="#ff7000" opacity="0.56"/>
<rect x="1528.3" y="764.1" width="13.0" height="6.5" fill="#ff9000" opacity="0.60"/>
<rect x="1541.3" y="764.1" width="13.0" height="6.5" fill="#ff5800" opacity="0.63"/>
<rect x="1547.8" y="764.1" width="6.5" height="6.5" fill="#ffa800" opacity="0.66"/>
<rect x="1157.8" y="770.6" width="6.5" height="6.5" fill="#ff00a0" opacity="0.64"/>
<rect x="1164.3" y="770.6" width="6.5" height="6.5" fill="#ff08c0" opacity="0.78"/>
<rect x="1170.8" y="770.6" width="6.5" height="13.0" fill="#ff00a0" opacity="0.62"/>
<rect x="1177.3" y="770.6" width="6.5" height="6.5" fill="#ff2040" opacity="0.22"/>
<rect x="1489.3" y="770.6" width="6.5" height="6.5" fill="#ff2040" opacity="0.24"/>
<rect x="1502.3" y="770.6" width="6.5" height="13.0" fill="#ffb000" opacity="0.41"/>
<rect x="1508.8" y="770.6" width="6.5" height="6.5" fill="#ff5800" opacity="0.39"/>
<rect x="1521.8" y="770.6" width="13.0" height="13.0" fill="#ffa800" opacity="0.44"/>
<rect x="1528.3" y="770.6" width="6.5" height="13.0" fill="#ffa800" opacity="0.41"/>
<rect x="1541.3" y="770.6" width="6.5" height="6.5" fill="#ff9000" opacity="0.53"/>
<rect x="1547.8" y="770.6" width="13.0" height="6.5" fill="#ff7000" opacity="0.42"/>
<rect x="1164.3" y="777.1" width="6.5" height="13.0" fill="#ff0080" opacity="0.40"/>
<rect x="1177.3" y="777.1" width="6.5" height="6.5" fill="#ff2040" opacity="0.32"/>
<rect x="1190.3" y="777.1" width="6.5" height="13.0" fill="#ff2040" opacity="0.29"/>
<rect x="1495.8" y="777.1" width="6.5" height="6.5" fill="#ff2040" opacity="0.47"/>
<rect x="1502.3" y="777.1" width="6.5" height="6.5" fill="#ffa800" opacity="0.39"/>
<rect x="1515.3" y="777.1" width="6.5" height="13.0" fill="#ffa800" opacity="0.29"/>
<rect x="1528.3" y="777.1" width="6.5" height="13.0" fill="#ff7000" opacity="0.38"/>
<rect x="1534.8" y="777.1" width="6.5" height="6.5" fill="#ff7000" opacity="0.44"/>
<rect x="1541.3" y="777.1" width="6.5" height="13.0" fill="#ff5800" opacity="0.31"/>
<rect x="1547.8" y="777.1" width="6.5" height="13.0" fill="#ff9000" opacity="0.39"/>
<rect x="1183.8" y="783.6" width="6.5" height="13.0" fill="#ff2040" opacity="0.34"/>
<rect x="1502.3" y="783.6" width="6.5" height="6.5" fill="#ffa800" opacity="0.36"/>
<rect x="1508.8" y="783.6" width="13.0" height="6.5" fill="#ff5800" opacity="0.36"/>
<rect x="1515.3" y="783.6" width="13.0" height="6.5" fill="#ffa800" opacity="0.23"/>
<rect x="1528.3" y="783.6" width="6.5" height="6.5" fill="#ff5800" opacity="0.63"/>
<rect x="1534.8" y="783.6" width="6.5" height="13.0" fill="#ff5800" opacity="0.34"/>
<rect x="1541.3" y="783.6" width="6.5" height="6.5" fill="#ff9000" opacity="0.41"/>
<rect x="1547.8" y="783.6" width="6.5" height="6.5" fill="#ffa800" opacity="0.16"/>
<rect x="1164.3" y="790.1" width="6.5" height="6.5" fill="#ff0068" opacity="0.26"/>
<rect x="1508.8" y="790.1" width="6.5" height="6.5" fill="#ffb000" opacity="0.35"/>
<rect x="1515.3" y="790.1" width="13.0" height="6.5" fill="#ffb000" opacity="0.31"/>
<rect x="1528.3" y="790.1" width="6.5" height="6.5" fill="#ff9000" opacity="0.55"/>
<rect x="1541.3" y="790.1" width="13.0" height="6.5" fill="#ff9000" opacity="0.56"/>
<rect x="1547.8" y="790.1" width="13.0" height="6.5" fill="#ff7000" opacity="0.43"/>
<rect x="1164.3" y="796.6" width="6.5" height="6.5" fill="#ff9000" opacity="0.52"/>
<rect x="1515.3" y="796.6" width="6.5" height="6.5" fill="#ff5800" opacity="0.18"/>
<rect x="1521.8" y="796.6" width="6.5" height="6.5" fill="#ffb000" opacity="0.22"/>
<rect x="1528.3" y="796.6" width="6.5" height="13.0" fill="#ff5800" opacity="0.77"/>
<rect x="1534.8" y="796.6" width="6.5" height="6.5" fill="#ff7000" opacity="0.49"/>
<rect x="1541.3" y="796.6" width="6.5" height="6.5" fill="#ff9000" opacity="0.55"/>
<rect x="1547.8" y="796.6" width="13.0" height="6.5" fill="#ff9000" opacity="0.45"/>
<rect x="1151.3" y="803.1" width="13.0" height="6.5" fill="#ff0068" opacity="0.18"/>
<rect x="1164.3" y="803.1" width="6.5" height="6.5" fill="#ffa800" opacity="0.46"/>
<rect x="1177.3" y="803.1" width="13.0" height="6.5" fill="#ff2040" opacity="0.43"/>
<rect x="1183.8" y="803.1" width="6.5" height="6.5" fill="#ff2040" opacity="0.41"/>
<rect x="1528.3" y="803.1" width="6.5" height="6.5" fill="#ffa800" opacity="0.30"/>
<rect x="1534.8" y="803.1" width="13.0" height="6.5" fill="#ff9000" opacity="0.47"/>
<rect x="1541.3" y="803.1" width="13.0" height="13.0" fill="#ffa800" opacity="0.35"/>
<rect x="1547.8" y="803.1" width="6.5" height="6.5" fill="#ff9000" opacity="0.45"/>
<rect x="1151.3" y="809.6" width="6.5" height="6.5" fill="#ff08c0" opacity="0.56"/>
<rect x="1177.3" y="809.6" width="6.5" height="13.0" fill="#ff2040" opacity="0.29"/>
<rect x="1183.8" y="809.6" width="13.0" height="6.5" fill="#ff2040" opacity="0.44"/>
<rect x="1508.8" y="809.6" width="6.5" height="6.5" fill="#ffb000" opacity="0.25"/>
<rect x="1521.8" y="809.6" width="6.5" height="6.5" fill="#ffb000" opacity="0.45"/>
<rect x="1528.3" y="809.6" width="6.5" height="6.5" fill="#ff5800" opacity="0.39"/>
<rect x="1534.8" y="809.6" width="6.5" height="6.5" fill="#ff5800" opacity="0.48"/>
<rect x="1541.3" y="809.6" width="6.5" height="6.5" fill="#ff7000" opacity="0.55"/>
<rect x="1547.8" y="809.6" width="6.5" height="6.5" fill="#ff5800" opacity="0.24"/>
<rect x="1151.3" y="816.1" width="6.5" height="13.0" fill="#ff0080" opacity="0.56"/>
<rect x="1157.8" y="816.1" width="6.5" height="6.5" fill="#ff00a0" opacity="0.44"/>
<rect x="1164.3" y="816.1" width="6.5" height="6.5" fill="#ff00a0" opacity="0.56"/>
<rect x="1177.3" y="816.1" width="6.5" height="6.5" fill="#ffa800" opacity="0.28"/>
<rect x="1183.8" y="816.1" width="6.5" height="6.5" fill="#ff5800" opacity="0.16"/>
<rect x="1508.8" y="816.1" width="6.5" height="6.5" fill="#ff5800" opacity="0.20"/>
<rect x="1515.3" y="816.1" width="6.5" height="6.5" fill="#ffb000" opacity="0.41"/>
<rect x="1528.3" y="816.1" width="6.5" height="13.0" fill="#ffa800" opacity="0.39"/>
<rect x="1534.8" y="816.1" width="13.0" height="6.5" fill="#ffa800" opacity="0.78"/>
<rect x="1541.3" y="816.1" width="6.5" height="6.5" fill="#ffa800" opacity="0.68"/>
<rect x="1547.8" y="816.1" width="6.5" height="6.5" fill="#ff5800" opacity="0.34"/>
<rect x="1157.8" y="822.6" width="6.5" height="6.5" fill="#ff08c0" opacity="0.57"/>
<rect x="1164.3" y="822.6" width="13.0" height="6.5" fill="#ff0080" opacity="0.80"/>
<rect x="1177.3" y="822.6" width="6.5" height="13.0" fill="#ffb000" opacity="0.17"/>
<rect x="1183.8" y="822.6" width="6.5" height="6.5" fill="#ffb000" opacity="0.24"/>
<rect x="1508.8" y="822.6" width="13.0" height="6.5" fill="#ff5800" opacity="0.19"/>
<rect x="1534.8" y="822.6" width="6.5" height="6.5" fill="#ffa800" opacity="0.80"/>
<rect x="1547.8" y="822.6" width="6.5" height="13.0" fill="#ff0068" opacity="0.45"/>
<rect x="1151.3" y="829.1" width="6.5" height="13.0" fill="#ff00a0" opacity="0.64"/>
<rect x="1164.3" y="829.1" width="6.5" height="6.5" fill="#ff00a0" opacity="0.35"/>
<rect x="1508.8" y="829.1" width="6.5" height="6.5" fill="#ff5800" opacity="0.22"/>
<rect x="1515.3" y="829.1" width="6.5" height="6.5" fill="#ffb000" opacity="0.25"/>
<rect x="1528.3" y="829.1" width="6.5" height="6.5" fill="#ff5800" opacity="0.79"/>
<rect x="1534.8" y="829.1" width="13.0" height="6.5" fill="#ff7000" opacity="0.80"/>
<rect x="1541.3" y="829.1" width="6.5" height="13.0" fill="#ffa800" opacity="0.70"/>
<rect x="1547.8" y="829.1" width="6.5" height="13.0" fill="#ff9000" opacity="0.43"/>
<rect x="1151.3" y="835.6" width="13.0" height="6.5" fill="#ff0068" opacity="0.36"/>
<rect x="1157.8" y="835.6" width="6.5" height="6.5" fill="#ff08c0" opacity="0.15"/>
<rect x="1164.3" y="835.6" width="13.0" height="6.5" fill="#ff5800" opacity="0.42"/>
<rect x="1190.3" y="835.6" width="6.5" height="13.0" fill="#ffb000" opacity="0.42"/>
<rect x="1528.3" y="835.6" width="6.5" height="6.5" fill="#ffa800" opacity="0.64"/>
<rect x="1534.8" y="835.6" width="6.5" height="6.5" fill="#ff9000" opacity="0.80"/>
<rect x="1541.3" y="835.6" width="6.5" height="6.5" fill="#ff9000" opacity="0.77"/>
<rect x="1547.8" y="835.6" width="13.0" height="13.0" fill="#ffa800" opacity="0.36"/>
<rect x="1151.3" y="842.1" width="6.5" height="13.0" fill="#ffa800" opacity="0.38"/>
<rect x="1177.3" y="842.1" width="6.5" height="13.0" fill="#ff2040" opacity="0.24"/>
<rect x="1196.8" y="842.1" width="6.5" height="6.5" fill="#ff2040" opacity="0.34"/>
<rect x="1508.8" y="842.1" width="13.0" height="13.0" fill="#ff5800" opacity="0.43"/>
<rect x="1534.8" y="842.1" width="6.5" height="6.5" fill="#ff5800" opacity="0.38"/>
<rect x="1541.3" y="842.1" width="6.5" height="6.5" fill="#ff7000" opacity="0.65"/>
<rect x="1547.8" y="842.1" width="6.5" height="13.0" fill="#ff9000" opacity="0.68"/>
<rect x="1157.8" y="848.6" width="6.5" height="6.5" fill="#ff5800" opacity="0.50"/>
<rect x="1170.8" y="848.6" width="6.5" height="13.0" fill="#ff08c0" opacity="0.29"/>
<rect x="1177.3" y="848.6" width="6.5" height="6.5" fill="#ff0080" opacity="0.76"/>
<rect x="1196.8" y="848.6" width="6.5" height="6.5" fill="#ff2040" opacity="0.43"/>
<rect x="1203.3" y="848.6" width="6.5" height="6.5" fill="#ff2040" opacity="0.39"/>
<rect x="1209.8" y="848.6" width="6.5" height="13.0" fill="#ff2040" opacity="0.30"/>
<rect x="1495.8" y="848.6" width="13.0" height="6.5" fill="#ffb000" opacity="0.44"/>
<rect x="1521.8" y="848.6" width="6.5" height="6.5" fill="#ff0080" opacity="0.34"/>
<rect x="1528.3" y="848.6" width="6.5" height="6.5" fill="#ff00a0" opacity="0.35"/>
<rect x="1534.8" y="848.6" width="13.0" height="13.0" fill="#ff9000" opacity="0.20"/>
<rect x="1541.3" y="848.6" width="13.0" height="6.5" fill="#ff5800" opacity="0.74"/>
<rect x="1547.8" y="848.6" width="6.5" height="6.5" fill="#ff7000" opacity="0.80"/>
<rect x="1170.8" y="855.1" width="6.5" height="13.0" fill="#ff0068" opacity="0.36"/>
<rect x="1177.3" y="855.1" width="6.5" height="6.5" fill="#ff08c0" opacity="0.64"/>
<rect x="1183.8" y="855.1" width="6.5" height="6.5" fill="#ff00a0" opacity="0.55"/>
<rect x="1196.8" y="855.1" width="6.5" height="6.5" fill="#ff08c0" opacity="0.48"/>
<rect x="1203.3" y="855.1" width="6.5" height="13.0" fill="#ff2040" opacity="0.31"/>
<rect x="1209.8" y="855.1" width="6.5" height="6.5" fill="#ff2040" opacity="0.22"/>
<rect x="1242.3" y="855.1" width="6.5" height="13.0" fill="#ffa800" opacity="0.26"/>
<rect x="1248.8" y="855.1" width="6.5" height="6.5" fill="#ffb000" opacity="0.40"/>
<rect x="1255.3" y="855.1" width="6.5" height="6.5" fill="#ff2040" opacity="0.33"/>
<rect x="1261.8" y="855.1" width="13.0" height="6.5" fill="#ff2040" opacity="0.32"/>
<rect x="1456.8" y="855.1" width="13.0" height="13.0" fill="#ff2040" opacity="0.46"/>
<rect x="1469.8" y="855.1" width="13.0" height="13.0" fill="#ffa800" opacity="0.23"/>
<rect x="1476.3" y="855.1" width="13.0" height="13.0" fill="#ffa800" opacity="0.41"/>
<rect x="1495.8" y="855.1" width="6.5" height="6.5" fill="#ff5800" opacity="0.34"/>
<rect x="1502.3" y="855.1" width="6.5" height="13.0" fill="#ff9000" opacity="0.40"/>
<rect x="1508.8" y="855.1" width="13.0" height="6.5" fill="#ff0080" opacity="0.63"/>
<rect x="1515.3" y="855.1" width="6.5" height="13.0" fill="#ff00a0" opacity="0.49"/>
<rect x="1528.3" y="855.1" width="6.5" height="6.5" fill="#ff9000" opacity="0.42"/>
<rect x="1534.8" y="855.1" width="6.5" height="6.5" fill="#ff5800" opacity="0.68"/>
<rect x="1541.3" y="855.1" width="13.0" height="13.0" fill="#ff5800" opacity="0.65"/>
<rect x="1170.8" y="861.6" width="13.0" height="13.0" fill="#ff0068" opacity="0.45"/>
<rect x="1177.3" y="861.6" width="13.0" height="6.5" fill="#ff08c0" opacity="0.61"/>
<rect x="1183.8" y="861.6" width="6.5" height="13.0" fill="#ff00a0" opacity="0.54"/>
<rect x="1190.3" y="861.6" width="6.5" height="6.5" fill="#ff7000" opacity="0.31"/>
<rect x="1196.8" y="861.6" width="6.5" height="6.5" fill="#ff08c0" opacity="0.31"/>
<rect x="1203.3" y="861.6" width="13.0" height="6.5" fill="#ff00a0" opacity="0.44"/>
<rect x="1209.8" y="861.6" width="6.5" height="6.5" fill="#ff0080" opacity="0.31"/>
<rect x="1222.8" y="861.6" width="13.0" height="13.0" fill="#ff0068" opacity="0.27"/>
<rect x="1229.3" y="861.6" width="6.5" height="6.5" fill="#ff08c0" opacity="0.53"/>
<rect x="1235.8" y="861.6" width="6.5" height="13.0" fill="#ffa800" opacity="0.80"/>
<rect x="1242.3" y="861.6" width="13.0" height="6.5" fill="#ff7000" opacity="0.60"/>
<rect x="1248.8" y="861.6" width="6.5" height="6.5" fill="#ffa800" opacity="0.80"/>
<rect x="1255.3" y="861.6" width="6.5" height="6.5" fill="#ffa800" opacity="0.76"/>
<rect x="1261.8" y="861.6" width="6.5" height="6.5" fill="#ff5800" opacity="0.59"/>
<rect x="1294.3" y="861.6" width="6.5" height="13.0" fill="#ff2040" opacity="0.41"/>
<rect x="1300.8" y="861.6" width="6.5" height="6.5" fill="#ff2040" opacity="0.30"/>
<rect x="1320.3" y="861.6" width="6.5" height="6.5" fill="#ffa800" opacity="0.27"/>
<rect x="1326.8" y="861.6" width="6.5" height="6.5" fill="#ffb000" opacity="0.21"/>
<rect x="1333.3" y="861.6" width="6.5" height="6.5" fill="#ffb000" opacity="0.15"/>
<rect x="1346.3" y="861.6" width="6.5" height="13.0" fill="#ff5800" opacity="0.28"/>
<rect x="1352.8" y="861.6" width="6.5" height="6.5" fill="#ff5800" opacity="0.40"/>
<rect x="1378.8" y="861.6" width="13.0" height="6.5" fill="#ffa800" opacity="0.39"/>
<rect x="1385.3" y="861.6" width="6.5" height="13.0" fill="#ff5800" opacity="0.18"/>
<rect x="1417.8" y="861.6" width="13.0" height="13.0" fill="#ff7000" opacity="0.23"/>
<rect x="1443.8" y="861.6" width="6.5" height="13.0" fill="#ff0068" opacity="0.29"/>
<rect x="1450.3" y="861.6" width="13.0" height="6.5" fill="#ff0068" opacity="0.31"/>
<rect x="1456.8" y="861.6" width="6.5" height="6.5" fill="#ff08c0" opacity="0.26"/>
<rect x="1463.3" y="861.6" width="6.5" height="6.5" fill="#ffa800" opacity="0.43"/>
<rect x="1469.8" y="861.6" width="6.5" height="6.5" fill="#ff9000" opacity="0.50"/>
<rect x="1476.3" y="861.6" width="6.5" height="6.5" fill="#ff7000" opacity="0.40"/>
<rect x="1495.8" y="861.6" width="6.5" height="13.0" fill="#ff9000" opacity="0.39"/>
<rect x="1502.3" y="861.6" width="6.5" height="13.0" fill="#ff5800" opacity="0.35"/>
<rect x="1508.8" y="861.6" width="6.5" height="6.5" fill="#ff0080" opacity="0.46"/>
<rect x="1515.3" y="861.6" width="6.5" height="6.5" fill="#ff0080" opacity="0.26"/>
<rect x="1521.8" y="861.6" width="6.5" height="13.0" fill="#ff0080" opacity="0.13"/>
<rect x="1534.8" y="861.6" width="6.5" height="13.0" fill="#ffa800" opacity="0.80"/>
<rect x="1177.3" y="868.1" width="13.0" height="6.5" fill="#ff0080" opacity="0.16"/>
<rect x="1183.8" y="868.1" width="6.5" height="6.5" fill="#ff00a0" opacity="0.53"/>
<rect x="1190.3" y="868.1" width="6.5" height="6.5" fill="#ff0068" opacity="0.50"/>
<rect x="1196.8" y="868.1" width="13.0" height="13.0" fill="#ff0080" opacity="0.34"/>
<rect x="1229.3" y="868.1" width="6.5" height="6.5" fill="#ff08c0" opacity="0.54"/>
<rect x="1242.3" y="868.1" width="6.5" height="6.5" fill="#ff9000" opacity="0.30"/>
<rect x="1248.8" y="868.1" width="6.5" height="6.5" fill="#ffa800" opacity="0.39"/>
<rect x="1255.3" y="868.1" width="6.5" height="6.5" fill="#ffa800" opacity="0.52"/>
<rect x="1261.8" y="868.1" width="6.5" height="6.5" fill="#ff9000" opacity="0.41"/>
<rect x="1268.3" y="868.1" width="6.5" height="13.0" fill="#ffa800" opacity="0.61"/>
<rect x="1294.3" y="868.1" width="6.5" height="6.5" fill="#ff0080" opacity="0.45"/>
<rect x="1300.8" y="868.1" width="13.0" height="6.5" fill="#ff0080" opacity="0.52"/>
<rect x="1307.3" y="868.1" width="13.0" height="6.5" fill="#ff08c0" opacity="0.37"/>
<rect x="1313.8" y="868.1" width="6.5" height="13.0" fill="#ff08c0" opacity="0.27"/>
<rect x="1326.8" y="868.1" width="6.5" height="6.5" fill="#ff7000" opacity="0.30"/>
<rect x="1333.3" y="868.1" width="6.5" height="13.0" fill="#ff5800" opacity="0.74"/>
<rect x="1339.8" y="868.1" width="13.0" height="6.5" fill="#ff5800" opacity="0.60"/>
<rect x="1346.3" y="868.1" width="6.5" height="6.5" fill="#ff9000" opacity="0.54"/>
<rect x="1352.8" y="868.1" width="6.5" height="6.5" fill="#ff9000" opacity="0.35"/>
<rect x="1372.3" y="868.1" width="13.0" height="6.5" fill="#ff7000" opacity="0.29"/>
<rect x="1378.8" y="868.1" width="6.5" height="13.0" fill="#ff9000" opacity="0.35"/>
<rect x="1385.3" y="868.1" width="6.5" height="6.5" fill="#ff5800" opacity="0.48"/>
<rect x="1391.8" y="868.1" width="13.0" height="13.0" fill="#ff9000" opacity="0.33"/>
<rect x="1404.8" y="868.1" width="13.0" height="6.5" fill="#ff08c0" opacity="0.37"/>
<rect x="1411.3" y="868.1" width="13.0" height="13.0" fill="#ff08c0" opacity="0.33"/>
<rect x="1437.3" y="868.1" width="6.5" height="13.0" fill="#ff08c0" opacity="0.36"/>
<rect x="1443.8" y="868.1" width="6.5" height="6.5" fill="#ff08c0" opacity="0.46"/>
<rect x="1463.3" y="868.1" width="13.0" height="13.0" fill="#ff5800" opacity="0.47"/>
<rect x="1469.8" y="868.1" width="13.0" height="6.5" fill="#ff5800" opacity="0.50"/>
<rect x="1476.3" y="868.1" width="6.5" height="13.0" fill="#ff9000" opacity="0.38"/>
<rect x="1482.8" y="868.1" width="13.0" height="6.5" fill="#ff5800" opacity="0.41"/>
<rect x="1495.8" y="868.1" width="6.5" height="13.0" fill="#ff5800" opacity="0.44"/>
<rect x="1196.8" y="874.6" width="6.5" height="6.5" fill="#ff0068" opacity="0.51"/>
<rect x="1203.3" y="874.6" width="6.5" height="6.5" fill="#ff9000" opacity="0.45"/>
<rect x="1261.8" y="874.6" width="6.5" height="6.5" fill="#ff5800" opacity="0.31"/>
<rect x="1268.3" y="874.6" width="13.0" height="6.5" fill="#ff7000" opacity="0.61"/>
<rect x="1274.8" y="874.6" width="6.5" height="13.0" fill="#ff0080" opacity="0.37"/>
<rect x="1300.8" y="874.6" width="6.5" height="13.0" fill="#ff0080" opacity="0.46"/>
<rect x="1307.3" y="874.6" width="6.5" height="6.5" fill="#ff08c0" opacity="0.68"/>
<rect x="1313.8" y="874.6" width="6.5" height="6.5" fill="#ff08c0" opacity="0.37"/>
<rect x="1333.3" y="874.6" width="6.5" height="6.5" fill="#ff5800" opacity="0.71"/>
<rect x="1352.8" y="874.6" width="6.5" height="6.5" fill="#ff0080" opacity="0.59"/>
<rect x="1359.3" y="874.6" width="6.5" height="6.5" fill="#ff08c0" opacity="0.26"/>
<rect x="1365.8" y="874.6" width="6.5" height="13.0" fill="#ff0080" opacity="0.22"/>
<rect x="1372.3" y="874.6" width="6.5" height="13.0" fill="#ff0068" opacity="0.46"/>
<rect x="1378.8" y="874.6" width="13.0" height="6.5" fill="#ff7000" opacity="0.37"/>
<rect x="1385.3" y="874.6" width="6.5" height="13.0" fill="#ffa800" opacity="0.45"/>
<rect x="1391.8" y="874.6" width="6.5" height="6.5" fill="#ff9000" opacity="0.51"/>
<rect x="1398.3" y="874.6" width="6.5" height="6.5" fill="#ff0068" opacity="0.22"/>
<rect x="1411.3" y="874.6" width="13.0" height="13.0" fill="#ff0080" opacity="0.49"/>
<rect x="1417.8" y="874.6" width="13.0" height="13.0" fill="#ff0080" opacity="0.59"/>
<rect x="1437.3" y="874.6" width="6.5" height="13.0" fill="#ff0080" opacity="0.30"/>
<rect x="1443.8" y="874.6" width="13.0" height="13.0" fill="#ff0068" opacity="0.43"/>
<rect x="1450.3" y="874.6" width="6.5" height="13.0" fill="#ff5800" opacity="0.20"/>
<rect x="1456.8" y="874.6" width="6.5" height="6.5" fill="#ff9000" opacity="0.42"/>
<rect x="1463.3" y="874.6" width="13.0" height="6.5" fill="#ff7000" opacity="0.32"/>
<rect x="1476.3" y="874.6" width="6.5" height="6.5" fill="#ff9000" opacity="0.68"/>
<rect x="1482.8" y="874.6" width="6.5" height="6.5" fill="#ff9000" opacity="0.66"/>
<rect x="1489.3" y="874.6" width="13.0" height="6.5" fill="#ff7000" opacity="0.65"/>
<rect x="1313.8" y="881.1" width="6.5" height="13.0" fill="#ff08c0" opacity="0.27"/>
<rect x="1346.3" y="881.1" width="6.5" height="6.5" fill="#ff0080" opacity="0.56"/>
<rect x="1352.8" y="881.1" width="13.0" height="6.5" fill="#ff0068" opacity="0.37"/>
<rect x="1378.8" y="881.1" width="6.5" height="13.0" fill="#ff7000" opacity="0.19"/>
<rect x="1385.3" y="881.1" width="13.0" height="6.5" fill="#ff5800" opacity="0.34"/>
<path d="M1151.9,800.2 1151.5,792.6 1151.3,784.8 1151.6,777.2 1152.4,769.6 1154.1,762.3 1156.4,755.0 1159.1,747.9 1162.0,740.7 1165.2,733.7 1168.6,726.7 1172.4,719.9 1176.4,713.3 1180.8,707.0 1185.4,701.0 1190.4,695.2 1195.8,689.8 1201.4,684.7 1207.2,679.9 1213.3,675.3 1219.6,671.0 1226.1,666.8 1232.8,662.9 1239.5,659.2 1246.4,655.6 1253.3,652.2 1260.2,648.9 1267.2,645.8 1274.2,642.8 1281.4,640.3 1288.7,638.2 1296.2,636.6 1303.8,635.5 1311.4,634.8 1319.1,634.3 1326.8,634.2 1334.4,634.1 1342.1,634.2 1349.7,634.4 1357.4,634.5 1365.1,634.5 1372.7,634.5 1380.4,634.6 1388.0,634.9 1395.6,635.6 1403.2,636.7 1410.7,638.2 1418.2,640.2 1425.5,642.4 1432.7,645.0 1439.8,647.8 1446.8,650.8 1453.7,654.1 1460.5,657.7 1467.2,661.4 1473.8,665.3 1480.3,669.4 1486.7,673.7 1492.8,678.3 1498.7,683.2 1504.3,688.4 1509.5,693.9 1514.5,699.7 1519.3,705.7 1523.9,711.8 1528.4,718.0 1532.8,724.3 1536.9,730.7 1540.7,737.3 1544.2,744.1 1547.4,751.1 1550.2,758.3 1552.2,765.7 1553.6,773.2 1554.4,780.8 1554.8,788.4 1555.0,796.1 1555.1,803.7 1555.2,811.4 1555.4,819.1 1555.5,826.8 1555.2,834.4 1554.2,842.1 1552.2,849.5 1548.7,856.2 1543.7,862.0 1537.8,866.8 1531.2,870.6 1524.0,873.5 1516.5,875.6 1508.9,877.1 1501.2,878.1 1493.6,878.7 1486.0,879.0 1478.4,879.3 1470.8,879.7 1463.2,880.1 1455.5,880.6 1447.9,881.1 1440.3,881.6 1432.6,882.1 1425.0,882.6 1417.3,883.1 1409.7,883.5 1402.0,883.9 1394.4,884.3 1386.7,884.6 1379.0,884.8 1371.4,885.0 1363.7,885.1 1356.1,885.1 1348.4,885.1 1340.8,885.0 1333.1,884.9 1325.4,884.7 1317.8,884.4 1310.2,884.1 1302.5,883.8 1294.9,883.4 1287.3,882.9 1279.7,882.3 1272.0,881.7 1264.4,881.1 1256.8,880.5 1249.2,880.1 1241.5,879.8 1233.7,879.8 1225.9,880.0 1218.1,880.3 1210.3,880.3 1202.8,879.8 1195.4,878.3 1188.4,875.6 1181.6,872.1 1174.8,868.2 1168.4,863.9 1162.6,858.9 1157.8,852.9 1154.5,846.1 1153.1,838.7 1152.7,830.9 1152.6,823.1 1152.4,815.5 1152.2,807.9Z" fill="none" stroke="#f0f020" stroke-width="4.4" opacity="0.7"/>
<path d="M1151.9,800.2 1151.5,792.6 1151.3,784.8 1151.6,777.2 1152.4,769.6 1154.1,762.3 1156.4,755.0 1159.1,747.9 1162.0,740.7 1165.2,733.7 1168.6,726.7 1172.4,719.9 1176.4,713.3 1180.8,707.0 1185.4,701.0 1190.4,695.2 1195.8,689.8 1201.4,684.7 1207.2,679.9 1213.3,675.3 1219.6,671.0 1226.1,666.8 1232.8,662.9 1239.5,659.2 1246.4,655.6 1253.3,652.2 1260.2,648.9 1267.2,645.8 1274.2,642.8 1281.4,640.3 1288.7,638.2 1296.2,636.6 1303.8,635.5 1311.4,634.8 1319.1,634.3 1326.8,634.2 1334.4,634.1 1342.1,634.2 1349.7,634.4 1357.4,634.5 1365.1,634.5 1372.7,634.5 1380.4,634.6 1388.0,634.9 1395.6,635.6 1403.2,636.7 1410.7,638.2 1418.2,640.2 1425.5,642.4 1432.7,645.0 1439.8,647.8 1446.8,650.8 1453.7,654.1 1460.5,657.7 1467.2,661.4 1473.8,665.3 1480.3,669.4 1486.7,673.7 1492.8,678.3 1498.7,683.2 1504.3,688.4 1509.5,693.9 1514.5,699.7 1519.3,705.7 1523.9,711.8 1528.4,718.0 1532.8,724.3 1536.9,730.7 1540.7,737.3 1544.2,744.1 1547.4,751.1 1550.2,758.3 1552.2,765.7 1553.6,773.2 1554.4,780.8 1554.8,788.4 1555.0,796.1 1555.1,803.7 1555.2,811.4 1555.4,819.1 1555.5,826.8 1555.2,834.4 1554.2,842.1 1552.2,849.5 1548.7,856.2 1543.7,862.0 1537.8,866.8 1531.2,870.6 1524.0,873.5 1516.5,875.6 1508.9,877.1 1501.2,878.1 1493.6,878.7 1486.0,879.0 1478.4,879.3 1470.8,879.7 1463.2,880.1 1455.5,880.6 1447.9,881.1 1440.3,881.6 1432.6,882.1 1425.0,882.6 1417.3,883.1 1409.7,883.5 1402.0,883.9 1394.4,884.3 1386.7,884.6 1379.0,884.8 1371.4,885.0 1363.7,885.1 1356.1,885.1 1348.4,885.1 1340.8,885.0 1333.1,884.9 1325.4,884.7 1317.8,884.4 1310.2,884.1 1302.5,883.8 1294.9,883.4 1287.3,882.9 1279.7,882.3 1272.0,881.7 1264.4,881.1 1256.8,880.5 1249.2,880.1 1241.5,879.8 1233.7,879.8 1225.9,880.0 1218.1,880.3 1210.3,880.3 1202.8,879.8 1195.4,878.3 1188.4,875.6 1181.6,872.1 1174.8,868.2 1168.4,863.9 1162.6,858.9 1157.8,852.9 1154.5,846.1 1153.1,838.7 1152.7,830.9 1152.6,823.1 1152.4,815.5 1152.2,807.9Z" fill="none" stroke="#20e020" stroke-width="2.4" opacity="0.9"/>
</g>
<text x="6.60" y="1003.60" font-size="57.5" font-weight="bold" text-anchor="start" fill="#1a1718">C</text>
<text x="6.70" y="1523.00" font-size="57" font-weight="bold" text-anchor="start" fill="#1a1718">D</text>
<text x="317.50" y="1031.00" font-size="27.3" font-weight="bold" text-anchor="middle" fill="#000">Front</text>
<line x1="119.50" y1="1061.50" x2="119.50" y2="1350.70" stroke="#000" stroke-width="5.0" stroke-linecap="butt"/>
<line x1="108.80" y1="1348.20" x2="547.00" y2="1348.20" stroke="#000" stroke-width="5.1" stroke-linecap="butt"/>
<text x="106.60" y="1355.70" font-size="20.9" font-weight="bold" text-anchor="end" fill="#000">0</text>
<line x1="108.80" y1="1291.30" x2="119.50" y2="1291.30" stroke="#000" stroke-width="4.8" stroke-linecap="butt"/>
<text x="106.60" y="1298.80" font-size="20.9" font-weight="bold" text-anchor="end" fill="#000">200</text>
<line x1="108.80" y1="1234.40" x2="119.50" y2="1234.40" stroke="#000" stroke-width="4.8" stroke-linecap="butt"/>
<text x="106.60" y="1241.90" font-size="20.9" font-weight="bold" text-anchor="end" fill="#000">400</text>
<line x1="108.80" y1="1177.50" x2="119.50" y2="1177.50" stroke="#000" stroke-width="4.8" stroke-linecap="butt"/>
<text x="106.60" y="1185.00" font-size="20.9" font-weight="bold" text-anchor="end" fill="#000">600</text>
<line x1="108.80" y1="1120.60" x2="119.50" y2="1120.60" stroke="#000" stroke-width="4.8" stroke-linecap="butt"/>
<text x="106.60" y="1128.10" font-size="20.9" font-weight="bold" text-anchor="end" fill="#000">800</text>
<line x1="108.80" y1="1063.90" x2="119.50" y2="1063.90" stroke="#000" stroke-width="4.8" stroke-linecap="butt"/>
<text x="106.60" y="1071.40" font-size="20.9" font-weight="bold" text-anchor="end" fill="#000">1000</text>
<line x1="225.80" y1="1348.20" x2="225.80" y2="1358.40" stroke="#000" stroke-width="4.9" stroke-linecap="butt"/>
<text x="233.90" y="1377.30" font-size="22.5" font-weight="bold" text-anchor="end" fill="#000" transform="rotate(-45 233.90 1377.30)">Slow</text>
<line x1="438.20" y1="1348.20" x2="438.20" y2="1358.40" stroke="#000" stroke-width="4.9" stroke-linecap="butt"/>
<text x="446.30" y="1377.30" font-size="22.5" font-weight="bold" text-anchor="end" fill="#000" transform="rotate(-45 446.30 1377.30)">Fast</text>
<text x="48.40" y="1205.50" font-size="23.25" font-weight="bold" text-anchor="middle" fill="#000" transform="rotate(-90 48.40 1205.50)">Mean Keratin Flow (nm/min)</text>
<text x="315.60" y="1437.60" font-size="23.3" font-weight="bold" text-anchor="middle" fill="#000">Migration Speed</text>
<line x1="233.40" y1="1111.40" x2="439.80" y2="1111.40" stroke="#000" stroke-width="2.3" stroke-linecap="butt"/>
<line x1="233.40" y1="1102.70" x2="233.40" y2="1120.10" stroke="#000" stroke-width="2.3" stroke-linecap="butt"/>
<line x1="439.80" y1="1102.70" x2="439.80" y2="1120.10" stroke="#000" stroke-width="2.3" stroke-linecap="butt"/>
<text x="333.30" y="1116.30" font-size="24" text-anchor="middle" fill="#000">***</text>
<circle cx="208.7" cy="1209.5" r="5.9"/>
<circle cx="242.4" cy="1215.3" r="5.9"/>
<circle cx="225.7" cy="1219.7" r="5.9"/>
<circle cx="191.7" cy="1224.9" r="5.9"/>
<circle cx="208.7" cy="1232.3" r="5.9"/>
<circle cx="242.4" cy="1232.3" r="5.9"/>
<circle cx="225.7" cy="1238.5" r="5.9"/>
<circle cx="225.7" cy="1258.9" r="5.9"/>
<circle cx="242.4" cy="1258.9" r="5.9"/>
<circle cx="208.7" cy="1270.8" r="5.9"/>
<circle cx="225.7" cy="1278.3" r="5.9"/>
<circle cx="242.4" cy="1290.9" r="5.9"/>
<circle cx="225.7" cy="1300.4" r="5.9"/>
<rect x="449.7" y="1113.2" width="11.6" height="11.6"/>
<rect x="415.6" y="1130.5" width="11.6" height="11.6"/>
<rect x="432.7" y="1127.1" width="11.6" height="11.6"/>
<rect x="432.7" y="1146.5" width="11.6" height="11.6"/>
<rect x="415.6" y="1160.2" width="11.6" height="11.6"/>
<rect x="466.7" y="1157.8" width="11.6" height="11.6"/>
<rect x="432.7" y="1164.2" width="11.6" height="11.6"/>
<rect x="449.7" y="1162.5" width="11.6" height="11.6"/>
<rect x="398.6" y="1173.1" width="11.6" height="11.6"/>
<rect x="415.6" y="1185.0" width="11.6" height="11.6"/>
<rect x="449.7" y="1180.6" width="11.6" height="11.6"/>
<rect x="432.7" y="1189.1" width="11.6" height="11.6"/>
<rect x="449.7" y="1247.0" width="11.6" height="11.6"/>
<rect x="432.7" y="1264.7" width="11.6" height="11.6"/>
<line x1="152.50" y1="1248.34" x2="298.90" y2="1248.34" stroke="#000" stroke-width="5.3" stroke-linecap="butt"/>
<line x1="187.90" y1="1218.72" x2="263.50" y2="1218.72" stroke="#000" stroke-width="5.0" stroke-linecap="butt"/>
<line x1="187.90" y1="1278.30" x2="263.50" y2="1278.30" stroke="#000" stroke-width="5.0" stroke-linecap="butt"/>
<line x1="225.70" y1="1218.72" x2="225.70" y2="1278.30" stroke="#000" stroke-width="5.0" stroke-linecap="butt"/>
<line x1="365.27" y1="1177.19" x2="511.67" y2="1177.19" stroke="#000" stroke-width="5.3" stroke-linecap="butt"/>
<line x1="400.67" y1="1135.32" x2="476.27" y2="1135.32" stroke="#000" stroke-width="5.0" stroke-linecap="butt"/>
<line x1="400.67" y1="1219.74" x2="476.27" y2="1219.74" stroke="#000" stroke-width="5.0" stroke-linecap="butt"/>
<line x1="438.47" y1="1135.32" x2="438.47" y2="1219.74" stroke="#000" stroke-width="5.0" stroke-linecap="butt"/>
<text x="864.40" y="1031.00" font-size="27.3" font-weight="bold" text-anchor="middle" fill="#000">Center</text>
<line x1="651.10" y1="1061.50" x2="651.10" y2="1350.70" stroke="#000" stroke-width="5.0" stroke-linecap="butt"/>
<line x1="640.40" y1="1348.20" x2="1078.70" y2="1348.20" stroke="#000" stroke-width="5.1" stroke-linecap="butt"/>
<text x="638.20" y="1355.70" font-size="20.9" font-weight="bold" text-anchor="end" fill="#000">0</text>
<line x1="640.40" y1="1277.10" x2="651.10" y2="1277.10" stroke="#000" stroke-width="4.8" stroke-linecap="butt"/>
<text x="638.20" y="1284.60" font-size="20.9" font-weight="bold" text-anchor="end" fill="#000">200</text>
<line x1="640.40" y1="1206.00" x2="651.10" y2="1206.00" stroke="#000" stroke-width="4.8" stroke-linecap="butt"/>
<text x="638.20" y="1213.50" font-size="20.9" font-weight="bold" text-anchor="end" fill="#000">400</text>
<line x1="640.40" y1="1134.90" x2="651.10" y2="1134.90" stroke="#000" stroke-width="4.8" stroke-linecap="butt"/>
<text x="638.20" y="1142.40" font-size="20.9" font-weight="bold" text-anchor="end" fill="#000">600</text>
<line x1="640.40" y1="1063.90" x2="651.10" y2="1063.90" stroke="#000" stroke-width="4.8" stroke-linecap="butt"/>
<text x="638.20" y="1071.40" font-size="20.9" font-weight="bold" text-anchor="end" fill="#000">800</text>
<line x1="757.20" y1="1348.20" x2="757.20" y2="1358.40" stroke="#000" stroke-width="4.9" stroke-linecap="butt"/>
<text x="765.30" y="1377.30" font-size="22.5" font-weight="bold" text-anchor="end" fill="#000" transform="rotate(-45 765.30 1377.30)">Slow</text>
<line x1="970.40" y1="1348.20" x2="970.40" y2="1358.40" stroke="#000" stroke-width="4.9" stroke-linecap="butt"/>
<text x="978.50" y="1377.30" font-size="22.5" font-weight="bold" text-anchor="end" fill="#000" transform="rotate(-45 978.50 1377.30)">Fast</text>
<text x="592.20" y="1205.50" font-size="23.25" font-weight="bold" text-anchor="middle" fill="#000" transform="rotate(-90 592.20 1205.50)">Mean Keratin Flow (nm/min)</text>
<text x="847.00" y="1437.60" font-size="23.3" font-weight="bold" text-anchor="middle" fill="#000">Migration Speed</text>
<line x1="763.40" y1="1068.90" x2="970.40" y2="1068.90" stroke="#000" stroke-width="2.3" stroke-linecap="butt"/>
<line x1="763.40" y1="1060.20" x2="763.40" y2="1077.60" stroke="#000" stroke-width="2.3" stroke-linecap="butt"/>
<line x1="970.40" y1="1060.20" x2="970.40" y2="1077.60" stroke="#000" stroke-width="2.3" stroke-linecap="butt"/>
<text x="863.60" y="1073.80" font-size="24" text-anchor="middle" fill="#000">***</text>
<circle cx="723.6" cy="1251.7" r="5.9"/>
<circle cx="808.7" cy="1250.4" r="5.9"/>
<circle cx="740.6" cy="1264.0" r="5.9"/>
<circle cx="757.7" cy="1268.1" r="5.9"/>
<circle cx="774.7" cy="1264.0" r="5.9"/>
<circle cx="791.7" cy="1263.0" r="5.9"/>
<circle cx="740.6" cy="1284.4" r="5.9"/>
<circle cx="757.7" cy="1289.2" r="5.9"/>
<circle cx="774.7" cy="1280.7" r="5.9"/>
<circle cx="740.6" cy="1299.4" r="5.9"/>
<circle cx="774.7" cy="1300.4" r="5.9"/>
<circle cx="791.7" cy="1296.0" r="5.9"/>
<circle cx="757.7" cy="1310.6" r="5.9"/>
<rect x="964.6" y="1082.9" width="11.6" height="11.6"/>
<rect x="964.6" y="1141.8" width="11.6" height="11.6"/>
<rect x="929.9" y="1170.4" width="11.6" height="11.6"/>
<rect x="999.3" y="1168.7" width="11.6" height="11.6"/>
<rect x="947.6" y="1178.2" width="11.6" height="11.6"/>
<rect x="964.6" y="1179.2" width="11.6" height="11.6"/>
<rect x="981.6" y="1177.2" width="11.6" height="11.6"/>
<rect x="947.6" y="1201.3" width="11.6" height="11.6"/>
<rect x="981.6" y="1211.9" width="11.6" height="11.6"/>
<rect x="964.6" y="1218.4" width="11.6" height="11.6"/>
<rect x="981.6" y="1225.9" width="11.6" height="11.6"/>
<rect x="947.6" y="1234.0" width="11.6" height="11.6"/>
<rect x="964.6" y="1241.9" width="11.6" height="11.6"/>
<rect x="964.6" y="1282.0" width="11.6" height="11.6"/>
<line x1="684.46" y1="1278.64" x2="830.86" y2="1278.64" stroke="#000" stroke-width="5.3" stroke-linecap="butt"/>
<line x1="719.86" y1="1258.21" x2="795.46" y2="1258.21" stroke="#000" stroke-width="5.0" stroke-linecap="butt"/>
<line x1="719.86" y1="1298.38" x2="795.46" y2="1298.38" stroke="#000" stroke-width="5.0" stroke-linecap="butt"/>
<line x1="757.66" y1="1258.21" x2="757.66" y2="1298.38" stroke="#000" stroke-width="5.0" stroke-linecap="butt"/>
<line x1="897.23" y1="1199.66" x2="1043.63" y2="1199.66" stroke="#000" stroke-width="5.3" stroke-linecap="butt"/>
<line x1="932.63" y1="1186.38" x2="1008.23" y2="1186.38" stroke="#000" stroke-width="5.0" stroke-linecap="butt"/>
<line x1="932.63" y1="1212.26" x2="1008.23" y2="1212.26" stroke="#000" stroke-width="5.0" stroke-linecap="butt"/>
<line x1="970.43" y1="1186.38" x2="970.43" y2="1212.26" stroke="#000" stroke-width="5.0" stroke-linecap="butt"/>
<text x="1390.00" y="1031.00" font-size="27.3" font-weight="bold" text-anchor="middle" fill="#000">Back</text>
<line x1="1183.00" y1="1061.50" x2="1183.00" y2="1350.70" stroke="#000" stroke-width="5.0" stroke-linecap="butt"/>
<line x1="1172.30" y1="1348.20" x2="1611.00" y2="1348.20" stroke="#000" stroke-width="5.1" stroke-linecap="butt"/>
<text x="1170.10" y="1355.70" font-size="20.9" font-weight="bold" text-anchor="end" fill="#000">0</text>
<line x1="1172.30" y1="1277.10" x2="1183.00" y2="1277.10" stroke="#000" stroke-width="4.8" stroke-linecap="butt"/>
<text x="1170.10" y="1284.60" font-size="20.9" font-weight="bold" text-anchor="end" fill="#000">200</text>
<line x1="1172.30" y1="1206.00" x2="1183.00" y2="1206.00" stroke="#000" stroke-width="4.8" stroke-linecap="butt"/>
<text x="1170.10" y="1213.50" font-size="20.9" font-weight="bold" text-anchor="end" fill="#000">400</text>
<line x1="1172.30" y1="1134.90" x2="1183.00" y2="1134.90" stroke="#000" stroke-width="4.8" stroke-linecap="butt"/>
<text x="1170.10" y="1142.40" font-size="20.9" font-weight="bold" text-anchor="end" fill="#000">600</text>
<line x1="1172.30" y1="1063.90" x2="1183.00" y2="1063.90" stroke="#000" stroke-width="4.8" stroke-linecap="butt"/>
<text x="1170.10" y="1071.40" font-size="20.9" font-weight="bold" text-anchor="end" fill="#000">800</text>
<line x1="1289.30" y1="1348.20" x2="1289.30" y2="1358.40" stroke="#000" stroke-width="4.9" stroke-linecap="butt"/>
<text x="1297.40" y="1377.30" font-size="22.5" font-weight="bold" text-anchor="end" fill="#000" transform="rotate(-45 1297.40 1377.30)">Slow</text>
<line x1="1502.00" y1="1348.20" x2="1502.00" y2="1358.40" stroke="#000" stroke-width="4.9" stroke-linecap="butt"/>
<text x="1510.10" y="1377.30" font-size="22.5" font-weight="bold" text-anchor="end" fill="#000" transform="rotate(-45 1510.10 1377.30)">Fast</text>
<text x="1124.80" y="1205.50" font-size="23.25" font-weight="bold" text-anchor="middle" fill="#000" transform="rotate(-90 1124.80 1205.50)">Mean Keratin Flow (nm/min)</text>
<text x="1378.70" y="1437.60" font-size="23.3" font-weight="bold" text-anchor="middle" fill="#000">Migration Speed</text>
<line x1="1296.70" y1="1083.20" x2="1503.00" y2="1083.20" stroke="#000" stroke-width="2.3" stroke-linecap="butt"/>
<line x1="1296.70" y1="1074.50" x2="1296.70" y2="1091.90" stroke="#000" stroke-width="2.3" stroke-linecap="butt"/>
<line x1="1503.00" y1="1074.50" x2="1503.00" y2="1091.90" stroke="#000" stroke-width="2.3" stroke-linecap="butt"/>
<text x="1396.90" y="1088.10" font-size="24" text-anchor="middle" fill="#000">***</text>
<circle cx="1289.3" cy="1171.1" r="5.9"/>
<circle cx="1254.5" cy="1178.9" r="5.9"/>
<circle cx="1323.3" cy="1177.2" r="5.9"/>
<circle cx="1271.6" cy="1187.1" r="5.9"/>
<circle cx="1289.3" cy="1188.8" r="5.9"/>
<circle cx="1306.3" cy="1186.4" r="5.9"/>
<circle cx="1306.3" cy="1195.6" r="5.9"/>
<circle cx="1289.3" cy="1210.2" r="5.9"/>
<circle cx="1306.3" cy="1213.6" r="5.9"/>
<circle cx="1271.6" cy="1222.1" r="5.9"/>
<circle cx="1289.3" cy="1227.9" r="5.9"/>
<circle cx="1306.3" cy="1242.6" r="5.9"/>
<circle cx="1289.3" cy="1250.0" r="5.9"/>
<rect x="1496.2" y="1095.5" width="11.6" height="11.6"/>
<rect x="1479.2" y="1135.3" width="11.6" height="11.6"/>
<rect x="1513.2" y="1131.2" width="11.6" height="11.6"/>
<rect x="1496.2" y="1139.7" width="11.6" height="11.6"/>
<rect x="1462.2" y="1150.6" width="11.6" height="11.6"/>
<rect x="1547.3" y="1149.3" width="11.6" height="11.6"/>
<rect x="1530.3" y="1154.4" width="11.6" height="11.6"/>
<rect x="1479.2" y="1160.2" width="11.6" height="11.6"/>
<rect x="1496.2" y="1165.3" width="11.6" height="11.6"/>
<rect x="1513.2" y="1168.0" width="11.6" height="11.6"/>
<rect x="1513.2" y="1176.2" width="11.6" height="11.6"/>
<rect x="1479.2" y="1176.5" width="11.6" height="11.6"/>
<rect x="1496.2" y="1186.4" width="11.6" height="11.6"/>
<rect x="1496.2" y="1217.3" width="11.6" height="11.6"/>
<line x1="1216.06" y1="1203.74" x2="1362.46" y2="1203.74" stroke="#000" stroke-width="5.3" stroke-linecap="butt"/>
<line x1="1251.46" y1="1177.87" x2="1327.06" y2="1177.87" stroke="#000" stroke-width="5.0" stroke-linecap="butt"/>
<line x1="1251.46" y1="1229.28" x2="1327.06" y2="1229.28" stroke="#000" stroke-width="5.0" stroke-linecap="butt"/>
<line x1="1289.26" y1="1177.87" x2="1289.26" y2="1229.28" stroke="#000" stroke-width="5.0" stroke-linecap="butt"/>
<line x1="1428.82" y1="1162.89" x2="1575.22" y2="1162.89" stroke="#000" stroke-width="5.3" stroke-linecap="butt"/>
<line x1="1464.22" y1="1134.30" x2="1539.82" y2="1134.30" stroke="#000" stroke-width="5.0" stroke-linecap="butt"/>
<line x1="1464.22" y1="1191.49" x2="1539.82" y2="1191.49" stroke="#000" stroke-width="5.0" stroke-linecap="butt"/>
<line x1="1502.02" y1="1134.30" x2="1502.02" y2="1191.49" stroke="#000" stroke-width="5.0" stroke-linecap="butt"/>
<text x="302.60" y="1555.90" font-size="27.3" font-weight="bold" text-anchor="middle" fill="#000">Front / Back</text>
<line x1="111.20" y1="1586.20" x2="111.20" y2="1875.70" stroke="#000" stroke-width="5.0" stroke-linecap="butt"/>
<line x1="100.50" y1="1873.20" x2="538.60" y2="1873.20" stroke="#000" stroke-width="5.1" stroke-linecap="butt"/>
<text x="98.30" y="1880.70" font-size="20.9" font-weight="bold" text-anchor="end" fill="#000">0.0</text>
<line x1="100.50" y1="1802.00" x2="111.20" y2="1802.00" stroke="#000" stroke-width="4.8" stroke-linecap="butt"/>
<text x="98.30" y="1809.50" font-size="20.9" font-weight="bold" text-anchor="end" fill="#000">0.5</text>
<line x1="100.50" y1="1730.90" x2="111.20" y2="1730.90" stroke="#000" stroke-width="4.8" stroke-linecap="butt"/>
<text x="98.30" y="1738.40" font-size="20.9" font-weight="bold" text-anchor="end" fill="#000">1.0</text>
<line x1="100.50" y1="1659.70" x2="111.20" y2="1659.70" stroke="#000" stroke-width="4.8" stroke-linecap="butt"/>
<text x="98.30" y="1667.20" font-size="20.9" font-weight="bold" text-anchor="end" fill="#000">1.5</text>
<line x1="100.50" y1="1588.60" x2="111.20" y2="1588.60" stroke="#000" stroke-width="4.8" stroke-linecap="butt"/>
<text x="98.30" y="1596.10" font-size="20.9" font-weight="bold" text-anchor="end" fill="#000">2.0</text>
<line x1="217.20" y1="1873.20" x2="217.20" y2="1883.40" stroke="#000" stroke-width="4.9" stroke-linecap="butt"/>
<text x="225.30" y="1902.30" font-size="22.5" font-weight="bold" text-anchor="end" fill="#000" transform="rotate(-45 225.30 1902.30)">Slow</text>
<line x1="430.00" y1="1873.20" x2="430.00" y2="1883.40" stroke="#000" stroke-width="4.9" stroke-linecap="butt"/>
<text x="438.10" y="1902.30" font-size="22.5" font-weight="bold" text-anchor="end" fill="#000" transform="rotate(-45 438.10 1902.30)">Fast</text>
<text x="57.20" y="1730.20" font-size="23.45" font-weight="bold" text-anchor="middle" fill="#000" transform="rotate(-90 57.20 1730.20)">Ratio of Keratin Flows</text>
<text x="307.20" y="1963.10" font-size="23.3" font-weight="bold" text-anchor="middle" fill="#000">Migration Speed</text>
<line x1="224.00" y1="1625.00" x2="430.00" y2="1625.00" stroke="#000" stroke-width="2.3" stroke-linecap="butt"/>
<line x1="224.00" y1="1616.30" x2="224.00" y2="1633.70" stroke="#000" stroke-width="2.3" stroke-linecap="butt"/>
<line x1="430.00" y1="1616.30" x2="430.00" y2="1633.70" stroke="#000" stroke-width="2.3" stroke-linecap="butt"/>
<text x="323.30" y="1629.90" font-size="24" text-anchor="middle" fill="#000">**</text>
<circle cx="234.2" cy="1703.7" r="5.9"/>
<circle cx="217.2" cy="1710.5" r="5.9"/>
<circle cx="183.1" cy="1728.6" r="5.9"/>
<circle cx="200.2" cy="1733.7" r="5.9"/>
<circle cx="234.2" cy="1732.0" r="5.9"/>
<circle cx="217.2" cy="1737.7" r="5.9"/>
<circle cx="234.2" cy="1741.8" r="5.9"/>
<circle cx="217.2" cy="1755.4" r="5.9"/>
<circle cx="200.2" cy="1767.4" r="5.9"/>
<circle cx="217.2" cy="1775.9" r="5.9"/>
<circle cx="200.2" cy="1787.1" r="5.9"/>
<circle cx="234.2" cy="1787.8" r="5.9"/>
<circle cx="217.2" cy="1798.3" r="5.9"/>
<rect x="424.2" y="1637.6" width="11.6" height="11.6"/>
<rect x="407.1" y="1666.2" width="11.6" height="11.6"/>
<rect x="424.2" y="1673.4" width="11.6" height="11.6"/>
<rect x="441.2" y="1671.7" width="11.6" height="11.6"/>
<rect x="390.1" y="1698.6" width="11.6" height="11.6"/>
<rect x="458.2" y="1696.2" width="11.6" height="11.6"/>
<rect x="407.1" y="1704.7" width="11.6" height="11.6"/>
<rect x="441.2" y="1701.3" width="11.6" height="11.6"/>
<rect x="424.2" y="1706.4" width="11.6" height="11.6"/>
<rect x="407.1" y="1713.9" width="11.6" height="11.6"/>
<rect x="441.2" y="1718.3" width="11.6" height="11.6"/>
<rect x="424.2" y="1725.8" width="11.6" height="11.6"/>
<rect x="424.2" y="1756.8" width="11.6" height="11.6"/>
<rect x="424.2" y="1780.3" width="11.6" height="11.6"/>
<line x1="143.99" y1="1750.68" x2="290.39" y2="1750.68" stroke="#000" stroke-width="5.3" stroke-linecap="butt"/>
<line x1="179.39" y1="1720.04" x2="254.99" y2="1720.04" stroke="#000" stroke-width="5.0" stroke-linecap="butt"/>
<line x1="179.39" y1="1780.98" x2="254.99" y2="1780.98" stroke="#000" stroke-width="5.0" stroke-linecap="butt"/>
<line x1="217.19" y1="1720.04" x2="217.19" y2="1780.98" stroke="#000" stroke-width="5.0" stroke-linecap="butt"/>
<line x1="356.76" y1="1708.81" x2="503.16" y2="1708.81" stroke="#000" stroke-width="5.3" stroke-linecap="butt"/>
<line x1="392.16" y1="1672.72" x2="467.76" y2="1672.72" stroke="#000" stroke-width="5.0" stroke-linecap="butt"/>
<line x1="392.16" y1="1745.57" x2="467.76" y2="1745.57" stroke="#000" stroke-width="5.0" stroke-linecap="butt"/>
<line x1="429.96" y1="1672.72" x2="429.96" y2="1745.57" stroke="#000" stroke-width="5.0" stroke-linecap="butt"/>
<text x="835.40" y="1555.90" font-size="27.3" font-weight="bold" text-anchor="middle" fill="#000">Front / Center</text>
<line x1="639.50" y1="1586.20" x2="639.50" y2="1875.70" stroke="#000" stroke-width="5.0" stroke-linecap="butt"/>
<line x1="628.80" y1="1873.20" x2="1067.40" y2="1873.20" stroke="#000" stroke-width="5.1" stroke-linecap="butt"/>
<text x="626.60" y="1880.70" font-size="20.9" font-weight="bold" text-anchor="end" fill="#000">0</text>
<line x1="628.80" y1="1778.30" x2="639.50" y2="1778.30" stroke="#000" stroke-width="4.8" stroke-linecap="butt"/>
<text x="626.60" y="1785.80" font-size="20.9" font-weight="bold" text-anchor="end" fill="#000">1</text>
<line x1="628.80" y1="1683.50" x2="639.50" y2="1683.50" stroke="#000" stroke-width="4.8" stroke-linecap="butt"/>
<text x="626.60" y="1691.00" font-size="20.9" font-weight="bold" text-anchor="end" fill="#000">2</text>
<line x1="628.80" y1="1588.60" x2="639.50" y2="1588.60" stroke="#000" stroke-width="4.8" stroke-linecap="butt"/>
<text x="626.60" y="1596.10" font-size="20.9" font-weight="bold" text-anchor="end" fill="#000">3</text>
<line x1="745.70" y1="1873.20" x2="745.70" y2="1883.40" stroke="#000" stroke-width="4.9" stroke-linecap="butt"/>
<text x="753.80" y="1902.30" font-size="22.5" font-weight="bold" text-anchor="end" fill="#000" transform="rotate(-45 753.80 1902.30)">Slow</text>
<line x1="958.50" y1="1873.20" x2="958.50" y2="1883.40" stroke="#000" stroke-width="4.9" stroke-linecap="butt"/>
<text x="966.60" y="1902.30" font-size="22.5" font-weight="bold" text-anchor="end" fill="#000" transform="rotate(-45 966.60 1902.30)">Fast</text>
<text x="603.80" y="1730.20" font-size="23.45" font-weight="bold" text-anchor="middle" fill="#000" transform="rotate(-90 603.80 1730.20)">Ratio of Keratin Flows</text>
<text x="835.40" y="1963.10" font-size="23.3" font-weight="bold" text-anchor="middle" fill="#000">Migration Speed</text>
<line x1="752.60" y1="1625.00" x2="958.50" y2="1625.00" stroke="#000" stroke-width="2.3" stroke-linecap="butt"/>
<line x1="752.60" y1="1616.30" x2="752.60" y2="1633.70" stroke="#000" stroke-width="2.3" stroke-linecap="butt"/>
<line x1="958.50" y1="1616.30" x2="958.50" y2="1633.70" stroke="#000" stroke-width="2.3" stroke-linecap="butt"/>
<text x="852.70" y="1629.90" font-size="24" text-anchor="middle" fill="#000">*</text>
<circle cx="763.4" cy="1644.1" r="5.9"/>
<circle cx="746.4" cy="1650.9" r="5.9"/>
<circle cx="746.4" cy="1670.3" r="5.9"/>
<circle cx="763.4" cy="1691.1" r="5.9"/>
<circle cx="746.4" cy="1699.3" r="5.9"/>
<circle cx="695.4" cy="1701.7" r="5.9"/>
<circle cx="711.7" cy="1712.2" r="5.9"/>
<circle cx="729.4" cy="1712.9" r="5.9"/>
<circle cx="746.4" cy="1717.3" r="5.9"/>
<circle cx="763.4" cy="1712.2" r="5.9"/>
<circle cx="780.5" cy="1710.5" r="5.9"/>
<circle cx="763.4" cy="1741.1" r="5.9"/>
<circle cx="746.4" cy="1756.5" r="5.9"/>
<rect x="935.7" y="1680.2" width="11.6" height="11.6"/>
<rect x="952.7" y="1681.9" width="11.6" height="11.6"/>
<rect x="969.7" y="1679.5" width="11.6" height="11.6"/>
<rect x="952.7" y="1699.6" width="11.6" height="11.6"/>
<rect x="918.7" y="1713.9" width="11.6" height="11.6"/>
<rect x="935.7" y="1717.6" width="11.6" height="11.6"/>
<rect x="935.7" y="1721.1" width="11.6" height="11.6"/>
<rect x="952.7" y="1718.3" width="11.6" height="11.6"/>
<rect x="969.7" y="1715.6" width="11.6" height="11.6"/>
<rect x="952.7" y="1737.1" width="11.6" height="11.6"/>
<rect x="969.7" y="1736.4" width="11.6" height="11.6"/>
<rect x="935.7" y="1751.3" width="11.6" height="11.6"/>
<rect x="952.7" y="1763.6" width="11.6" height="11.6"/>
<rect x="952.7" y="1811.3" width="11.6" height="11.6"/>
<line x1="672.54" y1="1701.66" x2="818.94" y2="1701.66" stroke="#000" stroke-width="5.3" stroke-linecap="butt"/>
<line x1="707.94" y1="1669.66" x2="783.54" y2="1669.66" stroke="#000" stroke-width="5.0" stroke-linecap="butt"/>
<line x1="707.94" y1="1733.66" x2="783.54" y2="1733.66" stroke="#000" stroke-width="5.0" stroke-linecap="butt"/>
<line x1="745.74" y1="1669.66" x2="745.74" y2="1733.66" stroke="#000" stroke-width="5.0" stroke-linecap="butt"/>
<line x1="885.31" y1="1728.89" x2="1031.71" y2="1728.89" stroke="#000" stroke-width="5.3" stroke-linecap="butt"/>
<line x1="920.71" y1="1693.15" x2="996.31" y2="1693.15" stroke="#000" stroke-width="5.0" stroke-linecap="butt"/>
<line x1="920.71" y1="1764.64" x2="996.31" y2="1764.64" stroke="#000" stroke-width="5.0" stroke-linecap="butt"/>
<line x1="958.51" y1="1693.15" x2="958.51" y2="1764.64" stroke="#000" stroke-width="5.0" stroke-linecap="butt"/>
<text x="1366.20" y="1558.60" font-size="27.3" font-weight="bold" text-anchor="middle" fill="#000">Back / Center</text>
<line x1="1171.80" y1="1589.00" x2="1171.80" y2="1878.50" stroke="#000" stroke-width="5.0" stroke-linecap="butt"/>
<line x1="1161.10" y1="1876.00" x2="1599.00" y2="1876.00" stroke="#000" stroke-width="5.1" stroke-linecap="butt"/>
<text x="1158.90" y="1883.50" font-size="20.9" font-weight="bold" text-anchor="end" fill="#000">0</text>
<line x1="1161.10" y1="1804.80" x2="1171.80" y2="1804.80" stroke="#000" stroke-width="4.8" stroke-linecap="butt"/>
<text x="1158.90" y="1812.30" font-size="20.9" font-weight="bold" text-anchor="end" fill="#000">1</text>
<line x1="1161.10" y1="1733.70" x2="1171.80" y2="1733.70" stroke="#000" stroke-width="4.8" stroke-linecap="butt"/>
<text x="1158.90" y="1741.20" font-size="20.9" font-weight="bold" text-anchor="end" fill="#000">2</text>
<line x1="1161.10" y1="1662.60" x2="1171.80" y2="1662.60" stroke="#000" stroke-width="4.8" stroke-linecap="butt"/>
<text x="1158.90" y="1670.10" font-size="20.9" font-weight="bold" text-anchor="end" fill="#000">3</text>
<line x1="1161.10" y1="1591.40" x2="1171.80" y2="1591.40" stroke="#000" stroke-width="4.8" stroke-linecap="butt"/>
<text x="1158.90" y="1598.90" font-size="20.9" font-weight="bold" text-anchor="end" fill="#000">4</text>
<line x1="1278.00" y1="1876.00" x2="1278.00" y2="1886.20" stroke="#000" stroke-width="4.9" stroke-linecap="butt"/>
<text x="1286.10" y="1905.10" font-size="22.5" font-weight="bold" text-anchor="end" fill="#000" transform="rotate(-45 1286.10 1905.10)">Slow</text>
<line x1="1490.10" y1="1876.00" x2="1490.10" y2="1886.20" stroke="#000" stroke-width="4.9" stroke-linecap="butt"/>
<text x="1498.20" y="1905.10" font-size="22.5" font-weight="bold" text-anchor="end" fill="#000" transform="rotate(-45 1498.20 1905.10)">Fast</text>
<text x="1136.00" y="1733.20" font-size="23.45" font-weight="bold" text-anchor="middle" fill="#000" transform="rotate(-90 1136.00 1733.20)">Ratio of Keratin Flows</text>
<text x="1367.30" y="1965.80" font-size="23.3" font-weight="bold" text-anchor="middle" fill="#000">Migration Speed</text>
<line x1="1279.00" y1="1657.10" x2="1485.70" y2="1657.10" stroke="#000" stroke-width="2.3" stroke-linecap="butt"/>
<line x1="1279.00" y1="1648.40" x2="1279.00" y2="1665.80" stroke="#000" stroke-width="2.3" stroke-linecap="butt"/>
<line x1="1485.70" y1="1648.40" x2="1485.70" y2="1665.80" stroke="#000" stroke-width="2.3" stroke-linecap="butt"/>
<text x="1379.90" y="1662.00" font-size="24" text-anchor="middle" fill="#000">***</text>
<circle cx="1312.1" cy="1670.7" r="5.9"/>
<circle cx="1261.0" cy="1674.8" r="5.9"/>
<circle cx="1295.0" cy="1674.8" r="5.9"/>
<circle cx="1278.0" cy="1680.9" r="5.9"/>
<circle cx="1261.0" cy="1688.4" r="5.9"/>
<circle cx="1278.0" cy="1704.7" r="5.9"/>
<circle cx="1278.0" cy="1733.3" r="5.9"/>
<circle cx="1244.0" cy="1739.4" r="5.9"/>
<circle cx="1261.0" cy="1749.7" r="5.9"/>
<circle cx="1278.0" cy="1750.7" r="5.9"/>
<circle cx="1295.0" cy="1746.3" r="5.9"/>
<circle cx="1295.0" cy="1770.1" r="5.9"/>
<circle cx="1278.0" cy="1774.5" r="5.9"/>
<rect x="1484.3" y="1723.4" width="11.6" height="11.6"/>
<rect x="1467.3" y="1747.3" width="11.6" height="11.6"/>
<rect x="1484.3" y="1754.1" width="11.6" height="11.6"/>
<rect x="1502.0" y="1750.7" width="11.6" height="11.6"/>
<rect x="1450.3" y="1767.7" width="11.6" height="11.6"/>
<rect x="1502.0" y="1773.8" width="11.6" height="11.6"/>
<rect x="1467.3" y="1779.6" width="11.6" height="11.6"/>
<rect x="1484.3" y="1784.7" width="11.6" height="11.6"/>
<rect x="1450.3" y="1789.1" width="11.6" height="11.6"/>
<rect x="1518.3" y="1790.8" width="11.6" height="11.6"/>
<rect x="1536.1" y="1787.1" width="11.6" height="11.6"/>
<rect x="1467.3" y="1801.7" width="11.6" height="11.6"/>
<rect x="1484.3" y="1803.4" width="11.6" height="11.6"/>
<rect x="1502.0" y="1801.7" width="11.6" height="11.6"/>
<line x1="1204.82" y1="1720.38" x2="1351.22" y2="1720.38" stroke="#000" stroke-width="5.3" stroke-linecap="butt"/>
<line x1="1240.22" y1="1680.89" x2="1315.82" y2="1680.89" stroke="#000" stroke-width="5.0" stroke-linecap="butt"/>
<line x1="1240.22" y1="1758.85" x2="1315.82" y2="1758.85" stroke="#000" stroke-width="5.0" stroke-linecap="butt"/>
<line x1="1278.02" y1="1680.89" x2="1278.02" y2="1758.85" stroke="#000" stroke-width="5.0" stroke-linecap="butt"/>
<line x1="1416.91" y1="1780.98" x2="1563.31" y2="1780.98" stroke="#000" stroke-width="5.3" stroke-linecap="butt"/>
<line x1="1452.31" y1="1756.81" x2="1527.91" y2="1756.81" stroke="#000" stroke-width="5.0" stroke-linecap="butt"/>
<line x1="1452.31" y1="1804.47" x2="1527.91" y2="1804.47" stroke="#000" stroke-width="5.0" stroke-linecap="butt"/>
<line x1="1490.11" y1="1756.81" x2="1490.11" y2="1804.47" stroke="#000" stroke-width="5.0" stroke-linecap="butt"/>
</svg>
</body></html>
